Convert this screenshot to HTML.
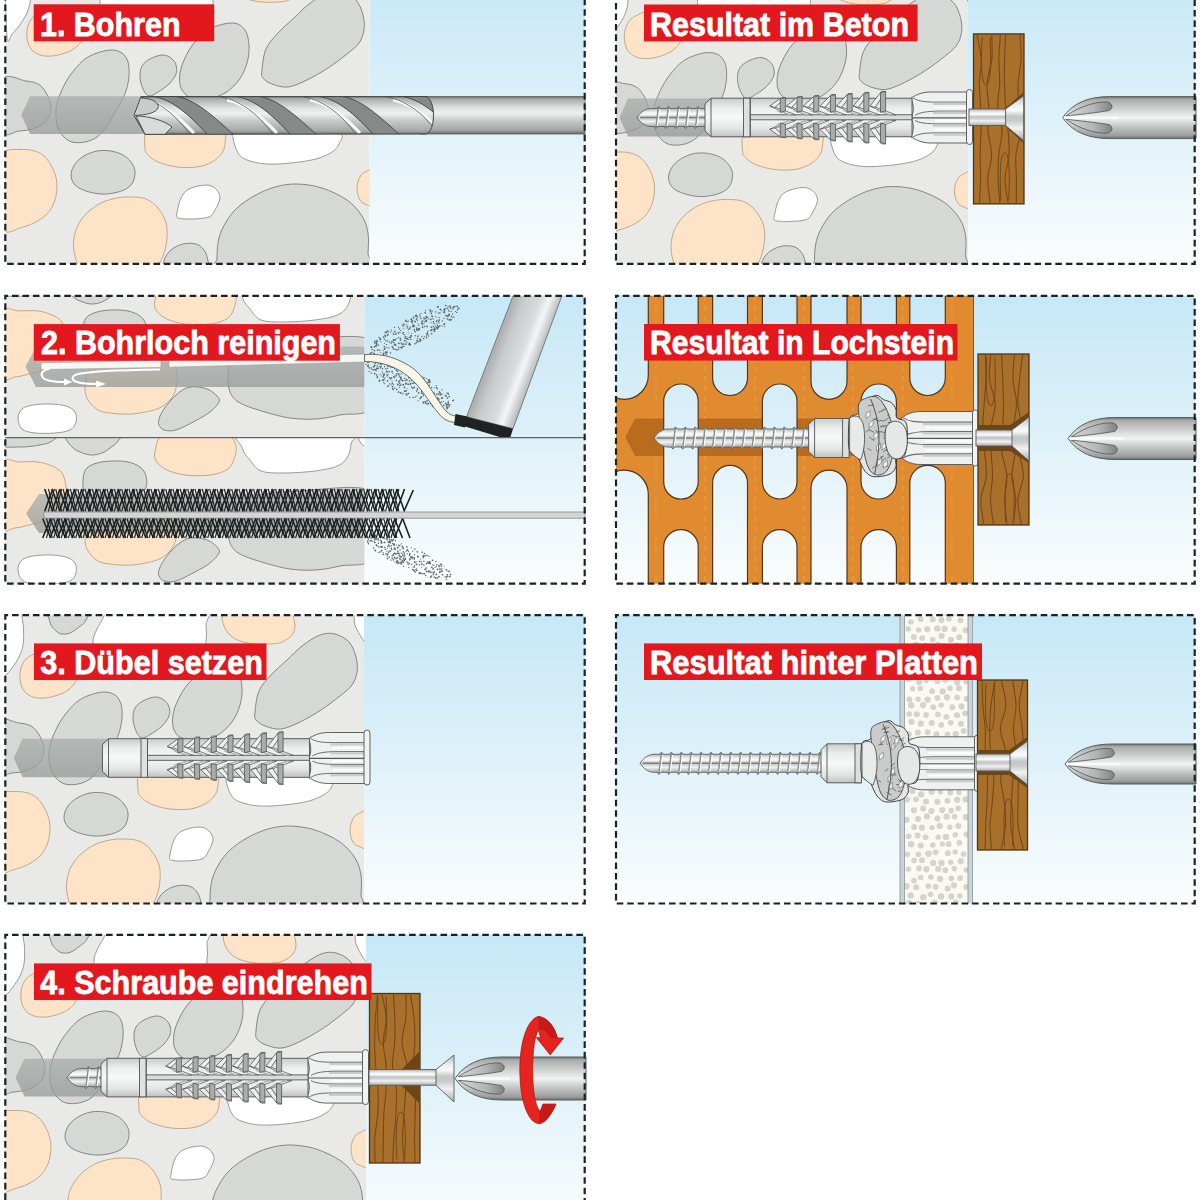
<!DOCTYPE html>
<html><head><meta charset="utf-8"><style>
html,body{margin:0;padding:0;background:#fff;overflow:hidden}
svg{display:block}
.lb{font-family:"Liberation Sans",sans-serif;font-weight:bold;font-size:33px;fill:#fff;stroke:#fff;stroke-width:0.8px;stroke-linejoin:round}
</style></head><body>
<svg width="1200" height="1200" viewBox="0 0 1200 1200">
<defs>
<linearGradient id="sky" x1="0" y1="0" x2="0" y2="1">
 <stop offset="0" stop-color="#c6e8f6"/><stop offset="0.45" stop-color="#dbf0f9"/><stop offset="0.75" stop-color="#edf7fb"/><stop offset="1" stop-color="#fafdfd"/>
</linearGradient>
<linearGradient id="hole" x1="0" y1="0" x2="0" y2="1">
 <stop offset="0" stop-color="#a6abaa" stop-opacity="0.72"/><stop offset="1" stop-color="#959a99" stop-opacity="0.76"/>
</linearGradient>
<linearGradient id="steel" x1="0" y1="0" x2="0" y2="1">
 <stop offset="0" stop-color="#656968"/><stop offset="0.07" stop-color="#a9acab"/><stop offset="0.3" stop-color="#dfe1e0"/><stop offset="0.45" stop-color="#eef0ef"/>
 <stop offset="0.65" stop-color="#c5c8c7"/><stop offset="0.9" stop-color="#a3a6a5"/><stop offset="1" stop-color="#5f6362"/>
</linearGradient>
<linearGradient id="plas" x1="0" y1="0" x2="0" y2="1">
 <stop offset="0" stop-color="#c9cccb"/><stop offset="0.25" stop-color="#eceeed"/><stop offset="0.5" stop-color="#f7f8f8"/><stop offset="0.8" stop-color="#e2e4e3"/><stop offset="1" stop-color="#bfc2c1"/>
</linearGradient>
<linearGradient id="scr" x1="0" y1="0" x2="0" y2="1">
 <stop offset="0" stop-color="#b4b8b7"/><stop offset="0.2" stop-color="#eceeee"/><stop offset="0.32" stop-color="#fbfbfb"/><stop offset="0.46" stop-color="#c4c7c6"/><stop offset="0.56" stop-color="#c9cccb"/><stop offset="0.72" stop-color="#f1f2f2"/><stop offset="1" stop-color="#a9adac"/>
</linearGradient>
<linearGradient id="steel2" x1="0" y1="0" x2="0" y2="1">
 <stop offset="0" stop-color="#6e7271"/><stop offset="0.07" stop-color="#a9acab"/><stop offset="0.3" stop-color="#cfd2d1"/><stop offset="0.5" stop-color="#f1f2f2"/><stop offset="0.75" stop-color="#bcbfbe"/><stop offset="0.93" stop-color="#9a9d9c"/><stop offset="1" stop-color="#6a6e6d"/>
</linearGradient>
<linearGradient id="flute" x1="0" y1="0" x2="1" y2="0">
 <stop offset="0" stop-color="#d6d8d7"/><stop offset="0.6" stop-color="#b3b6b5"/><stop offset="1" stop-color="#7f8382"/>
</linearGradient>
<g id="patA"><path d="M0.0,600.0 C3.7,587.0 18.3,597.3 22.0,600.0 C25.7,602.7 21.8,611.3 22.0,616.0 C22.2,620.7 23.3,623.2 23.5,628.0 C23.7,632.8 23.8,640.2 23.0,645.0 C22.2,649.8 20.8,653.2 19.0,657.0 C17.2,660.8 14.3,664.8 12.0,668.0 C9.7,671.2 7.0,674.3 5.0,676.0 C3.0,677.7 0.8,690.7 0.0,678.0 C-0.8,665.3 -3.7,613.0 0.0,600.0Z" fill="#ffffff" stroke="#9a9b9a" stroke-width="1"/>
<path d="M48.0,600.0 C41.0,603.7 48.7,616.8 50.0,622.0 C51.3,627.2 54.0,629.0 56.0,631.0 C58.0,633.0 59.7,633.7 62.0,634.0 C64.3,634.3 67.2,634.2 70.0,633.0 C72.8,631.8 76.3,629.2 79.0,627.0 C81.7,624.8 83.8,624.5 86.0,620.0 C88.2,615.5 98.3,603.3 92.0,600.0 C85.7,596.7 55.0,596.3 48.0,600.0Z" fill="#d6d8d5" stroke="#858685" stroke-width="1"/>
<path d="M108.0,600.0 C91.3,602.7 105.8,611.2 104.0,616.0 C102.2,620.8 98.8,624.7 97.0,629.0 C95.2,633.3 92.5,638.2 93.0,642.0 C93.5,645.8 90.5,649.8 100.0,652.0 C109.5,654.2 133.3,655.3 150.0,655.0 C166.7,654.7 190.7,652.5 200.0,650.0 C209.3,647.5 205.0,644.2 206.0,640.0 C207.0,635.8 206.3,631.7 206.0,625.0 C205.7,618.3 220.3,604.2 204.0,600.0 C187.7,595.8 124.7,597.3 108.0,600.0Z" fill="#ffffff" stroke="#9a9b9a" stroke-width="1"/>
<path d="M34.0,654.0 C31.3,655.3 28.2,656.7 26.0,659.0 C23.8,661.3 22.0,664.5 21.0,668.0 C20.0,671.5 19.5,676.2 20.0,680.0 C20.5,683.8 21.8,688.2 24.0,691.0 C26.2,693.8 29.5,695.8 33.0,697.0 C36.5,698.2 40.8,698.3 45.0,698.0 C49.2,697.7 54.2,696.3 58.0,695.0 C61.8,693.7 65.0,692.3 68.0,690.0 C71.0,687.7 74.3,684.3 76.0,681.0 C77.7,677.7 79.0,673.8 78.0,670.0 C77.0,666.2 73.8,661.0 70.0,658.0 C66.2,655.0 59.7,653.2 55.0,652.0 C50.3,650.8 45.5,650.7 42.0,651.0 C38.5,651.3 36.7,652.7 34.0,654.0Z" fill="#fde4c8" stroke="#c2a886" stroke-width="1"/>
<path d="M222.0,600.0 C210.5,602.7 221.7,611.7 222.0,616.0 C222.3,620.3 222.7,622.8 224.0,626.0 C225.3,629.2 227.3,632.5 230.0,635.0 C232.7,637.5 235.8,639.5 240.0,641.0 C244.2,642.5 249.8,643.5 255.0,644.0 C260.2,644.5 266.5,644.3 271.0,644.0 C275.5,643.7 278.5,643.5 282.0,642.0 C285.5,640.5 289.8,637.8 292.0,635.0 C294.2,632.2 295.0,628.8 295.0,625.0 C295.0,621.2 292.7,616.2 292.0,612.0 C291.3,607.8 302.7,602.0 291.0,600.0 C279.3,598.0 233.5,597.3 222.0,600.0Z" fill="#fde4c8" stroke="#c2a886" stroke-width="1"/>
<path d="M352.0,600.0 C348.5,602.7 353.5,611.8 354.0,616.0 C354.5,620.2 354.0,621.8 355.0,625.0 C356.0,628.2 358.2,632.0 360.0,635.0 C361.8,638.0 363.5,641.7 366.0,643.0 C368.5,644.3 373.5,650.2 375.0,643.0 C376.5,635.8 378.8,607.2 375.0,600.0 C371.2,592.8 355.5,597.3 352.0,600.0Z" fill="#ffffff" stroke="#9a9b9a" stroke-width="1"/>
<path d="M226.0,665.0 C231.5,665.3 235.3,668.2 238.0,672.0 C240.7,675.8 241.7,682.5 242.0,688.0 C242.3,693.5 241.7,699.3 240.0,705.0 C238.3,710.7 235.7,717.0 232.0,722.0 C228.3,727.0 223.3,731.8 218.0,735.0 C212.7,738.2 205.7,740.2 200.0,741.0 C194.3,741.8 188.3,741.8 184.0,740.0 C179.7,738.2 175.8,734.2 174.0,730.0 C172.2,725.8 172.3,720.0 173.0,715.0 C173.7,710.0 175.5,705.2 178.0,700.0 C180.5,694.8 183.5,689.0 188.0,684.0 C192.5,679.0 198.7,673.2 205.0,670.0 C211.3,666.8 220.5,664.7 226.0,665.0Z" fill="#d6d8d5" stroke="#858685" stroke-width="1"/>
<path d="M255.0,712.0 C255.5,707.2 256.3,697.2 259.0,691.0 C261.7,684.8 266.3,680.2 271.0,675.0 C275.7,669.8 281.8,664.8 287.0,660.0 C292.2,655.2 296.5,650.2 302.0,646.0 C307.5,641.8 314.5,637.0 320.0,635.0 C325.5,633.0 330.2,632.8 335.0,634.0 C339.8,635.2 345.5,638.2 349.0,642.0 C352.5,645.8 354.7,652.0 356.0,657.0 C357.3,662.0 357.7,667.3 357.0,672.0 C356.3,676.7 354.8,681.0 352.0,685.0 C349.2,689.0 345.2,691.8 340.0,696.0 C334.8,700.2 327.7,705.7 321.0,710.0 C314.3,714.3 306.7,718.8 300.0,722.0 C293.3,725.2 286.8,728.3 281.0,729.0 C275.2,729.7 269.2,727.5 265.0,726.0 C260.8,724.5 257.7,722.3 256.0,720.0 C254.3,717.7 254.5,716.8 255.0,712.0Z" fill="#d6d8d5" stroke="#858685" stroke-width="1"/>
<path d="M-5.0,722.0 C-1.0,713.7 13.0,722.3 19.0,723.0 C25.0,723.7 27.8,724.3 31.0,726.0 C34.2,727.7 36.2,730.5 38.0,733.0 C39.8,735.5 41.0,738.2 42.0,741.0 C43.0,743.8 44.0,747.0 44.0,750.0 C44.0,753.0 43.3,756.3 42.0,759.0 C40.7,761.7 38.8,764.0 36.0,766.0 C33.2,768.0 29.0,769.8 25.0,771.0 C21.0,772.2 17.0,772.7 12.0,773.0 C7.0,773.3 -2.2,781.5 -5.0,773.0 C-7.8,764.5 -9.0,730.3 -5.0,722.0Z" fill="#d6d8d5" stroke="#858685" stroke-width="1"/>
<path d="M54.0,734.0 C55.5,730.7 57.7,725.8 60.0,722.0 C62.3,718.2 65.0,714.5 68.0,711.0 C71.0,707.5 74.3,703.7 78.0,701.0 C81.7,698.3 85.7,696.5 90.0,695.0 C94.3,693.5 99.8,692.0 104.0,692.0 C108.2,692.0 112.2,693.0 115.0,695.0 C117.8,697.0 119.8,700.2 121.0,704.0 C122.2,707.8 122.3,713.2 122.0,718.0 C121.7,722.8 120.5,728.3 119.0,733.0 C117.5,737.7 115.2,741.8 113.0,746.0 C110.8,750.2 108.3,754.2 106.0,758.0 C103.7,761.8 101.7,765.5 99.0,769.0 C96.3,772.5 93.5,776.5 90.0,779.0 C86.5,781.5 82.2,783.2 78.0,784.0 C73.8,784.8 68.7,785.0 65.0,784.0 C61.3,783.0 58.5,780.8 56.0,778.0 C53.5,775.2 51.2,771.3 50.0,767.0 C48.8,762.7 48.8,756.2 49.0,752.0 C49.2,747.8 50.2,745.0 51.0,742.0 C51.8,739.0 52.5,737.3 54.0,734.0Z" fill="#d6d8d5" stroke="#858685" stroke-width="1"/>
<path d="M133.0,719.0 C132.8,715.2 133.3,711.0 135.0,708.0 C136.7,705.0 139.7,702.8 143.0,701.0 C146.3,699.2 151.5,697.2 155.0,697.0 C158.5,696.8 161.7,698.3 164.0,700.0 C166.3,701.7 168.2,704.3 169.0,707.0 C169.8,709.7 170.2,712.8 169.0,716.0 C167.8,719.2 165.0,723.0 162.0,726.0 C159.0,729.0 154.3,732.0 151.0,734.0 C147.7,736.0 144.5,738.5 142.0,738.0 C139.5,737.5 137.5,734.2 136.0,731.0 C134.5,727.8 133.2,722.8 133.0,719.0Z" fill="#d6d8d5" stroke="#858685" stroke-width="1"/>
<path d="M140.0,770.0 C136.3,774.2 137.8,785.5 138.0,790.0 C138.2,794.5 138.8,794.7 141.0,797.0 C143.2,799.3 146.2,802.0 151.0,804.0 C155.8,806.0 163.5,808.2 170.0,809.0 C176.5,809.8 184.2,809.8 190.0,809.0 C195.8,808.2 200.8,806.3 205.0,804.0 C209.2,801.7 212.8,798.2 215.0,795.0 C217.2,791.8 217.8,788.8 218.0,785.0 C218.2,781.2 220.7,775.3 216.0,772.0 C211.3,768.7 199.3,766.2 190.0,765.0 C180.7,763.8 168.3,764.2 160.0,765.0 C151.7,765.8 143.7,765.8 140.0,770.0Z" fill="#fde4c8" stroke="#c2a886" stroke-width="1"/>
<path d="M228.0,772.0 C222.3,774.0 225.5,776.2 226.0,780.0 C226.5,783.8 228.7,791.3 231.0,795.0 C233.3,798.7 235.3,800.2 240.0,802.0 C244.7,803.8 251.7,805.5 259.0,806.0 C266.3,806.5 275.7,805.8 284.0,805.0 C292.3,804.2 302.2,802.8 309.0,801.0 C315.8,799.2 321.2,796.5 325.0,794.0 C328.8,791.5 330.7,789.2 332.0,786.0 C333.3,782.8 338.3,778.0 333.0,775.0 C327.7,772.0 312.2,769.2 300.0,768.0 C287.8,766.8 272.0,767.3 260.0,768.0 C248.0,768.7 233.7,770.0 228.0,772.0Z" fill="#ffffff" stroke="#9a9b9a" stroke-width="1"/>
<path d="M64.0,817.0 C64.0,813.5 65.8,809.2 68.0,806.0 C70.2,802.8 73.3,800.2 77.0,798.0 C80.7,795.8 85.5,793.8 90.0,793.0 C94.5,792.2 99.7,792.3 104.0,793.0 C108.3,793.7 112.7,795.2 116.0,797.0 C119.3,798.8 122.0,801.3 124.0,804.0 C126.0,806.7 127.7,809.7 128.0,813.0 C128.3,816.3 127.5,821.0 126.0,824.0 C124.5,827.0 122.2,829.2 119.0,831.0 C115.8,832.8 111.2,834.2 107.0,835.0 C102.8,835.8 98.7,836.3 94.0,836.0 C89.3,835.7 83.3,834.5 79.0,833.0 C74.7,831.5 70.5,829.7 68.0,827.0 C65.5,824.3 64.0,820.5 64.0,817.0Z" fill="#d6d8d5" stroke="#858685" stroke-width="1"/>
<path d="M-14.0,833.0 C-14.0,822.0 -12.3,806.8 -10.0,800.0 C-7.7,793.2 -3.8,793.9 0.0,792.5 C3.8,791.1 8.7,791.5 13.0,791.5 C17.3,791.5 22.0,791.4 26.0,792.5 C30.0,793.6 33.8,795.2 37.0,798.0 C40.2,800.8 42.9,805.0 45.0,809.0 C47.1,813.0 48.8,817.7 49.5,822.0 C50.2,826.3 50.1,830.8 49.5,835.0 C48.9,839.2 47.8,843.3 46.0,847.0 C44.2,850.7 42.2,854.0 39.0,857.0 C35.8,860.0 31.3,862.8 27.0,865.0 C22.7,867.2 17.5,868.5 13.0,870.0 C8.5,871.5 3.8,874.7 0.0,874.0 C-3.8,873.3 -7.7,872.8 -10.0,866.0 C-12.3,859.2 -14.0,844.0 -14.0,833.0Z" fill="#fde4c8" stroke="#c2a886" stroke-width="1"/>
<path d="M170.0,855.0 C170.5,851.7 172.0,844.0 174.0,840.0 C176.0,836.0 177.8,833.2 182.0,831.0 C186.2,828.8 194.5,827.0 199.0,827.0 C203.5,827.0 206.7,828.8 209.0,831.0 C211.3,833.2 213.2,836.5 213.0,840.0 C212.8,843.5 209.8,848.8 208.0,852.0 C206.2,855.2 205.8,857.5 202.0,859.0 C198.2,860.5 190.2,860.8 185.0,861.0 C179.8,861.2 173.5,861.0 171.0,860.0 C168.5,859.0 169.5,858.3 170.0,855.0Z" fill="#ffffff" stroke="#9a9b9a" stroke-width="1"/>
<path d="M375.0,811.0 C372.2,805.3 361.8,812.3 358.0,814.0 C354.2,815.7 353.3,818.3 352.0,821.0 C350.7,823.7 350.0,826.8 350.0,830.0 C350.0,833.2 350.7,837.3 352.0,840.0 C353.3,842.7 354.2,844.7 358.0,846.0 C361.8,847.3 372.2,853.8 375.0,848.0 C377.8,842.2 377.8,816.7 375.0,811.0Z" fill="#fde4c8" stroke="#c2a886" stroke-width="1"/>
<path d="M78.0,925.0 C66.5,922.2 72.8,913.3 71.0,908.0 C69.2,902.7 67.7,897.7 67.0,893.0 C66.3,888.3 66.3,884.3 67.0,880.0 C67.7,875.7 68.8,871.2 71.0,867.0 C73.2,862.8 76.2,858.7 80.0,855.0 C83.8,851.3 89.0,847.5 94.0,845.0 C99.0,842.5 104.8,841.0 110.0,840.0 C115.2,839.0 120.2,838.8 125.0,839.0 C129.8,839.2 134.7,839.2 139.0,841.0 C143.3,842.8 147.7,846.0 151.0,850.0 C154.3,854.0 157.5,860.0 159.0,865.0 C160.5,870.0 160.3,875.0 160.0,880.0 C159.7,885.0 158.7,890.0 157.0,895.0 C155.3,900.0 152.8,905.0 150.0,910.0 C147.2,915.0 152.0,922.5 140.0,925.0 C128.0,927.5 89.5,927.8 78.0,925.0Z" fill="#fde4c8" stroke="#c2a886" stroke-width="1"/>
<path d="M157.0,920.0 C149.7,917.2 155.8,907.7 157.0,903.0 C158.2,898.3 160.8,894.8 164.0,892.0 C167.2,889.2 171.8,887.0 176.0,886.0 C180.2,885.0 185.5,885.0 189.0,886.0 C192.5,887.0 195.0,889.2 197.0,892.0 C199.0,894.8 200.3,898.3 201.0,903.0 C201.7,907.7 208.3,917.2 201.0,920.0 C193.7,922.8 164.3,922.8 157.0,920.0Z" fill="#d6d8d5" stroke="#858685" stroke-width="1"/>
<path d="M212.0,925.0 C187.2,920.8 210.0,907.5 210.0,900.0 C210.0,892.5 210.5,886.0 212.0,880.0 C213.5,874.0 216.0,869.0 219.0,864.0 C222.0,859.0 225.3,854.3 230.0,850.0 C234.7,845.7 240.7,841.5 247.0,838.0 C253.3,834.5 260.8,831.0 268.0,829.0 C275.2,827.0 282.2,825.8 290.0,826.0 C297.8,826.2 306.7,827.3 315.0,830.0 C323.3,832.7 333.3,837.3 340.0,842.0 C346.7,846.7 351.5,852.5 355.0,858.0 C358.5,863.5 360.0,868.8 361.0,875.0 C362.0,881.2 361.3,886.7 361.0,895.0 C360.7,903.3 383.8,920.0 359.0,925.0 C334.2,930.0 236.8,929.2 212.0,925.0Z" fill="#d6d8d5" stroke="#858685" stroke-width="1"/></g>
<g id="patB"><path d="M-5.0,278.0 C-15.2,280.3 -9.2,291.0 -5.0,294.0 C-0.8,297.0 12.5,296.0 20.0,296.0 C27.5,296.0 34.7,295.0 40.0,294.0 C45.3,293.0 49.3,292.3 52.0,290.0 C54.7,287.7 65.5,282.0 56.0,280.0 C46.5,278.0 5.2,275.7 -5.0,278.0Z" fill="#d6d8d5" stroke="#858685" stroke-width="1"/>
<path d="M63.0,278.0 C53.8,279.7 64.5,285.0 66.0,288.0 C67.5,291.0 69.7,293.8 72.0,296.0 C74.3,298.2 76.8,299.7 80.0,301.0 C83.2,302.3 87.3,303.8 91.0,304.0 C94.7,304.2 98.8,303.2 102.0,302.0 C105.2,300.8 107.3,299.0 110.0,297.0 C112.7,295.0 116.2,293.2 118.0,290.0 C119.8,286.8 130.2,280.0 121.0,278.0 C111.8,276.0 72.2,276.3 63.0,278.0Z" fill="#d6d8d5" stroke="#858685" stroke-width="1"/>
<path d="M-5.0,313.0 C-0.8,302.0 12.8,311.3 20.0,311.0 C27.2,310.7 32.7,310.3 38.0,311.0 C43.3,311.7 48.0,313.2 52.0,315.0 C56.0,316.8 59.7,318.7 62.0,322.0 C64.3,325.3 65.3,330.3 66.0,335.0 C66.7,339.7 67.0,345.5 66.0,350.0 C65.0,354.5 63.5,358.7 60.0,362.0 C56.5,365.3 50.2,368.0 45.0,370.0 C39.8,372.0 34.0,372.8 29.0,374.0 C24.0,375.2 20.7,376.5 15.0,377.0 C9.3,377.5 -1.7,387.7 -5.0,377.0 C-8.3,366.3 -9.2,324.0 -5.0,313.0Z" fill="#fde4c8" stroke="#c2a886" stroke-width="1"/>
<path d="M156.0,296.0 C156.8,292.3 157.3,288.3 160.0,286.0 C162.7,283.7 161.5,282.5 172.0,282.0 C182.5,281.5 212.5,281.3 223.0,283.0 C233.5,284.7 233.0,288.3 235.0,292.0 C237.0,295.7 236.2,300.7 235.0,305.0 C233.8,309.3 232.2,314.8 228.0,318.0 C223.8,321.2 217.2,323.0 210.0,324.0 C202.8,325.0 192.5,325.0 185.0,324.0 C177.5,323.0 170.0,320.7 165.0,318.0 C160.0,315.3 156.5,311.7 155.0,308.0 C153.5,304.3 155.2,299.7 156.0,296.0Z" fill="#fde4c8" stroke="#c2a886" stroke-width="1"/>
<path d="M83.0,330.0 C83.2,326.3 83.7,321.0 86.0,318.0 C88.3,315.0 92.7,313.3 97.0,312.0 C101.3,310.7 106.8,310.2 112.0,310.0 C117.2,309.8 123.3,310.0 128.0,311.0 C132.7,312.0 137.0,313.7 140.0,316.0 C143.0,318.3 145.2,321.3 146.0,325.0 C146.8,328.7 147.7,334.5 145.0,338.0 C142.3,341.5 137.5,344.7 130.0,346.0 C122.5,347.3 107.5,347.0 100.0,346.0 C92.5,345.0 87.8,342.7 85.0,340.0 C82.2,337.3 82.8,333.7 83.0,330.0Z" fill="#d6d8d5" stroke="#858685" stroke-width="1"/>
<path d="M242.0,276.0 C224.1,279.6 241.2,292.0 242.5,297.5 C243.8,303.0 246.9,305.2 250.0,309.0 C253.1,312.8 255.3,317.8 261.0,320.0 C266.7,322.2 275.0,322.0 284.0,322.0 C293.0,322.0 306.1,321.2 315.0,320.0 C323.9,318.8 332.1,317.3 337.5,315.0 C342.9,312.7 345.2,309.7 347.5,306.0 C349.8,302.3 350.6,298.0 351.0,293.0 C351.4,288.0 368.2,278.8 350.0,276.0 C331.8,273.2 259.9,272.4 242.0,276.0Z" fill="#ffffff" stroke="#9a9b9a" stroke-width="1"/>
<path d="M357.0,270.0 C353.3,272.3 357.5,280.5 358.0,284.0 C358.5,287.5 359.0,289.2 360.0,291.0 C361.0,292.8 362.3,294.0 364.0,295.0 C365.7,296.0 367.3,296.5 370.0,297.0 C372.7,297.5 378.3,302.5 380.0,298.0 C381.7,293.5 383.8,274.7 380.0,270.0 C376.2,265.3 360.7,267.7 357.0,270.0Z" fill="#ffffff" stroke="#9a9b9a" stroke-width="1"/>
<path d="M375.0,342.0 C362.5,331.2 320.8,339.3 300.0,340.0 C279.2,340.7 261.3,342.7 250.0,346.0 C238.7,349.3 235.7,355.2 232.0,360.0 C228.3,364.8 228.3,369.7 228.0,375.0 C227.7,380.3 228.0,387.3 230.0,392.0 C232.0,396.7 234.2,399.7 240.0,403.0 C245.8,406.3 256.7,409.5 265.0,412.0 C273.3,414.5 281.7,416.8 290.0,418.0 C298.3,419.2 306.7,419.5 315.0,419.0 C323.3,418.5 330.0,417.3 340.0,415.0 C350.0,412.7 369.2,417.2 375.0,405.0 C380.8,392.8 387.5,352.8 375.0,342.0Z" fill="#d6d8d5" stroke="#858685" stroke-width="1"/>
<path d="M85.0,388.0 C85.0,392.7 85.8,396.3 88.0,400.0 C90.2,403.7 94.3,407.8 98.0,410.0 C101.7,412.2 104.3,412.3 110.0,413.0 C115.7,413.7 124.2,414.7 132.0,414.0 C139.8,413.3 150.7,411.3 157.0,409.0 C163.3,406.7 166.8,403.5 170.0,400.0 C173.2,396.5 174.8,392.7 176.0,388.0 C177.2,383.3 178.0,376.7 177.0,372.0 C176.0,367.3 176.2,362.7 170.0,360.0 C163.8,357.3 151.7,356.0 140.0,356.0 C128.3,356.0 108.7,357.3 100.0,360.0 C91.3,362.7 90.5,367.3 88.0,372.0 C85.5,376.7 85.0,383.3 85.0,388.0Z" fill="#fde4c8" stroke="#c2a886" stroke-width="1"/>
<path d="M159.0,419.0 C159.8,416.3 161.2,413.0 164.0,409.0 C166.8,405.0 171.7,398.7 176.0,395.0 C180.3,391.3 184.8,388.0 190.0,387.0 C195.2,386.0 202.5,387.5 207.0,389.0 C211.5,390.5 215.0,393.8 217.0,396.0 C219.0,398.2 220.2,399.3 219.0,402.0 C217.8,404.7 214.0,408.8 210.0,412.0 C206.0,415.2 200.7,418.0 195.0,421.0 C189.3,424.0 181.2,428.5 176.0,430.0 C170.8,431.5 166.8,430.8 164.0,430.0 C161.2,429.2 159.8,426.8 159.0,425.0 C158.2,423.2 158.2,421.7 159.0,419.0Z" fill="#d6d8d5" stroke="#858685" stroke-width="1"/>
<path d="M18.0,418.0 C18.0,414.7 19.5,411.2 22.0,409.0 C24.5,406.8 28.3,405.8 33.0,405.0 C37.7,404.2 44.5,403.8 50.0,404.0 C55.5,404.2 61.8,404.7 66.0,406.0 C70.2,407.3 73.3,409.3 75.0,412.0 C76.7,414.7 76.8,419.0 76.0,422.0 C75.2,425.0 73.5,428.2 70.0,430.0 C66.5,431.8 60.8,432.5 55.0,433.0 C49.2,433.5 40.5,433.7 35.0,433.0 C29.5,432.3 24.8,431.5 22.0,429.0 C19.2,426.5 18.0,421.3 18.0,418.0Z" fill="#ffffff" stroke="#9a9b9a" stroke-width="1"/></g>
</defs>
<rect width="1200" height="1200" fill="#fff"/>
<clipPath id="cL1"><rect x="5.3" y="-24.2" width="364.2" height="288.0"/></clipPath>
<rect x="369.5" y="-24.2" width="215.20000000000005" height="288.0" fill="url(#sky)"/>
<g clip-path="url(#cL1)"><rect x="5.3" y="-24.2" width="364.2" height="288.0" fill="#e9e9e8"/><use href="#patA" transform="translate(7,-642)"/></g>
<clipPath id="cL3"><rect x="5.3" y="615.2" width="358.7" height="288.29999999999995"/></clipPath>
<rect x="364" y="615.2" width="220.70000000000005" height="288.29999999999995" fill="url(#sky)"/>
<g clip-path="url(#cL3)"><rect x="5.3" y="615.2" width="358.7" height="288.29999999999995" fill="#e9e9e8"/><use href="#patA" transform="translate(0,0)"/></g>
<clipPath id="cL4"><rect x="5.3" y="934.8" width="360.7" height="288.0"/></clipPath>
<rect x="366" y="934.8" width="218.70000000000005" height="288.0" fill="url(#sky)"/>
<g clip-path="url(#cL4)"><rect x="5.3" y="934.8" width="360.7" height="288.0" fill="#e9e9e8"/><use href="#patA" transform="translate(1,319)"/></g>
<clipPath id="cR1"><rect x="616" y="-24.2" width="352" height="288.0"/></clipPath>
<rect x="968" y="-24.2" width="226.70000000000005" height="288.0" fill="url(#sky)"/>
<g clip-path="url(#cR1)"><rect x="616" y="-24.2" width="352" height="288.0" fill="#e9e9e8"/><use href="#patA" transform="translate(604.5,-639.5)"/></g>
<clipPath id="cL2a"><rect x="5.3" y="295.8" width="359" height="141.8"/></clipPath>
<clipPath id="cL2b"><rect x="5.3" y="437.6" width="359" height="146.1"/></clipPath>
<rect x="364.3" y="295.8" width="220.4" height="287.9" fill="url(#sky)"/>
<g clip-path="url(#cL2a)"><rect x="0" y="290" width="370" height="150" fill="#e9e9e8"/><use href="#patB"/></g>
<g clip-path="url(#cL2b)"><rect x="0" y="430" width="370" height="160" fill="#e9e9e8"/><use href="#patB" transform="translate(0,151)"/></g>
<rect x="616" y="295.8" width="578.7" height="287.9" fill="url(#sky)"/>
<rect x="616" y="615.2" width="578.7" height="288.3" fill="url(#sky)"/>
<path d="M21.3,115 L30,96.3 L369.5,96.3 L369.5,134 L30,134 Z" fill="url(#hole)"/>
<path d="M13.8,758 L22.5,738.8 L364,738.8 L364,777.3 L22.5,777.3 Z" fill="url(#hole)"/>
<path d="M15.6,1077.6 L24.4,1058.8 L366,1058.8 L366,1096.6 L24.4,1096.6 Z" fill="url(#hole)"/>
<path d="M619.4,117.5 L628,98.5 L968,98.5 L968,136.5 L628,136.5 Z" fill="url(#hole)"/>
<path d="M25.6,366.5 L36,346.5 L364.3,346.5 L364.3,387 L36,387 Z" fill="url(#hole)"/>
<path d="M26,513.5 L39,494 L364.3,494 L364.3,533 L39,533 Z" fill="url(#hole)"/>
<clipPath id="cDr"><path d="M134,115.5 L141,96.6 L426,96.6 C436,100 436,131 426,134 L145,134.3 Z"/></clipPath>
<rect x="420" y="96.6" width="165" height="37.4" fill="url(#steel)" stroke="#5c5f5e" stroke-width="0.8"/>
<g clip-path="url(#cDr)">
<rect x="130" y="96" width="310" height="39" fill="url(#steel)"/>
<path d="M67,96 C89,98 107,116 125,135 L151,135 C131,117 113,99 91,96 Z" fill="#858988" stroke="#3f4342" stroke-width="0.9"/>
<path d="M61,100 C81,104 97,118 111,133" fill="none" stroke="#f7f8f8" stroke-width="3"/>
<path d="M55,97 C77,101 93,116 107,134" fill="none" stroke="#55595a" stroke-width="0.8"/>
<path d="M150,96 C172,98 190,116 208,135 L234,135 C214,117 196,99 174,96 Z" fill="#858988" stroke="#3f4342" stroke-width="0.9"/>
<path d="M144,100 C164,104 180,118 194,133" fill="none" stroke="#f7f8f8" stroke-width="3"/>
<path d="M138,97 C160,101 176,116 190,134" fill="none" stroke="#55595a" stroke-width="0.8"/>
<path d="M233,96 C255,98 273,116 291,135 L317,135 C297,117 279,99 257,96 Z" fill="#858988" stroke="#3f4342" stroke-width="0.9"/>
<path d="M227,100 C247,104 263,118 277,133" fill="none" stroke="#f7f8f8" stroke-width="3"/>
<path d="M221,97 C243,101 259,116 273,134" fill="none" stroke="#55595a" stroke-width="0.8"/>
<path d="M316,96 C338,98 356,116 374,135 L400,135 C380,117 362,99 340,96 Z" fill="#858988" stroke="#3f4342" stroke-width="0.9"/>
<path d="M310,100 C330,104 346,118 360,133" fill="none" stroke="#f7f8f8" stroke-width="3"/>
<path d="M304,97 C326,101 342,116 356,134" fill="none" stroke="#55595a" stroke-width="0.8"/>
<path d="M399,96 C421,98 439,116 457,135 L483,135 C463,117 445,99 423,96 Z" fill="#858988" stroke="#3f4342" stroke-width="0.9"/>
<path d="M393,100 C413,104 429,118 443,133" fill="none" stroke="#f7f8f8" stroke-width="3"/>
<path d="M387,97 C409,101 425,116 439,134" fill="none" stroke="#55595a" stroke-width="0.8"/>
<path d="M482,96 C504,98 522,116 540,135 L566,135 C546,117 528,99 506,96 Z" fill="#858988" stroke="#3f4342" stroke-width="0.9"/>
<path d="M476,100 C496,104 512,118 526,133" fill="none" stroke="#f7f8f8" stroke-width="3"/>
<path d="M470,97 C492,101 508,116 522,134" fill="none" stroke="#55595a" stroke-width="0.8"/>
</g>
<path d="M134,115.5 L141,96.6 L426,96.6 C436,100 436,131 426,134 L145,134.3 Z" fill="none" stroke="#3f4342" stroke-width="1"/>
<path d="M141,98 C150,98 160,102 158,108 C156,113 146,115 135,115.5" fill="#c9cccb" stroke="#3f4342" stroke-width="0.9"/>
<path d="M136,116 C150,116 165,121 172,127 C168,131 166,133 165,134.3 L145,134.3 Z" fill="#dadcdb" stroke="#3f4342" stroke-width="0.9"/>
<g transform="translate(102.5,758)" stroke="#4f5352" stroke-width="0.9">
<path d="M206,-19.5 C212,-23 217,-25.5 226,-25.5 L262,-25.5 L262,25.5 L226,25.5 C217,25.5 212,23 206,19.5 Z" fill="#eff0f0"/>
<path d="M208,-19.5 C214,-16 220,-15.4 232,-15.4 L262,-15.4" fill="none" stroke="#6b6f6e" stroke-width="1"/>
<path d="M210,-2 C214,-5 222,-6.4 236,-6.4 L262,-6.4" fill="none" stroke="#6b6f6e" stroke-width="1"/>
<path d="M206,0.4 L262,0.4" fill="none" stroke="#55595a" stroke-width="1.1"/>
<path d="M210,3 C214,5.5 222,6.4 236,6.4 L262,6.4" fill="none" stroke="#6b6f6e" stroke-width="1"/>
<path d="M208,19.5 C214,16 220,15.4 232,15.4 L262,15.4" fill="none" stroke="#6b6f6e" stroke-width="1"/>
<path d="M228,-13.6 L262,-13.6" stroke="#c9cccb" stroke-width="2.2" fill="none"/>
<path d="M228,-4.6 L262,-4.6" stroke="#c9cccb" stroke-width="2.2" fill="none"/>
<path d="M228,8.2 L262,8.2" stroke="#c9cccb" stroke-width="2.2" fill="none"/>
<path d="M228,17.2 L262,17.2" stroke="#c9cccb" stroke-width="2.2" fill="none"/>
<path d="M230,-10 L262,-10" stroke="#ffffff" stroke-width="1.8" fill="none"/>
<path d="M230,3 L262,3" stroke="#ffffff" stroke-width="1.8" fill="none"/>
<path d="M230,12 L262,12" stroke="#ffffff" stroke-width="1.8" fill="none"/>
<path d="M206,-19.5 C209,-12 209,-5 206,0.4 C209,6 209,13 206,19.5" fill="none" stroke="#55595a" stroke-width="1"/>
<rect x="261.5" y="-28" width="6" height="55" rx="3" fill="#f1f2f2"/>
<rect x="45" y="-19.3" width="162" height="38.6" fill="url(#plas)"/>
<rect x="45" y="-2.7" width="162" height="5" fill="#d9dcdb"/>
<path d="M64.8,-11.5 L69.8,-10.5 L90.8,-2.7 L83.8,-2.7 Z" fill="#f4f5f5" stroke="#5b5f5e" stroke-width="0.8"/>
<path d="M71.8,-7.0 L85.8,-2.7" stroke="#b9bcbb" stroke-width="1.6" fill="none"/>
<path d="M64.8,-11.5 L76.3,-19.8 L80.4,-19.8 L69.8,-10.0 Z" fill="#eef0ef" stroke-width="0.8"/>
<path d="M75.3,-18.3 L80.4,-19.8 L80.4,-6.5 L75.3,-5.2 Z" fill="#aaadac" stroke-width="0.8"/>
<path d="M64.8,11.8 L69.8,10.8 L90.8,3.0 L83.8,3.0 Z" fill="#f4f5f5" stroke="#5b5f5e" stroke-width="0.8"/>
<path d="M71.8,7.3 L85.8,3.0" stroke="#b9bcbb" stroke-width="1.6" fill="none"/>
<path d="M64.8,11.8 L76.3,20.1 L80.4,20.1 L69.8,10.3 Z" fill="#eef0ef" stroke-width="0.8"/>
<path d="M75.3,18.6 L80.4,20.1 L80.4,6.8 L75.3,5.5 Z" fill="#aaadac" stroke-width="0.8"/>
<path d="M81.5,-11.5 L86.5,-10.5 L107.5,-2.7 L100.5,-2.7 Z" fill="#f4f5f5" stroke="#5b5f5e" stroke-width="0.8"/>
<path d="M88.5,-7.0 L102.5,-2.7" stroke="#b9bcbb" stroke-width="1.6" fill="none"/>
<path d="M81.5,-11.5 L93.0,-20.9 L97.1,-20.9 L86.5,-10.0 Z" fill="#eef0ef" stroke-width="0.8"/>
<path d="M92.0,-19.4 L97.1,-20.9 L97.1,-6.5 L92.0,-5.2 Z" fill="#aaadac" stroke-width="0.8"/>
<path d="M81.5,11.8 L86.5,10.8 L107.5,3.0 L100.5,3.0 Z" fill="#f4f5f5" stroke="#5b5f5e" stroke-width="0.8"/>
<path d="M88.5,7.3 L102.5,3.0" stroke="#b9bcbb" stroke-width="1.6" fill="none"/>
<path d="M81.5,11.8 L93.0,21.2 L97.1,21.2 L86.5,10.3 Z" fill="#eef0ef" stroke-width="0.8"/>
<path d="M92.0,19.7 L97.1,21.2 L97.1,6.8 L92.0,5.5 Z" fill="#aaadac" stroke-width="0.8"/>
<path d="M98.2,-11.5 L103.2,-10.5 L124.2,-2.7 L117.2,-2.7 Z" fill="#f4f5f5" stroke="#5b5f5e" stroke-width="0.8"/>
<path d="M105.2,-7.0 L119.2,-2.7" stroke="#b9bcbb" stroke-width="1.6" fill="none"/>
<path d="M98.2,-11.5 L109.7,-21.9 L113.8,-21.9 L103.2,-10.0 Z" fill="#eef0ef" stroke-width="0.8"/>
<path d="M108.7,-20.4 L113.8,-21.9 L113.8,-6.5 L108.7,-5.2 Z" fill="#aaadac" stroke-width="0.8"/>
<path d="M98.2,11.8 L103.2,10.8 L124.2,3.0 L117.2,3.0 Z" fill="#f4f5f5" stroke="#5b5f5e" stroke-width="0.8"/>
<path d="M105.2,7.3 L119.2,3.0" stroke="#b9bcbb" stroke-width="1.6" fill="none"/>
<path d="M98.2,11.8 L109.7,22.2 L113.8,22.2 L103.2,10.3 Z" fill="#eef0ef" stroke-width="0.8"/>
<path d="M108.7,20.7 L113.8,22.2 L113.8,6.8 L108.7,5.5 Z" fill="#aaadac" stroke-width="0.8"/>
<path d="M114.9,-11.5 L119.9,-10.5 L140.9,-2.7 L133.9,-2.7 Z" fill="#f4f5f5" stroke="#5b5f5e" stroke-width="0.8"/>
<path d="M121.9,-7.0 L135.9,-2.7" stroke="#b9bcbb" stroke-width="1.6" fill="none"/>
<path d="M114.9,-11.5 L126.4,-23.0 L130.5,-23.0 L119.9,-10.0 Z" fill="#eef0ef" stroke-width="0.8"/>
<path d="M125.4,-21.5 L130.5,-23.0 L130.5,-6.5 L125.4,-5.2 Z" fill="#aaadac" stroke-width="0.8"/>
<path d="M114.9,11.8 L119.9,10.8 L140.9,3.0 L133.9,3.0 Z" fill="#f4f5f5" stroke="#5b5f5e" stroke-width="0.8"/>
<path d="M121.9,7.3 L135.9,3.0" stroke="#b9bcbb" stroke-width="1.6" fill="none"/>
<path d="M114.9,11.8 L126.4,23.3 L130.5,23.3 L119.9,10.3 Z" fill="#eef0ef" stroke-width="0.8"/>
<path d="M125.4,21.8 L130.5,23.3 L130.5,6.8 L125.4,5.5 Z" fill="#aaadac" stroke-width="0.8"/>
<path d="M131.6,-11.5 L136.6,-10.5 L157.6,-2.7 L150.6,-2.7 Z" fill="#f4f5f5" stroke="#5b5f5e" stroke-width="0.8"/>
<path d="M138.6,-7.0 L152.6,-2.7" stroke="#b9bcbb" stroke-width="1.6" fill="none"/>
<path d="M131.6,-11.5 L143.1,-24.0 L147.2,-24.0 L136.6,-10.0 Z" fill="#eef0ef" stroke-width="0.8"/>
<path d="M142.1,-22.5 L147.2,-24.0 L147.2,-6.5 L142.1,-5.2 Z" fill="#aaadac" stroke-width="0.8"/>
<path d="M131.6,11.8 L136.6,10.8 L157.6,3.0 L150.6,3.0 Z" fill="#f4f5f5" stroke="#5b5f5e" stroke-width="0.8"/>
<path d="M138.6,7.3 L152.6,3.0" stroke="#b9bcbb" stroke-width="1.6" fill="none"/>
<path d="M131.6,11.8 L143.1,24.3 L147.2,24.3 L136.6,10.3 Z" fill="#eef0ef" stroke-width="0.8"/>
<path d="M142.1,22.8 L147.2,24.3 L147.2,6.8 L142.1,5.5 Z" fill="#aaadac" stroke-width="0.8"/>
<path d="M148.3,-11.5 L153.3,-10.5 L174.3,-2.7 L167.3,-2.7 Z" fill="#f4f5f5" stroke="#5b5f5e" stroke-width="0.8"/>
<path d="M155.3,-7.0 L169.3,-2.7" stroke="#b9bcbb" stroke-width="1.6" fill="none"/>
<path d="M148.3,-11.5 L159.8,-25.1 L163.9,-25.1 L153.3,-10.0 Z" fill="#eef0ef" stroke-width="0.8"/>
<path d="M158.8,-23.6 L163.9,-25.1 L163.9,-6.5 L158.8,-5.2 Z" fill="#aaadac" stroke-width="0.8"/>
<path d="M148.3,11.8 L153.3,10.8 L174.3,3.0 L167.3,3.0 Z" fill="#f4f5f5" stroke="#5b5f5e" stroke-width="0.8"/>
<path d="M155.3,7.3 L169.3,3.0" stroke="#b9bcbb" stroke-width="1.6" fill="none"/>
<path d="M148.3,11.8 L159.8,25.4 L163.9,25.4 L153.3,10.3 Z" fill="#eef0ef" stroke-width="0.8"/>
<path d="M158.8,23.9 L163.9,25.4 L163.9,6.8 L158.8,5.5 Z" fill="#aaadac" stroke-width="0.8"/>
<path d="M165.0,-11.5 L170.0,-10.5 L191.0,-2.7 L184.0,-2.7 Z" fill="#f4f5f5" stroke="#5b5f5e" stroke-width="0.8"/>
<path d="M172.0,-7.0 L186.0,-2.7" stroke="#b9bcbb" stroke-width="1.6" fill="none"/>
<path d="M165.0,-11.5 L176.5,-26.1 L180.6,-26.1 L170.0,-10.0 Z" fill="#eef0ef" stroke-width="0.8"/>
<path d="M175.5,-24.6 L180.6,-26.1 L180.6,-6.5 L175.5,-5.2 Z" fill="#aaadac" stroke-width="0.8"/>
<path d="M165.0,11.8 L170.0,10.8 L191.0,3.0 L184.0,3.0 Z" fill="#f4f5f5" stroke="#5b5f5e" stroke-width="0.8"/>
<path d="M172.0,7.3 L186.0,3.0" stroke="#b9bcbb" stroke-width="1.6" fill="none"/>
<path d="M165.0,11.8 L176.5,26.4 L180.6,26.4 L170.0,10.3 Z" fill="#eef0ef" stroke-width="0.8"/>
<path d="M175.5,24.9 L180.6,26.4 L180.6,6.8 L175.5,5.5 Z" fill="#aaadac" stroke-width="0.8"/>
<path d="M0,-13.5 L6,-19.3 L45,-19.3 L45,19.3 L6,19.3 L0,13.5 Z" fill="url(#plas)"/>
<path d="M6,-19.3 L6,19.3" fill="none"/>
<rect x="38.5" y="-19.3" width="6.5" height="38.6" fill="#dfe1e0"/>
</g>
<g>
<path d="M67,1077.6 C71,1071.6 76,1068.6 81,1068.6 L103,1068.6 L103,1086.6 L81,1086.6 C76,1086.6 71,1083.6 67,1077.6 Z" fill="url(#scr)" stroke="#5d6160" stroke-width="0.9"/>
<path d="M70,1077.6 L103,1077.6" stroke="#7c807f" stroke-width="1.4" fill="none"/>
<path d="M88.5,1066.4 L85.8,1088.8" fill="none" stroke="#8b8f8e" stroke-width="1.5"/>
<path d="M89.8,1069.1 L87.3,1086.1" fill="none" stroke="#ffffff" stroke-width="1"/>
<path d="M86.9,1068.6 Q88.5,1065.2 90.1,1068.6 M84.2,1086.6 Q85.8,1090.0 87.4,1086.6" fill="#9da1a0" stroke="#4f5352" stroke-width="0.7"/>
<path d="M98.4,1066.4 L95.7,1088.8" fill="none" stroke="#8b8f8e" stroke-width="1.5"/>
<path d="M99.7,1069.1 L97.2,1086.1" fill="none" stroke="#ffffff" stroke-width="1"/>
<path d="M96.8,1068.6 Q98.4,1065.2 100.0,1068.6 M94.1,1086.6 Q95.7,1090.0 97.3,1086.6" fill="#9da1a0" stroke="#4f5352" stroke-width="0.7"/>
</g>
<g transform="translate(101,1077.6)" stroke="#4f5352" stroke-width="0.9">
<path d="M206,-19.5 C212,-23 217,-25.5 226,-25.5 L262,-25.5 L262,25.5 L226,25.5 C217,25.5 212,23 206,19.5 Z" fill="#eff0f0"/>
<path d="M208,-19.5 C214,-16 220,-15.4 232,-15.4 L262,-15.4" fill="none" stroke="#6b6f6e" stroke-width="1"/>
<path d="M210,-2 C214,-5 222,-6.4 236,-6.4 L262,-6.4" fill="none" stroke="#6b6f6e" stroke-width="1"/>
<path d="M206,0.4 L262,0.4" fill="none" stroke="#55595a" stroke-width="1.1"/>
<path d="M210,3 C214,5.5 222,6.4 236,6.4 L262,6.4" fill="none" stroke="#6b6f6e" stroke-width="1"/>
<path d="M208,19.5 C214,16 220,15.4 232,15.4 L262,15.4" fill="none" stroke="#6b6f6e" stroke-width="1"/>
<path d="M228,-13.6 L262,-13.6" stroke="#c9cccb" stroke-width="2.2" fill="none"/>
<path d="M228,-4.6 L262,-4.6" stroke="#c9cccb" stroke-width="2.2" fill="none"/>
<path d="M228,8.2 L262,8.2" stroke="#c9cccb" stroke-width="2.2" fill="none"/>
<path d="M228,17.2 L262,17.2" stroke="#c9cccb" stroke-width="2.2" fill="none"/>
<path d="M230,-10 L262,-10" stroke="#ffffff" stroke-width="1.8" fill="none"/>
<path d="M230,3 L262,3" stroke="#ffffff" stroke-width="1.8" fill="none"/>
<path d="M230,12 L262,12" stroke="#ffffff" stroke-width="1.8" fill="none"/>
<path d="M206,-19.5 C209,-12 209,-5 206,0.4 C209,6 209,13 206,19.5" fill="none" stroke="#55595a" stroke-width="1"/>
<rect x="261.5" y="-28" width="6" height="55" rx="3" fill="#f1f2f2"/>
<rect x="45" y="-19.3" width="162" height="38.6" fill="url(#plas)"/>
<rect x="45" y="-2.7" width="162" height="5" fill="#d9dcdb"/>
<path d="M64.8,-11.5 L69.8,-10.5 L90.8,-2.7 L83.8,-2.7 Z" fill="#f4f5f5" stroke="#5b5f5e" stroke-width="0.8"/>
<path d="M71.8,-7.0 L85.8,-2.7" stroke="#b9bcbb" stroke-width="1.6" fill="none"/>
<path d="M64.8,-11.5 L76.3,-19.8 L80.4,-19.8 L69.8,-10.0 Z" fill="#eef0ef" stroke-width="0.8"/>
<path d="M75.3,-18.3 L80.4,-19.8 L80.4,-6.5 L75.3,-5.2 Z" fill="#aaadac" stroke-width="0.8"/>
<path d="M64.8,11.8 L69.8,10.8 L90.8,3.0 L83.8,3.0 Z" fill="#f4f5f5" stroke="#5b5f5e" stroke-width="0.8"/>
<path d="M71.8,7.3 L85.8,3.0" stroke="#b9bcbb" stroke-width="1.6" fill="none"/>
<path d="M64.8,11.8 L76.3,20.1 L80.4,20.1 L69.8,10.3 Z" fill="#eef0ef" stroke-width="0.8"/>
<path d="M75.3,18.6 L80.4,20.1 L80.4,6.8 L75.3,5.5 Z" fill="#aaadac" stroke-width="0.8"/>
<path d="M81.5,-11.5 L86.5,-10.5 L107.5,-2.7 L100.5,-2.7 Z" fill="#f4f5f5" stroke="#5b5f5e" stroke-width="0.8"/>
<path d="M88.5,-7.0 L102.5,-2.7" stroke="#b9bcbb" stroke-width="1.6" fill="none"/>
<path d="M81.5,-11.5 L93.0,-20.9 L97.1,-20.9 L86.5,-10.0 Z" fill="#eef0ef" stroke-width="0.8"/>
<path d="M92.0,-19.4 L97.1,-20.9 L97.1,-6.5 L92.0,-5.2 Z" fill="#aaadac" stroke-width="0.8"/>
<path d="M81.5,11.8 L86.5,10.8 L107.5,3.0 L100.5,3.0 Z" fill="#f4f5f5" stroke="#5b5f5e" stroke-width="0.8"/>
<path d="M88.5,7.3 L102.5,3.0" stroke="#b9bcbb" stroke-width="1.6" fill="none"/>
<path d="M81.5,11.8 L93.0,21.2 L97.1,21.2 L86.5,10.3 Z" fill="#eef0ef" stroke-width="0.8"/>
<path d="M92.0,19.7 L97.1,21.2 L97.1,6.8 L92.0,5.5 Z" fill="#aaadac" stroke-width="0.8"/>
<path d="M98.2,-11.5 L103.2,-10.5 L124.2,-2.7 L117.2,-2.7 Z" fill="#f4f5f5" stroke="#5b5f5e" stroke-width="0.8"/>
<path d="M105.2,-7.0 L119.2,-2.7" stroke="#b9bcbb" stroke-width="1.6" fill="none"/>
<path d="M98.2,-11.5 L109.7,-21.9 L113.8,-21.9 L103.2,-10.0 Z" fill="#eef0ef" stroke-width="0.8"/>
<path d="M108.7,-20.4 L113.8,-21.9 L113.8,-6.5 L108.7,-5.2 Z" fill="#aaadac" stroke-width="0.8"/>
<path d="M98.2,11.8 L103.2,10.8 L124.2,3.0 L117.2,3.0 Z" fill="#f4f5f5" stroke="#5b5f5e" stroke-width="0.8"/>
<path d="M105.2,7.3 L119.2,3.0" stroke="#b9bcbb" stroke-width="1.6" fill="none"/>
<path d="M98.2,11.8 L109.7,22.2 L113.8,22.2 L103.2,10.3 Z" fill="#eef0ef" stroke-width="0.8"/>
<path d="M108.7,20.7 L113.8,22.2 L113.8,6.8 L108.7,5.5 Z" fill="#aaadac" stroke-width="0.8"/>
<path d="M114.9,-11.5 L119.9,-10.5 L140.9,-2.7 L133.9,-2.7 Z" fill="#f4f5f5" stroke="#5b5f5e" stroke-width="0.8"/>
<path d="M121.9,-7.0 L135.9,-2.7" stroke="#b9bcbb" stroke-width="1.6" fill="none"/>
<path d="M114.9,-11.5 L126.4,-23.0 L130.5,-23.0 L119.9,-10.0 Z" fill="#eef0ef" stroke-width="0.8"/>
<path d="M125.4,-21.5 L130.5,-23.0 L130.5,-6.5 L125.4,-5.2 Z" fill="#aaadac" stroke-width="0.8"/>
<path d="M114.9,11.8 L119.9,10.8 L140.9,3.0 L133.9,3.0 Z" fill="#f4f5f5" stroke="#5b5f5e" stroke-width="0.8"/>
<path d="M121.9,7.3 L135.9,3.0" stroke="#b9bcbb" stroke-width="1.6" fill="none"/>
<path d="M114.9,11.8 L126.4,23.3 L130.5,23.3 L119.9,10.3 Z" fill="#eef0ef" stroke-width="0.8"/>
<path d="M125.4,21.8 L130.5,23.3 L130.5,6.8 L125.4,5.5 Z" fill="#aaadac" stroke-width="0.8"/>
<path d="M131.6,-11.5 L136.6,-10.5 L157.6,-2.7 L150.6,-2.7 Z" fill="#f4f5f5" stroke="#5b5f5e" stroke-width="0.8"/>
<path d="M138.6,-7.0 L152.6,-2.7" stroke="#b9bcbb" stroke-width="1.6" fill="none"/>
<path d="M131.6,-11.5 L143.1,-24.0 L147.2,-24.0 L136.6,-10.0 Z" fill="#eef0ef" stroke-width="0.8"/>
<path d="M142.1,-22.5 L147.2,-24.0 L147.2,-6.5 L142.1,-5.2 Z" fill="#aaadac" stroke-width="0.8"/>
<path d="M131.6,11.8 L136.6,10.8 L157.6,3.0 L150.6,3.0 Z" fill="#f4f5f5" stroke="#5b5f5e" stroke-width="0.8"/>
<path d="M138.6,7.3 L152.6,3.0" stroke="#b9bcbb" stroke-width="1.6" fill="none"/>
<path d="M131.6,11.8 L143.1,24.3 L147.2,24.3 L136.6,10.3 Z" fill="#eef0ef" stroke-width="0.8"/>
<path d="M142.1,22.8 L147.2,24.3 L147.2,6.8 L142.1,5.5 Z" fill="#aaadac" stroke-width="0.8"/>
<path d="M148.3,-11.5 L153.3,-10.5 L174.3,-2.7 L167.3,-2.7 Z" fill="#f4f5f5" stroke="#5b5f5e" stroke-width="0.8"/>
<path d="M155.3,-7.0 L169.3,-2.7" stroke="#b9bcbb" stroke-width="1.6" fill="none"/>
<path d="M148.3,-11.5 L159.8,-25.1 L163.9,-25.1 L153.3,-10.0 Z" fill="#eef0ef" stroke-width="0.8"/>
<path d="M158.8,-23.6 L163.9,-25.1 L163.9,-6.5 L158.8,-5.2 Z" fill="#aaadac" stroke-width="0.8"/>
<path d="M148.3,11.8 L153.3,10.8 L174.3,3.0 L167.3,3.0 Z" fill="#f4f5f5" stroke="#5b5f5e" stroke-width="0.8"/>
<path d="M155.3,7.3 L169.3,3.0" stroke="#b9bcbb" stroke-width="1.6" fill="none"/>
<path d="M148.3,11.8 L159.8,25.4 L163.9,25.4 L153.3,10.3 Z" fill="#eef0ef" stroke-width="0.8"/>
<path d="M158.8,23.9 L163.9,25.4 L163.9,6.8 L158.8,5.5 Z" fill="#aaadac" stroke-width="0.8"/>
<path d="M165.0,-11.5 L170.0,-10.5 L191.0,-2.7 L184.0,-2.7 Z" fill="#f4f5f5" stroke="#5b5f5e" stroke-width="0.8"/>
<path d="M172.0,-7.0 L186.0,-2.7" stroke="#b9bcbb" stroke-width="1.6" fill="none"/>
<path d="M165.0,-11.5 L176.5,-26.1 L180.6,-26.1 L170.0,-10.0 Z" fill="#eef0ef" stroke-width="0.8"/>
<path d="M175.5,-24.6 L180.6,-26.1 L180.6,-6.5 L175.5,-5.2 Z" fill="#aaadac" stroke-width="0.8"/>
<path d="M165.0,11.8 L170.0,10.8 L191.0,3.0 L184.0,3.0 Z" fill="#f4f5f5" stroke="#5b5f5e" stroke-width="0.8"/>
<path d="M172.0,7.3 L186.0,3.0" stroke="#b9bcbb" stroke-width="1.6" fill="none"/>
<path d="M165.0,11.8 L176.5,26.4 L180.6,26.4 L170.0,10.3 Z" fill="#eef0ef" stroke-width="0.8"/>
<path d="M175.5,24.9 L180.6,26.4 L180.6,6.8 L175.5,5.5 Z" fill="#aaadac" stroke-width="0.8"/>
<path d="M0,-13.5 L6,-19.3 L45,-19.3 L45,19.3 L6,19.3 L0,13.5 Z" fill="url(#plas)"/>
<path d="M6,-19.3 L6,19.3" fill="none"/>
<rect x="38.5" y="-19.3" width="6.5" height="38.6" fill="#dfe1e0"/>
</g>
<rect x="369.5" y="993.5" width="50.5" height="169.5" fill="#a8702a"/>
<path d="M377.5,994.5 C377.2,998.5 375.9,1010.5 375.4,1018.4 C374.9,1026.4 374.6,1034.4 374.6,1042.4 C374.6,1050.3 375.1,1058.3 375.7,1066.3 C376.2,1074.3 377.6,1082.2 378.0,1090.2 C378.3,1098.2 378.4,1106.2 377.8,1114.1 C377.3,1122.1 375.2,1130.1 374.7,1138.1 C374.3,1146.0 375.1,1158.0 375.2,1162.0" fill="none" stroke="#744a1b" stroke-width="1.1"/>
<path d="M382.0,994.5 C382.7,998.5 385.9,1010.5 386.1,1018.4 C386.4,1026.4 383.3,1034.4 383.3,1042.4 C383.3,1050.3 385.7,1058.3 386.2,1066.3 C386.6,1074.3 386.4,1082.2 386.0,1090.2 C385.6,1098.2 384.3,1106.2 383.9,1114.1 C383.4,1122.1 383.5,1130.1 383.3,1138.1 C383.2,1146.0 383.1,1158.0 383.1,1162.0" fill="none" stroke="#744a1b" stroke-width="1.1"/>
<path d="M393.4,994.5 C393.7,998.5 394.6,1010.5 394.8,1018.4 C395.0,1026.4 395.1,1034.4 394.7,1042.4 C394.3,1050.3 392.2,1058.3 392.5,1066.3 C392.8,1074.3 395.8,1082.2 396.4,1090.2 C396.9,1098.2 396.3,1106.2 395.9,1114.1 C395.5,1122.1 394.5,1130.1 393.9,1138.1 C393.4,1146.0 392.9,1158.0 392.7,1162.0" fill="none" stroke="#744a1b" stroke-width="1.1"/>
<path d="M406.0,994.5 C406.0,998.5 406.5,1010.5 405.8,1018.4 C405.2,1026.4 401.8,1034.4 402.0,1042.4 C402.2,1050.3 406.3,1058.3 406.9,1066.3 C407.5,1074.3 406.2,1082.2 405.7,1090.2 C405.2,1098.2 404.5,1106.2 404.0,1114.1 C403.5,1122.1 402.5,1130.1 402.5,1138.1 C402.6,1146.0 404.0,1158.0 404.3,1162.0" fill="none" stroke="#744a1b" stroke-width="1.1"/>
<path d="M410.6,994.5 C411.2,998.5 413.3,1010.5 414.0,1018.4 C414.7,1026.4 415.0,1034.4 414.8,1042.4 C414.7,1050.3 413.2,1058.3 413.3,1066.3 C413.3,1074.3 415.0,1082.2 415.3,1090.2 C415.6,1098.2 415.4,1106.2 415.2,1114.1 C415.1,1122.1 414.6,1130.1 414.5,1138.1 C414.5,1146.0 415.0,1158.0 415.0,1162.0" fill="none" stroke="#744a1b" stroke-width="1.1"/>
<path d="M396.8,1159.6 C395.8,1135.9 395.8,1112.2 400.8,1112.2 C405.8,1112.2 405.8,1135.9 404.8,1159.6" fill="none" stroke="#744a1b" stroke-width="1"/>
<path d="M378.1,996.9 C377.1,1020.6 377.1,1044.3 382.1,1044.3 C387.1,1044.3 387.1,1020.6 386.1,996.9" fill="none" stroke="#744a1b" stroke-width="1"/>
<rect x="369.5" y="993.5" width="50.5" height="169.5" fill="none" stroke="#4d3517" stroke-width="1.3"/>
<path d="M402,1069 L420,1051 L420,1104 L402,1086 Z" fill="#6d4618"/>
<rect x="369" y="1069.6" width="68" height="15.6" fill="url(#scr)" stroke="#555958" stroke-width="0.9"/>
<path d="M436,1069.6 L454,1055 L454,1102 L436,1085.2 Z" fill="url(#scr)" stroke="#555958" stroke-width="0.9"/>
<path d="M455,1078.5 C465,1063.45 481,1057.0 502,1057.0 L586,1057.0 L586,1100.0 L502,1100.0 C481,1100.0 465,1093.55 455,1078.5 Z" fill="url(#steel2)" stroke="#5a5e5d" stroke-width="1"/>
<path d="M458,1076.9 C470,1075.5 490,1073.5 501,1071.5 C505.5,1070.0 505.5,1064.5 500,1063.0 C490,1062.0 473,1066.5 458,1076.9 Z" fill="url(#flute)" stroke="#4f5352" stroke-width="0.8"/>
<path d="M458,1080.1 C470,1081.5 490,1083.5 501,1085.5 C505.5,1087.0 505.5,1092.5 500,1094.0 C490,1095.0 473,1090.5 458,1080.1 Z" fill="url(#flute)" stroke="#4f5352" stroke-width="0.8"/>
<path d="M457,1078.5 L510,1078.5" stroke="#fbfbfb" stroke-width="2.4" fill="none"/>
<path d="M538.5,1016.3 C526,1020 519.8,1045 519.8,1070 C519.8,1098 527,1122 538.5,1123.7 C545,1124 552,1114 556,1104 L543,1104 C541.5,1108 540.5,1111 539.7,1111 C535,1105 532.7,1090 532.7,1070 C532.7,1050 535,1035 538.5,1030.3 L540.5,1037.4 L536.2,1037.4 L550.2,1054.9 L563.6,1038 L557.5,1038 C555,1028 549,1018 538.5,1016.3 Z" fill="#e52420" stroke="#a8120e" stroke-width="0.7"/>
<path d="M538.5,1016.3 C549,1018 555,1028 557.5,1038 L550,1038 C548,1032 544,1029 538.5,1030.3 Z" fill="#c51a17"/>
<path d="M538.5,1123.7 C545,1124 552,1114 556,1104 L543,1104 C541.5,1108 540.5,1111 539.7,1111 Z" fill="#c51a17"/>
<g>
<path d="M637,117.5 C641,111.5 646,108.5 651,108.5 L706,108.5 L706,126.5 L651,126.5 C646,126.5 641,123.5 637,117.5 Z" fill="url(#scr)" stroke="#5d6160" stroke-width="0.9"/>
<path d="M640,117.5 L706,117.5" stroke="#7c807f" stroke-width="1.4" fill="none"/>
<path d="M658.5,106.3 L655.8,128.7" fill="none" stroke="#8b8f8e" stroke-width="1.5"/>
<path d="M659.8,109.0 L657.3,126.0" fill="none" stroke="#ffffff" stroke-width="1"/>
<path d="M656.9,108.5 Q658.5,105.1 660.1,108.5 M654.2,126.5 Q655.8,129.9 657.4,126.5" fill="#9da1a0" stroke="#4f5352" stroke-width="0.7"/>
<path d="M668.4,106.3 L665.7,128.7" fill="none" stroke="#8b8f8e" stroke-width="1.5"/>
<path d="M669.7,109.0 L667.2,126.0" fill="none" stroke="#ffffff" stroke-width="1"/>
<path d="M666.8,108.5 Q668.4,105.1 670.0,108.5 M664.1,126.5 Q665.7,129.9 667.3,126.5" fill="#9da1a0" stroke="#4f5352" stroke-width="0.7"/>
<path d="M678.3,106.3 L675.6,128.7" fill="none" stroke="#8b8f8e" stroke-width="1.5"/>
<path d="M679.6,109.0 L677.1,126.0" fill="none" stroke="#ffffff" stroke-width="1"/>
<path d="M676.7,108.5 Q678.3,105.1 679.9,108.5 M674.0,126.5 Q675.6,129.9 677.2,126.5" fill="#9da1a0" stroke="#4f5352" stroke-width="0.7"/>
<path d="M688.2,106.3 L685.5,128.7" fill="none" stroke="#8b8f8e" stroke-width="1.5"/>
<path d="M689.5,109.0 L687.0,126.0" fill="none" stroke="#ffffff" stroke-width="1"/>
<path d="M686.6,108.5 Q688.2,105.1 689.8,108.5 M683.9,126.5 Q685.5,129.9 687.1,126.5" fill="#9da1a0" stroke="#4f5352" stroke-width="0.7"/>
<path d="M698.1,106.3 L695.4,128.7" fill="none" stroke="#8b8f8e" stroke-width="1.5"/>
<path d="M699.4,109.0 L696.9,126.0" fill="none" stroke="#ffffff" stroke-width="1"/>
<path d="M696.5,108.5 Q698.1,105.1 699.7,108.5 M693.8,126.5 Q695.4,129.9 697.0,126.5" fill="#9da1a0" stroke="#4f5352" stroke-width="0.7"/>
</g>
<g transform="translate(705,117.5)" stroke="#4f5352" stroke-width="0.9">
<path d="M206,-19.5 C212,-23 217,-25.5 226,-25.5 L262,-25.5 L262,25.5 L226,25.5 C217,25.5 212,23 206,19.5 Z" fill="#eff0f0"/>
<path d="M208,-19.5 C214,-16 220,-15.4 232,-15.4 L262,-15.4" fill="none" stroke="#6b6f6e" stroke-width="1"/>
<path d="M210,-2 C214,-5 222,-6.4 236,-6.4 L262,-6.4" fill="none" stroke="#6b6f6e" stroke-width="1"/>
<path d="M206,0.4 L262,0.4" fill="none" stroke="#55595a" stroke-width="1.1"/>
<path d="M210,3 C214,5.5 222,6.4 236,6.4 L262,6.4" fill="none" stroke="#6b6f6e" stroke-width="1"/>
<path d="M208,19.5 C214,16 220,15.4 232,15.4 L262,15.4" fill="none" stroke="#6b6f6e" stroke-width="1"/>
<path d="M228,-13.6 L262,-13.6" stroke="#c9cccb" stroke-width="2.2" fill="none"/>
<path d="M228,-4.6 L262,-4.6" stroke="#c9cccb" stroke-width="2.2" fill="none"/>
<path d="M228,8.2 L262,8.2" stroke="#c9cccb" stroke-width="2.2" fill="none"/>
<path d="M228,17.2 L262,17.2" stroke="#c9cccb" stroke-width="2.2" fill="none"/>
<path d="M230,-10 L262,-10" stroke="#ffffff" stroke-width="1.8" fill="none"/>
<path d="M230,3 L262,3" stroke="#ffffff" stroke-width="1.8" fill="none"/>
<path d="M230,12 L262,12" stroke="#ffffff" stroke-width="1.8" fill="none"/>
<path d="M206,-19.5 C209,-12 209,-5 206,0.4 C209,6 209,13 206,19.5" fill="none" stroke="#55595a" stroke-width="1"/>
<rect x="261.5" y="-28" width="6" height="55" rx="3" fill="#f1f2f2"/>
<rect x="45" y="-19.3" width="162" height="38.6" fill="url(#plas)"/>
<rect x="45" y="-2.7" width="162" height="5" fill="#d9dcdb"/>
<path d="M64.8,-11.5 L69.8,-10.5 L90.8,-2.7 L83.8,-2.7 Z" fill="#f4f5f5" stroke="#5b5f5e" stroke-width="0.8"/>
<path d="M71.8,-7.0 L85.8,-2.7" stroke="#b9bcbb" stroke-width="1.6" fill="none"/>
<path d="M64.8,-11.5 L76.3,-19.8 L80.4,-19.8 L69.8,-10.0 Z" fill="#eef0ef" stroke-width="0.8"/>
<path d="M75.3,-18.3 L80.4,-19.8 L80.4,-6.5 L75.3,-5.2 Z" fill="#aaadac" stroke-width="0.8"/>
<path d="M64.8,11.8 L69.8,10.8 L90.8,3.0 L83.8,3.0 Z" fill="#f4f5f5" stroke="#5b5f5e" stroke-width="0.8"/>
<path d="M71.8,7.3 L85.8,3.0" stroke="#b9bcbb" stroke-width="1.6" fill="none"/>
<path d="M64.8,11.8 L76.3,20.1 L80.4,20.1 L69.8,10.3 Z" fill="#eef0ef" stroke-width="0.8"/>
<path d="M75.3,18.6 L80.4,20.1 L80.4,6.8 L75.3,5.5 Z" fill="#aaadac" stroke-width="0.8"/>
<path d="M81.5,-11.5 L86.5,-10.5 L107.5,-2.7 L100.5,-2.7 Z" fill="#f4f5f5" stroke="#5b5f5e" stroke-width="0.8"/>
<path d="M88.5,-7.0 L102.5,-2.7" stroke="#b9bcbb" stroke-width="1.6" fill="none"/>
<path d="M81.5,-11.5 L93.0,-20.9 L97.1,-20.9 L86.5,-10.0 Z" fill="#eef0ef" stroke-width="0.8"/>
<path d="M92.0,-19.4 L97.1,-20.9 L97.1,-6.5 L92.0,-5.2 Z" fill="#aaadac" stroke-width="0.8"/>
<path d="M81.5,11.8 L86.5,10.8 L107.5,3.0 L100.5,3.0 Z" fill="#f4f5f5" stroke="#5b5f5e" stroke-width="0.8"/>
<path d="M88.5,7.3 L102.5,3.0" stroke="#b9bcbb" stroke-width="1.6" fill="none"/>
<path d="M81.5,11.8 L93.0,21.2 L97.1,21.2 L86.5,10.3 Z" fill="#eef0ef" stroke-width="0.8"/>
<path d="M92.0,19.7 L97.1,21.2 L97.1,6.8 L92.0,5.5 Z" fill="#aaadac" stroke-width="0.8"/>
<path d="M98.2,-11.5 L103.2,-10.5 L124.2,-2.7 L117.2,-2.7 Z" fill="#f4f5f5" stroke="#5b5f5e" stroke-width="0.8"/>
<path d="M105.2,-7.0 L119.2,-2.7" stroke="#b9bcbb" stroke-width="1.6" fill="none"/>
<path d="M98.2,-11.5 L109.7,-21.9 L113.8,-21.9 L103.2,-10.0 Z" fill="#eef0ef" stroke-width="0.8"/>
<path d="M108.7,-20.4 L113.8,-21.9 L113.8,-6.5 L108.7,-5.2 Z" fill="#aaadac" stroke-width="0.8"/>
<path d="M98.2,11.8 L103.2,10.8 L124.2,3.0 L117.2,3.0 Z" fill="#f4f5f5" stroke="#5b5f5e" stroke-width="0.8"/>
<path d="M105.2,7.3 L119.2,3.0" stroke="#b9bcbb" stroke-width="1.6" fill="none"/>
<path d="M98.2,11.8 L109.7,22.2 L113.8,22.2 L103.2,10.3 Z" fill="#eef0ef" stroke-width="0.8"/>
<path d="M108.7,20.7 L113.8,22.2 L113.8,6.8 L108.7,5.5 Z" fill="#aaadac" stroke-width="0.8"/>
<path d="M114.9,-11.5 L119.9,-10.5 L140.9,-2.7 L133.9,-2.7 Z" fill="#f4f5f5" stroke="#5b5f5e" stroke-width="0.8"/>
<path d="M121.9,-7.0 L135.9,-2.7" stroke="#b9bcbb" stroke-width="1.6" fill="none"/>
<path d="M114.9,-11.5 L126.4,-23.0 L130.5,-23.0 L119.9,-10.0 Z" fill="#eef0ef" stroke-width="0.8"/>
<path d="M125.4,-21.5 L130.5,-23.0 L130.5,-6.5 L125.4,-5.2 Z" fill="#aaadac" stroke-width="0.8"/>
<path d="M114.9,11.8 L119.9,10.8 L140.9,3.0 L133.9,3.0 Z" fill="#f4f5f5" stroke="#5b5f5e" stroke-width="0.8"/>
<path d="M121.9,7.3 L135.9,3.0" stroke="#b9bcbb" stroke-width="1.6" fill="none"/>
<path d="M114.9,11.8 L126.4,23.3 L130.5,23.3 L119.9,10.3 Z" fill="#eef0ef" stroke-width="0.8"/>
<path d="M125.4,21.8 L130.5,23.3 L130.5,6.8 L125.4,5.5 Z" fill="#aaadac" stroke-width="0.8"/>
<path d="M131.6,-11.5 L136.6,-10.5 L157.6,-2.7 L150.6,-2.7 Z" fill="#f4f5f5" stroke="#5b5f5e" stroke-width="0.8"/>
<path d="M138.6,-7.0 L152.6,-2.7" stroke="#b9bcbb" stroke-width="1.6" fill="none"/>
<path d="M131.6,-11.5 L143.1,-24.0 L147.2,-24.0 L136.6,-10.0 Z" fill="#eef0ef" stroke-width="0.8"/>
<path d="M142.1,-22.5 L147.2,-24.0 L147.2,-6.5 L142.1,-5.2 Z" fill="#aaadac" stroke-width="0.8"/>
<path d="M131.6,11.8 L136.6,10.8 L157.6,3.0 L150.6,3.0 Z" fill="#f4f5f5" stroke="#5b5f5e" stroke-width="0.8"/>
<path d="M138.6,7.3 L152.6,3.0" stroke="#b9bcbb" stroke-width="1.6" fill="none"/>
<path d="M131.6,11.8 L143.1,24.3 L147.2,24.3 L136.6,10.3 Z" fill="#eef0ef" stroke-width="0.8"/>
<path d="M142.1,22.8 L147.2,24.3 L147.2,6.8 L142.1,5.5 Z" fill="#aaadac" stroke-width="0.8"/>
<path d="M148.3,-11.5 L153.3,-10.5 L174.3,-2.7 L167.3,-2.7 Z" fill="#f4f5f5" stroke="#5b5f5e" stroke-width="0.8"/>
<path d="M155.3,-7.0 L169.3,-2.7" stroke="#b9bcbb" stroke-width="1.6" fill="none"/>
<path d="M148.3,-11.5 L159.8,-25.1 L163.9,-25.1 L153.3,-10.0 Z" fill="#eef0ef" stroke-width="0.8"/>
<path d="M158.8,-23.6 L163.9,-25.1 L163.9,-6.5 L158.8,-5.2 Z" fill="#aaadac" stroke-width="0.8"/>
<path d="M148.3,11.8 L153.3,10.8 L174.3,3.0 L167.3,3.0 Z" fill="#f4f5f5" stroke="#5b5f5e" stroke-width="0.8"/>
<path d="M155.3,7.3 L169.3,3.0" stroke="#b9bcbb" stroke-width="1.6" fill="none"/>
<path d="M148.3,11.8 L159.8,25.4 L163.9,25.4 L153.3,10.3 Z" fill="#eef0ef" stroke-width="0.8"/>
<path d="M158.8,23.9 L163.9,25.4 L163.9,6.8 L158.8,5.5 Z" fill="#aaadac" stroke-width="0.8"/>
<path d="M165.0,-11.5 L170.0,-10.5 L191.0,-2.7 L184.0,-2.7 Z" fill="#f4f5f5" stroke="#5b5f5e" stroke-width="0.8"/>
<path d="M172.0,-7.0 L186.0,-2.7" stroke="#b9bcbb" stroke-width="1.6" fill="none"/>
<path d="M165.0,-11.5 L176.5,-26.1 L180.6,-26.1 L170.0,-10.0 Z" fill="#eef0ef" stroke-width="0.8"/>
<path d="M175.5,-24.6 L180.6,-26.1 L180.6,-6.5 L175.5,-5.2 Z" fill="#aaadac" stroke-width="0.8"/>
<path d="M165.0,11.8 L170.0,10.8 L191.0,3.0 L184.0,3.0 Z" fill="#f4f5f5" stroke="#5b5f5e" stroke-width="0.8"/>
<path d="M172.0,7.3 L186.0,3.0" stroke="#b9bcbb" stroke-width="1.6" fill="none"/>
<path d="M165.0,11.8 L176.5,26.4 L180.6,26.4 L170.0,10.3 Z" fill="#eef0ef" stroke-width="0.8"/>
<path d="M175.5,24.9 L180.6,26.4 L180.6,6.8 L175.5,5.5 Z" fill="#aaadac" stroke-width="0.8"/>
<path d="M0,-13.5 L6,-19.3 L45,-19.3 L45,19.3 L6,19.3 L0,13.5 Z" fill="url(#plas)"/>
<path d="M6,-19.3 L6,19.3" fill="none"/>
<rect x="38.5" y="-19.3" width="6.5" height="38.6" fill="#dfe1e0"/>
</g>
<rect x="973.5" y="33.9" width="50.5" height="170" fill="#a8702a"/>
<path d="M976.9,34.9 C977.6,38.9 980.8,50.9 981.2,58.9 C981.6,66.9 979.5,74.9 979.4,82.9 C979.3,90.9 980.4,98.9 980.6,106.9 C980.9,114.9 981.0,122.9 980.9,130.9 C980.8,138.9 980.2,146.9 980.1,154.9 C980.0,162.9 980.7,170.9 980.6,178.9 C980.4,186.9 979.6,198.9 979.4,202.9" fill="none" stroke="#744a1b" stroke-width="1.1"/>
<path d="M991.7,34.9 C991.7,38.9 992.7,50.9 991.9,58.9 C991.1,66.9 987.6,74.9 987.0,82.9 C986.5,90.9 988.5,98.9 988.7,106.9 C988.9,114.9 987.5,122.9 988.0,130.9 C988.5,138.9 991.6,146.9 991.6,154.9 C991.6,162.9 988.0,170.9 987.8,178.9 C987.6,186.9 989.9,198.9 990.3,202.9" fill="none" stroke="#744a1b" stroke-width="1.1"/>
<path d="M1000.4,34.9 C1000.2,38.9 999.0,50.9 998.9,58.9 C998.8,66.9 999.9,74.9 999.7,82.9 C999.5,90.9 997.3,98.9 997.7,106.9 C998.1,114.9 1001.9,122.9 1002.1,130.9 C1002.2,138.9 999.4,146.9 998.7,154.9 C998.1,162.9 997.9,170.9 998.1,178.9 C998.3,186.9 999.6,198.9 999.9,202.9" fill="none" stroke="#744a1b" stroke-width="1.1"/>
<path d="M1005.7,34.9 C1005.5,38.9 1004.8,50.9 1004.6,58.9 C1004.4,66.9 1004.3,74.9 1004.5,82.9 C1004.7,90.9 1005.0,98.9 1005.6,106.9 C1006.2,114.9 1007.6,122.9 1008.1,130.9 C1008.7,138.9 1009.6,146.9 1009.1,154.9 C1008.6,162.9 1005.2,170.9 1005.0,178.9 C1004.9,186.9 1007.6,198.9 1008.1,202.9" fill="none" stroke="#744a1b" stroke-width="1.1"/>
<path d="M1020.1,34.9 C1020.3,38.9 1021.4,50.9 1021.0,58.9 C1020.7,66.9 1018.5,74.9 1018.1,82.9 C1017.7,90.9 1018.3,98.9 1018.7,106.9 C1019.2,114.9 1021.2,122.9 1020.7,130.9 C1020.3,138.9 1016.6,146.9 1015.9,154.9 C1015.2,162.9 1016.3,170.9 1016.4,178.9 C1016.4,186.9 1016.3,198.9 1016.3,202.9" fill="none" stroke="#744a1b" stroke-width="1.1"/>
<path d="M1000.8,200.5 C999.8,176.7 999.8,152.9 1004.8,152.9 C1009.8,152.9 1009.8,176.7 1008.8,200.5" fill="none" stroke="#744a1b" stroke-width="1"/>
<path d="M982.1,37.3 C981.1,61.1 981.1,84.9 986.1,84.9 C991.1,84.9 991.1,61.1 990.1,37.3" fill="none" stroke="#744a1b" stroke-width="1"/>
<rect x="973.5" y="33.9" width="50.5" height="170" fill="none" stroke="#4d3517" stroke-width="1.3"/>
<path d="M1005,108.6 L1024,91.7 L1024,143.5 L1005,126 Z" fill="#6d4618"/>
<rect x="969" y="109" width="37" height="16.5" fill="url(#scr)" stroke="#555958" stroke-width="0.9"/>
<path d="M1005.6,109 L1023.7,95.8 L1023.7,140.7 L1005.6,125.5 Z" fill="url(#scr)" stroke="#555958" stroke-width="0.9"/>
<path d="M1062.7,117.6 C1072.7,102.89999999999999 1088.7,96.6 1109.7,96.6 L1196,96.6 L1196,138.6 L1109.7,138.6 C1088.7,138.6 1072.7,132.29999999999998 1062.7,117.6 Z" fill="url(#steel2)" stroke="#5a5e5d" stroke-width="1"/>
<path d="M1065.7,116.0 C1077.7,114.6 1097.7,112.6 1108.7,110.6 C1113.2,109.1 1113.2,103.6 1107.7,102.1 C1097.7,101.1 1080.7,105.6 1065.7,116.0 Z" fill="url(#flute)" stroke="#4f5352" stroke-width="0.8"/>
<path d="M1065.7,119.19999999999999 C1077.7,120.6 1097.7,122.6 1108.7,124.6 C1113.2,126.1 1113.2,131.6 1107.7,133.1 C1097.7,134.1 1080.7,129.6 1065.7,119.19999999999999 Z" fill="url(#flute)" stroke="#4f5352" stroke-width="0.8"/>
<path d="M1064.7,117.6 L1117.7,117.6" stroke="#fbfbfb" stroke-width="2.4" fill="none"/>
<path d="M41,362.8 L161,360.2 L161,367.4 L41,369.6 Z" fill="#f7f7f2" stroke="#9a9d9c" stroke-width="0.6"/>
<path d="M169,360 L364.5,354 L364.5,362 L169,367.2 Z" fill="#f7f7f2" stroke="#9a9d9c" stroke-width="0.6"/>
<path d="M50,369 C43,369.5 40,373 42.5,377 C45,381 54,382 65,382" fill="none" stroke="#ffffff" stroke-width="2.2"/>
<path d="M64,378.5 L72.5,382 L64,385.5 Z" fill="#ffffff"/>
<path d="M160,369.5 C125,370 90,371 78,374 C71,376 71,380 77,382 C83,384 90,384 97,384" fill="none" stroke="#ffffff" stroke-width="2.2"/>
<path d="M96,380.5 L106,384 L96,387.5 Z" fill="#ffffff"/>
<g fill="#5d6261"><circle cx="435.6" cy="311.9" r="0.72"/><circle cx="411.1" cy="335.9" r="0.83"/><circle cx="444.3" cy="312.6" r="0.82"/><circle cx="431.3" cy="313.3" r="0.88"/><circle cx="370.5" cy="353.4" r="0.88"/><circle cx="399.6" cy="329.0" r="0.70"/><circle cx="408.2" cy="332.8" r="0.63"/><circle cx="385.7" cy="336.2" r="0.71"/><circle cx="445.9" cy="315.4" r="0.77"/><circle cx="401.1" cy="343.0" r="0.80"/><circle cx="453.5" cy="307.6" r="0.84"/><circle cx="427.5" cy="317.4" r="0.76"/><circle cx="415.5" cy="331.8" r="0.56"/><circle cx="393.7" cy="349.0" r="0.70"/><circle cx="384.3" cy="346.6" r="0.80"/><circle cx="428.7" cy="318.9" r="0.70"/><circle cx="418.1" cy="336.1" r="0.73"/><circle cx="404.0" cy="334.8" r="0.56"/><circle cx="374.1" cy="356.3" r="0.89"/><circle cx="421.4" cy="323.1" r="0.61"/><circle cx="419.9" cy="341.1" r="0.82"/><circle cx="421.9" cy="336.5" r="0.63"/><circle cx="420.6" cy="339.8" r="0.75"/><circle cx="407.5" cy="326.6" r="0.74"/><circle cx="444.1" cy="324.0" r="0.86"/><circle cx="439.9" cy="325.8" r="0.73"/><circle cx="418.8" cy="325.4" r="0.57"/><circle cx="449.1" cy="314.2" r="0.62"/><circle cx="414.3" cy="329.4" r="0.67"/><circle cx="400.2" cy="338.2" r="0.77"/><circle cx="423.9" cy="323.7" r="0.56"/><circle cx="385.1" cy="335.3" r="0.75"/><circle cx="451.0" cy="319.9" r="0.83"/><circle cx="440.4" cy="309.4" r="0.84"/><circle cx="425.1" cy="312.2" r="0.56"/><circle cx="386.2" cy="332.8" r="0.77"/><circle cx="394.5" cy="327.4" r="0.61"/><circle cx="412.6" cy="321.0" r="0.65"/><circle cx="433.1" cy="319.0" r="0.66"/><circle cx="405.9" cy="320.2" r="0.69"/><circle cx="403.0" cy="326.5" r="0.59"/><circle cx="451.2" cy="311.4" r="0.62"/><circle cx="427.5" cy="332.4" r="0.56"/><circle cx="430.3" cy="311.8" r="0.80"/><circle cx="431.0" cy="322.6" r="0.63"/><circle cx="412.3" cy="322.8" r="0.78"/><circle cx="405.2" cy="336.7" r="0.66"/><circle cx="420.9" cy="313.6" r="0.65"/><circle cx="400.3" cy="347.4" r="0.66"/><circle cx="403.3" cy="328.2" r="0.55"/><circle cx="416.6" cy="319.1" r="0.85"/><circle cx="413.4" cy="326.8" r="0.67"/><circle cx="388.8" cy="347.9" r="0.70"/><circle cx="427.0" cy="317.4" r="0.72"/><circle cx="402.2" cy="346.9" r="0.86"/><circle cx="438.3" cy="312.9" r="0.62"/><circle cx="434.2" cy="329.6" r="0.88"/><circle cx="404.0" cy="346.2" r="0.79"/><circle cx="418.3" cy="342.0" r="0.63"/><circle cx="430.0" cy="309.7" r="0.61"/><circle cx="439.2" cy="320.1" r="0.84"/><circle cx="399.9" cy="332.5" r="0.65"/><circle cx="449.3" cy="315.1" r="0.88"/><circle cx="414.1" cy="318.4" r="0.56"/><circle cx="444.6" cy="324.0" r="0.67"/><circle cx="428.0" cy="331.1" r="0.68"/><circle cx="417.3" cy="320.3" r="0.58"/><circle cx="397.0" cy="350.1" r="0.75"/><circle cx="452.9" cy="309.0" r="0.65"/><circle cx="444.5" cy="324.0" r="0.55"/><circle cx="425.0" cy="312.5" r="0.59"/><circle cx="402.1" cy="324.8" r="0.61"/><circle cx="392.9" cy="347.9" r="0.59"/><circle cx="450.6" cy="307.8" r="0.89"/><circle cx="449.5" cy="305.9" r="0.64"/><circle cx="407.1" cy="321.8" r="0.78"/><circle cx="422.4" cy="324.3" r="0.66"/><circle cx="374.6" cy="341.8" r="0.77"/><circle cx="459.0" cy="308.3" r="0.79"/><circle cx="426.2" cy="316.8" r="0.74"/><circle cx="393.2" cy="333.2" r="0.58"/><circle cx="411.0" cy="336.0" r="0.78"/><circle cx="453.5" cy="306.7" r="0.66"/><circle cx="395.8" cy="333.9" r="0.85"/><circle cx="448.1" cy="306.9" r="0.67"/><circle cx="419.0" cy="329.7" r="0.76"/><circle cx="385.2" cy="332.2" r="0.74"/><circle cx="424.1" cy="318.8" r="0.83"/><circle cx="417.7" cy="338.7" r="0.60"/><circle cx="417.6" cy="336.8" r="0.58"/><circle cx="441.7" cy="310.6" r="0.59"/><circle cx="420.3" cy="339.0" r="0.65"/><circle cx="401.7" cy="348.0" r="0.83"/><circle cx="439.1" cy="322.8" r="0.61"/><circle cx="403.7" cy="325.3" r="0.80"/><circle cx="426.6" cy="316.3" r="0.57"/><circle cx="419.1" cy="328.6" r="0.85"/><circle cx="408.4" cy="329.8" r="0.67"/><circle cx="426.6" cy="321.2" r="0.75"/><circle cx="371.7" cy="347.3" r="0.60"/><circle cx="376.4" cy="342.1" r="0.84"/><circle cx="403.4" cy="332.5" r="0.76"/><circle cx="416.7" cy="328.7" r="0.78"/><circle cx="410.5" cy="337.2" r="0.81"/><circle cx="389.7" cy="342.2" r="0.72"/><circle cx="387.5" cy="340.9" r="0.75"/><circle cx="394.9" cy="344.0" r="0.57"/><circle cx="374.4" cy="350.5" r="0.86"/><circle cx="385.6" cy="352.2" r="0.86"/><circle cx="398.8" cy="343.3" r="0.85"/><circle cx="404.5" cy="340.7" r="0.81"/><circle cx="427.0" cy="333.8" r="0.86"/><circle cx="457.5" cy="309.9" r="0.61"/><circle cx="387.6" cy="335.2" r="0.75"/><circle cx="433.4" cy="326.5" r="0.67"/><circle cx="411.4" cy="321.5" r="0.81"/><circle cx="444.1" cy="318.4" r="0.64"/><circle cx="383.8" cy="353.4" r="0.84"/><circle cx="431.2" cy="327.1" r="0.71"/><circle cx="406.7" cy="342.6" r="0.70"/><circle cx="380.9" cy="341.8" r="0.59"/><circle cx="379.9" cy="350.3" r="0.69"/><circle cx="376.2" cy="343.3" r="0.64"/><circle cx="384.5" cy="343.2" r="0.56"/><circle cx="427.1" cy="326.4" r="0.84"/><circle cx="384.3" cy="338.9" r="0.74"/><circle cx="394.0" cy="342.7" r="0.64"/><circle cx="434.4" cy="328.1" r="0.83"/><circle cx="458.4" cy="308.7" r="0.72"/><circle cx="450.1" cy="319.4" r="0.75"/><circle cx="400.6" cy="330.5" r="0.59"/><circle cx="438.0" cy="306.6" r="0.81"/><circle cx="423.7" cy="338.6" r="0.82"/><circle cx="414.9" cy="331.7" r="0.66"/><circle cx="412.6" cy="326.5" r="0.73"/><circle cx="407.0" cy="327.9" r="0.69"/><circle cx="442.4" cy="320.9" r="0.72"/><circle cx="426.2" cy="320.2" r="0.62"/><circle cx="427.6" cy="334.2" r="0.84"/><circle cx="420.8" cy="340.8" r="0.71"/><circle cx="443.9" cy="312.1" r="0.81"/><circle cx="384.9" cy="348.3" r="0.74"/><circle cx="402.9" cy="333.5" r="0.69"/><circle cx="448.5" cy="314.9" r="0.81"/><circle cx="453.8" cy="317.0" r="0.72"/><circle cx="438.4" cy="321.6" r="0.78"/><circle cx="424.9" cy="321.7" r="0.77"/><circle cx="431.6" cy="333.8" r="0.82"/><circle cx="449.2" cy="319.8" r="0.84"/><circle cx="422.0" cy="321.5" r="0.64"/><circle cx="437.7" cy="328.8" r="0.74"/><circle cx="385.7" cy="354.1" r="0.72"/><circle cx="405.6" cy="321.0" r="0.73"/><circle cx="435.8" cy="316.7" r="0.67"/><circle cx="419.9" cy="340.0" r="0.79"/><circle cx="407.1" cy="339.0" r="0.76"/><circle cx="383.6" cy="337.0" r="0.86"/><circle cx="387.6" cy="331.1" r="0.84"/><circle cx="414.6" cy="325.9" r="0.73"/><circle cx="432.0" cy="311.1" r="0.78"/><circle cx="437.5" cy="327.2" r="0.64"/><circle cx="421.0" cy="318.6" r="0.75"/><circle cx="387.1" cy="352.2" r="0.85"/><circle cx="394.9" cy="331.6" r="0.89"/><circle cx="437.2" cy="328.2" r="0.56"/><circle cx="452.5" cy="314.0" r="0.66"/><circle cx="410.8" cy="339.3" r="0.82"/><circle cx="386.8" cy="347.6" r="0.61"/><circle cx="457.2" cy="306.4" r="0.87"/><circle cx="436.4" cy="321.7" r="0.64"/><circle cx="412.2" cy="320.4" r="0.60"/><circle cx="432.4" cy="316.6" r="0.81"/><circle cx="392.5" cy="347.3" r="0.80"/><circle cx="391.3" cy="330.1" r="0.69"/><circle cx="408.6" cy="321.1" r="0.62"/><circle cx="373.9" cy="353.3" r="0.86"/><circle cx="436.6" cy="327.7" r="0.89"/><circle cx="422.6" cy="321.0" r="0.84"/><circle cx="380.9" cy="352.5" r="0.58"/><circle cx="404.6" cy="334.6" r="0.68"/><circle cx="380.1" cy="339.4" r="0.84"/><circle cx="411.5" cy="333.6" r="0.62"/><circle cx="431.9" cy="315.9" r="0.76"/><circle cx="445.0" cy="308.9" r="0.68"/><circle cx="426.4" cy="335.9" r="0.69"/><circle cx="452.3" cy="318.0" r="0.60"/><circle cx="383.1" cy="350.6" r="0.57"/><circle cx="398.5" cy="327.1" r="0.71"/><circle cx="388.5" cy="331.8" r="0.58"/><circle cx="371.9" cy="355.5" r="0.81"/><circle cx="435.4" cy="329.2" r="0.78"/><circle cx="405.3" cy="338.2" r="0.89"/><circle cx="424.1" cy="317.4" r="0.57"/><circle cx="455.4" cy="311.6" r="0.67"/><circle cx="424.5" cy="326.4" r="0.73"/><circle cx="371.6" cy="347.3" r="0.69"/><circle cx="390.6" cy="353.0" r="0.70"/><circle cx="431.6" cy="327.3" r="0.81"/><circle cx="437.5" cy="325.4" r="0.64"/><circle cx="409.6" cy="328.5" r="0.89"/><circle cx="371.8" cy="352.4" r="0.71"/><circle cx="378.3" cy="345.1" r="0.80"/><circle cx="411.4" cy="319.4" r="0.83"/><circle cx="406.0" cy="340.9" r="0.66"/><circle cx="383.2" cy="354.3" r="0.83"/><circle cx="444.7" cy="308.7" r="0.70"/><circle cx="391.1" cy="343.3" r="0.67"/><circle cx="402.4" cy="344.2" r="0.88"/><circle cx="417.1" cy="316.9" r="0.78"/><circle cx="415.0" cy="343.7" r="0.80"/><circle cx="447.4" cy="318.9" r="0.74"/><circle cx="390.6" cy="331.9" r="0.68"/><circle cx="411.2" cy="319.7" r="0.67"/><circle cx="415.6" cy="315.9" r="0.84"/><circle cx="425.8" cy="318.5" r="0.65"/><circle cx="398.3" cy="332.9" r="0.81"/><circle cx="414.4" cy="330.6" r="0.60"/><circle cx="450.3" cy="306.4" r="0.66"/><circle cx="417.0" cy="340.5" r="0.87"/><circle cx="437.6" cy="307.3" r="0.73"/><circle cx="426.8" cy="337.8" r="0.82"/><circle cx="435.7" cy="326.1" r="0.68"/><circle cx="456.7" cy="312.4" r="0.69"/><circle cx="416.4" cy="342.8" r="0.74"/><circle cx="379.1" cy="337.5" r="0.79"/><circle cx="424.6" cy="336.5" r="0.61"/><circle cx="408.5" cy="339.5" r="0.57"/><circle cx="377.4" cy="350.0" r="0.64"/><circle cx="374.8" cy="343.0" r="0.77"/><circle cx="411.5" cy="319.0" r="0.58"/><circle cx="448.2" cy="316.8" r="0.61"/><circle cx="405.9" cy="344.3" r="0.80"/><circle cx="398.6" cy="349.3" r="0.76"/><circle cx="409.2" cy="337.6" r="0.74"/><circle cx="438.6" cy="326.6" r="0.90"/><circle cx="387.9" cy="334.6" r="0.81"/><circle cx="439.2" cy="317.6" r="0.72"/><circle cx="409.6" cy="343.4" r="0.83"/><circle cx="416.4" cy="315.4" r="0.85"/><circle cx="406.5" cy="324.8" r="0.65"/><circle cx="376.5" cy="343.4" r="0.86"/><circle cx="418.8" cy="329.6" r="0.74"/><circle cx="416.9" cy="329.8" r="0.84"/><circle cx="454.9" cy="306.5" r="0.77"/><circle cx="393.8" cy="334.5" r="0.73"/><circle cx="422.6" cy="327.1" r="0.89"/><circle cx="384.4" cy="349.1" r="0.90"/><circle cx="436.7" cy="320.4" r="0.68"/><circle cx="410.1" cy="344.7" r="0.86"/><circle cx="434.4" cy="331.2" r="0.87"/><circle cx="444.7" cy="310.9" r="0.71"/><circle cx="439.9" cy="313.1" r="0.81"/><circle cx="410.3" cy="327.1" r="0.71"/><circle cx="376.7" cy="344.7" r="0.70"/><circle cx="396.0" cy="349.6" r="0.76"/><circle cx="391.7" cy="341.7" r="0.81"/><circle cx="430.9" cy="319.4" r="0.82"/><circle cx="415.2" cy="335.7" r="0.72"/><circle cx="417.5" cy="341.4" r="0.69"/><circle cx="438.7" cy="327.2" r="0.58"/><circle cx="419.0" cy="328.5" r="0.67"/><circle cx="377.9" cy="350.0" r="0.70"/><circle cx="425.4" cy="313.1" r="0.64"/><circle cx="393.3" cy="340.0" r="0.83"/><circle cx="450.5" cy="319.7" r="0.79"/><circle cx="374.4" cy="346.9" r="0.78"/><circle cx="395.0" cy="339.9" r="0.87"/><circle cx="376.1" cy="346.0" r="0.87"/><circle cx="386.6" cy="344.6" r="0.70"/><circle cx="394.3" cy="339.8" r="0.86"/><circle cx="414.8" cy="321.3" r="0.82"/><circle cx="398.7" cy="337.4" r="0.55"/><circle cx="392.9" cy="341.9" r="0.70"/><circle cx="442.1" cy="325.7" r="0.63"/><circle cx="395.5" cy="345.4" r="0.69"/><circle cx="376.1" cy="340.4" r="0.75"/><circle cx="428.6" cy="336.0" r="0.74"/><circle cx="420.0" cy="316.7" r="0.69"/><circle cx="395.9" cy="344.9" r="0.64"/><circle cx="386.0" cy="340.4" r="0.71"/><circle cx="400.3" cy="340.1" r="0.61"/><circle cx="451.5" cy="316.6" r="0.74"/><circle cx="371.0" cy="346.8" r="0.79"/><circle cx="431.1" cy="330.4" r="0.86"/><circle cx="396.8" cy="338.6" r="0.67"/><circle cx="386.6" cy="332.0" r="0.74"/><circle cx="433.5" cy="321.9" r="0.79"/><circle cx="385.1" cy="336.0" r="0.75"/><circle cx="448.7" cy="310.1" r="0.55"/><circle cx="419.8" cy="314.9" r="0.63"/><circle cx="400.5" cy="339.8" r="0.73"/><circle cx="377.6" cy="341.3" r="0.82"/><circle cx="425.4" cy="310.8" r="0.58"/><circle cx="430.2" cy="310.2" r="0.66"/><circle cx="409.8" cy="344.8" r="0.77"/><circle cx="392.2" cy="346.3" r="0.65"/><circle cx="413.3" cy="325.2" r="0.88"/><circle cx="403.9" cy="344.0" r="0.77"/><circle cx="447.1" cy="316.2" r="0.85"/><circle cx="407.3" cy="338.6" r="0.77"/><circle cx="417.3" cy="330.2" r="0.74"/><circle cx="408.9" cy="344.2" r="0.77"/><circle cx="413.3" cy="317.3" r="0.73"/><circle cx="380.5" cy="338.7" r="0.70"/><circle cx="415.3" cy="322.0" r="0.64"/><circle cx="416.5" cy="328.0" r="0.69"/><circle cx="375.8" cy="345.8" r="0.78"/><circle cx="418.6" cy="328.9" r="0.85"/><circle cx="436.9" cy="323.7" r="0.56"/><circle cx="398.4" cy="343.3" r="0.60"/><circle cx="445.8" cy="305.5" r="0.84"/><circle cx="444.3" cy="309.7" r="0.86"/><circle cx="386.6" cy="354.2" r="0.68"/><circle cx="403.9" cy="324.0" r="0.76"/><circle cx="394.6" cy="344.7" r="0.83"/><circle cx="425.8" cy="320.5" r="0.75"/><circle cx="449.0" cy="311.0" r="0.82"/><circle cx="422.2" cy="323.5" r="0.88"/><circle cx="406.8" cy="336.8" r="0.57"/><circle cx="405.8" cy="320.7" r="0.80"/><circle cx="413.1" cy="326.3" r="0.64"/><circle cx="431.9" cy="329.7" r="0.84"/><circle cx="394.0" cy="349.2" r="0.63"/><circle cx="418.1" cy="323.8" r="0.61"/><circle cx="444.6" cy="326.6" r="0.66"/><circle cx="447.4" cy="308.5" r="0.78"/><circle cx="372.1" cy="349.5" r="0.68"/><circle cx="398.6" cy="347.1" r="0.70"/><circle cx="434.1" cy="323.7" r="0.73"/><circle cx="374.9" cy="355.0" r="0.86"/></g>
<g fill="#5d6261"><circle cx="437.5" cy="404.2" r="0.78"/><circle cx="391.5" cy="378.1" r="0.76"/><circle cx="421.2" cy="379.6" r="0.70"/><circle cx="397.9" cy="384.5" r="0.90"/><circle cx="449.9" cy="404.7" r="0.71"/><circle cx="367.9" cy="362.5" r="0.66"/><circle cx="394.8" cy="387.9" r="0.73"/><circle cx="418.4" cy="380.5" r="0.56"/><circle cx="398.4" cy="367.8" r="0.73"/><circle cx="434.0" cy="402.5" r="0.87"/><circle cx="430.3" cy="402.3" r="0.67"/><circle cx="376.7" cy="375.1" r="0.80"/><circle cx="406.2" cy="383.0" r="0.72"/><circle cx="448.2" cy="402.6" r="0.84"/><circle cx="392.5" cy="386.5" r="0.86"/><circle cx="405.7" cy="383.9" r="0.87"/><circle cx="430.3" cy="393.5" r="0.63"/><circle cx="392.0" cy="381.0" r="0.61"/><circle cx="449.3" cy="396.5" r="0.87"/><circle cx="387.7" cy="386.3" r="0.80"/><circle cx="410.2" cy="384.6" r="0.78"/><circle cx="420.0" cy="383.5" r="0.62"/><circle cx="406.1" cy="394.7" r="0.77"/><circle cx="425.7" cy="403.4" r="0.62"/><circle cx="426.3" cy="385.4" r="0.63"/><circle cx="408.0" cy="393.3" r="0.64"/><circle cx="379.6" cy="380.2" r="0.70"/><circle cx="401.4" cy="370.3" r="0.79"/><circle cx="442.1" cy="389.7" r="0.61"/><circle cx="428.5" cy="389.7" r="0.57"/><circle cx="370.1" cy="360.0" r="0.77"/><circle cx="436.2" cy="385.6" r="0.67"/><circle cx="368.4" cy="362.2" r="0.82"/><circle cx="427.0" cy="403.9" r="0.81"/><circle cx="440.2" cy="404.7" r="0.72"/><circle cx="383.5" cy="375.7" r="0.66"/><circle cx="374.8" cy="365.3" r="0.86"/><circle cx="375.6" cy="369.7" r="0.69"/><circle cx="415.4" cy="376.3" r="0.89"/><circle cx="387.1" cy="375.9" r="0.70"/><circle cx="366.0" cy="364.2" r="0.60"/><circle cx="422.0" cy="390.1" r="0.89"/><circle cx="386.6" cy="371.0" r="0.64"/><circle cx="416.8" cy="390.9" r="0.83"/><circle cx="431.6" cy="387.5" r="0.70"/><circle cx="418.0" cy="373.6" r="0.56"/><circle cx="406.2" cy="370.9" r="0.80"/><circle cx="391.3" cy="363.3" r="0.61"/><circle cx="389.1" cy="365.6" r="0.73"/><circle cx="409.0" cy="378.0" r="0.77"/><circle cx="379.5" cy="380.9" r="0.89"/><circle cx="431.3" cy="392.5" r="0.73"/><circle cx="422.4" cy="377.1" r="0.70"/><circle cx="415.9" cy="377.6" r="0.58"/><circle cx="438.7" cy="394.1" r="0.73"/><circle cx="446.6" cy="405.1" r="0.65"/><circle cx="376.4" cy="362.0" r="0.84"/><circle cx="406.7" cy="379.8" r="0.72"/><circle cx="382.8" cy="373.3" r="0.58"/><circle cx="392.1" cy="371.6" r="0.88"/><circle cx="369.0" cy="371.4" r="0.62"/><circle cx="417.7" cy="384.6" r="0.71"/><circle cx="434.0" cy="392.7" r="0.59"/><circle cx="439.9" cy="402.6" r="0.89"/><circle cx="421.1" cy="397.5" r="0.80"/><circle cx="411.4" cy="380.6" r="0.71"/><circle cx="439.5" cy="391.7" r="0.73"/><circle cx="402.8" cy="393.6" r="0.83"/><circle cx="394.8" cy="368.8" r="0.72"/><circle cx="389.2" cy="371.8" r="0.79"/><circle cx="446.6" cy="404.4" r="0.84"/><circle cx="375.3" cy="362.9" r="0.90"/><circle cx="379.2" cy="366.6" r="0.57"/><circle cx="378.9" cy="363.0" r="0.63"/><circle cx="423.3" cy="395.7" r="0.70"/><circle cx="416.6" cy="376.0" r="0.74"/><circle cx="373.5" cy="366.7" r="0.80"/><circle cx="383.7" cy="382.6" r="0.71"/><circle cx="429.4" cy="390.7" r="0.90"/><circle cx="434.6" cy="398.1" r="0.60"/><circle cx="410.1" cy="370.4" r="0.76"/><circle cx="448.0" cy="393.3" r="0.73"/><circle cx="409.5" cy="381.0" r="0.80"/><circle cx="446.9" cy="407.9" r="0.72"/><circle cx="453.5" cy="400.3" r="0.81"/><circle cx="421.3" cy="397.1" r="0.85"/><circle cx="383.9" cy="374.8" r="0.69"/><circle cx="404.4" cy="387.4" r="0.86"/><circle cx="419.9" cy="398.0" r="0.56"/><circle cx="447.2" cy="408.8" r="0.76"/><circle cx="437.4" cy="388.7" r="0.81"/><circle cx="421.3" cy="380.6" r="0.83"/><circle cx="376.2" cy="370.8" r="0.70"/><circle cx="387.1" cy="374.7" r="0.71"/><circle cx="404.8" cy="391.2" r="0.78"/><circle cx="433.1" cy="394.8" r="0.79"/><circle cx="397.8" cy="371.3" r="0.73"/><circle cx="436.5" cy="387.5" r="0.81"/><circle cx="436.6" cy="394.2" r="0.79"/><circle cx="431.7" cy="405.1" r="0.60"/><circle cx="381.0" cy="366.4" r="0.71"/><circle cx="409.8" cy="397.4" r="0.68"/><circle cx="414.8" cy="382.9" r="0.70"/><circle cx="445.5" cy="395.8" r="0.78"/><circle cx="408.1" cy="384.2" r="0.87"/><circle cx="390.7" cy="378.8" r="0.83"/><circle cx="425.0" cy="388.2" r="0.84"/><circle cx="371.9" cy="369.3" r="0.69"/><circle cx="408.7" cy="393.5" r="0.83"/><circle cx="423.8" cy="385.2" r="0.63"/><circle cx="409.2" cy="375.9" r="0.65"/><circle cx="440.0" cy="395.1" r="0.68"/><circle cx="398.5" cy="366.2" r="0.71"/><circle cx="380.7" cy="368.0" r="0.65"/><circle cx="403.2" cy="384.7" r="0.88"/><circle cx="398.9" cy="367.0" r="0.63"/><circle cx="380.1" cy="374.6" r="0.68"/><circle cx="393.7" cy="384.6" r="0.63"/><circle cx="436.2" cy="400.6" r="0.69"/><circle cx="440.9" cy="394.5" r="0.86"/><circle cx="448.3" cy="402.7" r="0.79"/><circle cx="428.4" cy="403.6" r="0.88"/><circle cx="389.9" cy="377.7" r="0.78"/><circle cx="399.3" cy="375.7" r="0.61"/><circle cx="452.8" cy="400.7" r="0.72"/><circle cx="369.3" cy="359.8" r="0.68"/><circle cx="434.2" cy="394.0" r="0.74"/><circle cx="382.5" cy="380.3" r="0.69"/><circle cx="389.1" cy="377.8" r="0.60"/><circle cx="388.6" cy="385.9" r="0.58"/><circle cx="381.2" cy="361.4" r="0.64"/><circle cx="405.7" cy="374.7" r="0.67"/><circle cx="390.2" cy="366.8" r="0.76"/><circle cx="396.8" cy="373.9" r="0.82"/><circle cx="442.3" cy="397.7" r="0.82"/><circle cx="376.7" cy="368.4" r="0.85"/><circle cx="392.4" cy="383.2" r="0.76"/><circle cx="400.6" cy="378.7" r="0.77"/><circle cx="389.7" cy="383.9" r="0.76"/><circle cx="417.5" cy="388.8" r="0.89"/><circle cx="406.9" cy="379.9" r="0.73"/><circle cx="447.3" cy="407.4" r="0.87"/><circle cx="374.2" cy="360.9" r="0.83"/><circle cx="400.3" cy="369.8" r="0.60"/><circle cx="429.9" cy="381.9" r="0.89"/><circle cx="428.6" cy="380.0" r="0.86"/><circle cx="387.0" cy="372.2" r="0.75"/><circle cx="377.5" cy="368.2" r="0.57"/><circle cx="438.7" cy="398.7" r="0.79"/><circle cx="413.5" cy="375.0" r="0.59"/><circle cx="378.1" cy="360.1" r="0.57"/><circle cx="385.8" cy="368.7" r="0.77"/><circle cx="429.5" cy="393.7" r="0.87"/><circle cx="437.1" cy="400.9" r="0.62"/><circle cx="401.3" cy="373.9" r="0.70"/><circle cx="404.7" cy="378.5" r="0.83"/><circle cx="437.3" cy="399.1" r="0.72"/><circle cx="387.6" cy="380.8" r="0.90"/><circle cx="383.3" cy="376.9" r="0.79"/><circle cx="429.6" cy="380.0" r="0.74"/><circle cx="386.7" cy="363.8" r="0.75"/><circle cx="421.6" cy="393.3" r="0.81"/><circle cx="428.5" cy="392.3" r="0.57"/><circle cx="430.8" cy="403.5" r="0.84"/><circle cx="424.1" cy="377.5" r="0.62"/><circle cx="373.2" cy="370.0" r="0.74"/><circle cx="409.1" cy="377.6" r="0.62"/><circle cx="436.8" cy="402.9" r="0.65"/><circle cx="445.4" cy="403.3" r="0.69"/><circle cx="399.9" cy="385.4" r="0.71"/><circle cx="428.6" cy="382.1" r="0.80"/><circle cx="384.9" cy="383.6" r="0.63"/><circle cx="394.6" cy="377.6" r="0.69"/><circle cx="407.5" cy="395.0" r="0.62"/><circle cx="432.3" cy="400.4" r="0.83"/><circle cx="405.8" cy="380.6" r="0.67"/><circle cx="410.4" cy="377.1" r="0.62"/><circle cx="411.4" cy="375.8" r="0.71"/><circle cx="418.8" cy="382.8" r="0.61"/><circle cx="415.3" cy="397.0" r="0.63"/><circle cx="418.6" cy="392.8" r="0.86"/><circle cx="428.6" cy="387.5" r="0.62"/><circle cx="442.6" cy="394.1" r="0.55"/><circle cx="446.7" cy="393.2" r="0.66"/><circle cx="396.5" cy="370.4" r="0.80"/><circle cx="396.6" cy="375.7" r="0.70"/><circle cx="421.4" cy="378.9" r="0.60"/><circle cx="421.0" cy="385.8" r="0.57"/><circle cx="413.2" cy="397.5" r="0.78"/><circle cx="406.2" cy="390.8" r="0.87"/><circle cx="380.9" cy="364.0" r="0.89"/><circle cx="424.0" cy="401.7" r="0.76"/><circle cx="427.9" cy="393.4" r="0.63"/><circle cx="429.0" cy="382.8" r="0.77"/><circle cx="401.0" cy="377.7" r="0.89"/><circle cx="400.6" cy="378.7" r="0.68"/><circle cx="387.5" cy="365.1" r="0.74"/><circle cx="448.1" cy="407.6" r="0.57"/><circle cx="429.7" cy="390.8" r="0.73"/><circle cx="374.0" cy="366.7" r="0.73"/><circle cx="434.5" cy="398.3" r="0.80"/><circle cx="434.3" cy="387.8" r="0.56"/><circle cx="412.3" cy="374.4" r="0.60"/><circle cx="393.5" cy="377.1" r="0.77"/><circle cx="418.1" cy="400.8" r="0.59"/><circle cx="419.9" cy="376.9" r="0.78"/><circle cx="408.5" cy="372.8" r="0.66"/><circle cx="424.7" cy="390.4" r="0.88"/><circle cx="398.8" cy="373.9" r="0.87"/><circle cx="424.0" cy="379.5" r="0.82"/><circle cx="392.6" cy="388.5" r="0.77"/><circle cx="432.9" cy="406.6" r="0.73"/><circle cx="391.8" cy="384.9" r="0.55"/><circle cx="425.2" cy="401.9" r="0.58"/><circle cx="412.4" cy="388.3" r="0.70"/><circle cx="399.4" cy="387.3" r="0.61"/><circle cx="368.0" cy="366.2" r="0.89"/><circle cx="437.4" cy="402.4" r="0.65"/><circle cx="383.9" cy="379.6" r="0.86"/><circle cx="396.6" cy="389.3" r="0.59"/><circle cx="423.6" cy="378.1" r="0.63"/><circle cx="401.5" cy="379.9" r="0.65"/><circle cx="428.7" cy="380.2" r="0.73"/><circle cx="413.6" cy="383.0" r="0.87"/><circle cx="377.3" cy="365.9" r="0.71"/><circle cx="393.2" cy="389.5" r="0.75"/><circle cx="412.2" cy="383.3" r="0.70"/><circle cx="427.1" cy="382.6" r="0.76"/><circle cx="378.2" cy="364.2" r="0.56"/><circle cx="421.6" cy="391.7" r="0.64"/><circle cx="405.2" cy="380.6" r="0.70"/><circle cx="392.5" cy="367.3" r="0.81"/><circle cx="426.3" cy="378.3" r="0.66"/><circle cx="413.5" cy="387.7" r="0.79"/><circle cx="384.9" cy="377.9" r="0.68"/><circle cx="441.6" cy="398.3" r="0.78"/><circle cx="414.6" cy="387.3" r="0.71"/><circle cx="402.7" cy="380.6" r="0.86"/><circle cx="430.5" cy="398.4" r="0.89"/><circle cx="374.5" cy="369.5" r="0.77"/><circle cx="400.6" cy="392.8" r="0.89"/><circle cx="398.8" cy="381.9" r="0.82"/><circle cx="429.2" cy="389.4" r="0.83"/><circle cx="400.4" cy="369.1" r="0.78"/><circle cx="424.5" cy="388.4" r="0.72"/><circle cx="396.9" cy="389.5" r="0.75"/><circle cx="399.8" cy="383.3" r="0.82"/><circle cx="443.7" cy="405.4" r="0.78"/><circle cx="406.3" cy="368.9" r="0.71"/><circle cx="396.4" cy="380.4" r="0.81"/><circle cx="377.3" cy="377.7" r="0.66"/><circle cx="371.2" cy="367.9" r="0.69"/><circle cx="448.3" cy="401.1" r="0.58"/><circle cx="407.0" cy="388.7" r="0.57"/><circle cx="395.0" cy="376.0" r="0.86"/><circle cx="421.6" cy="391.8" r="0.63"/><circle cx="423.9" cy="381.1" r="0.66"/><circle cx="438.9" cy="400.1" r="0.80"/><circle cx="409.4" cy="377.3" r="0.73"/><circle cx="419.5" cy="381.2" r="0.85"/><circle cx="383.3" cy="380.0" r="0.80"/><circle cx="384.3" cy="374.0" r="0.63"/><circle cx="441.6" cy="401.9" r="0.73"/><circle cx="380.7" cy="367.0" r="0.72"/><circle cx="401.2" cy="370.5" r="0.62"/><circle cx="423.2" cy="402.7" r="0.85"/><circle cx="417.0" cy="395.9" r="0.60"/><circle cx="381.6" cy="376.0" r="0.55"/><circle cx="386.4" cy="363.4" r="0.69"/><circle cx="446.2" cy="396.0" r="0.75"/><circle cx="411.8" cy="374.0" r="0.89"/><circle cx="377.4" cy="376.9" r="0.86"/><circle cx="400.6" cy="392.7" r="0.57"/><circle cx="378.5" cy="368.2" r="0.58"/><circle cx="437.4" cy="398.1" r="0.83"/><circle cx="448.4" cy="394.3" r="0.70"/><circle cx="375.4" cy="369.6" r="0.71"/><circle cx="392.2" cy="383.5" r="0.60"/><circle cx="384.2" cy="374.9" r="0.77"/><circle cx="435.7" cy="400.7" r="0.85"/><circle cx="371.2" cy="373.1" r="0.73"/><circle cx="449.3" cy="406.5" r="0.67"/><circle cx="382.1" cy="371.9" r="0.56"/><circle cx="425.6" cy="402.1" r="0.81"/><circle cx="374.7" cy="373.6" r="0.89"/><circle cx="426.1" cy="391.3" r="0.65"/><circle cx="369.4" cy="367.8" r="0.89"/><circle cx="447.4" cy="398.0" r="0.85"/><circle cx="381.3" cy="364.3" r="0.75"/><circle cx="443.7" cy="401.5" r="0.58"/><circle cx="447.8" cy="404.5" r="0.82"/><circle cx="387.6" cy="368.3" r="0.58"/><circle cx="382.6" cy="368.8" r="0.69"/><circle cx="420.3" cy="398.7" r="0.67"/><circle cx="446.5" cy="406.2" r="0.67"/><circle cx="429.3" cy="380.2" r="0.79"/><circle cx="399.9" cy="376.8" r="0.82"/><circle cx="387.8" cy="366.4" r="0.74"/><circle cx="437.5" cy="403.8" r="0.61"/><circle cx="423.2" cy="393.9" r="0.80"/><circle cx="415.5" cy="381.3" r="0.73"/><circle cx="386.9" cy="371.5" r="0.69"/><circle cx="377.7" cy="360.5" r="0.67"/><circle cx="399.7" cy="380.8" r="0.81"/><circle cx="387.7" cy="374.7" r="0.67"/><circle cx="389.5" cy="363.6" r="0.89"/><circle cx="384.5" cy="361.4" r="0.59"/><circle cx="392.9" cy="373.5" r="0.55"/><circle cx="400.8" cy="385.0" r="0.84"/><circle cx="437.9" cy="394.1" r="0.66"/><circle cx="381.6" cy="363.4" r="0.64"/><circle cx="391.2" cy="367.1" r="0.73"/><circle cx="440.3" cy="393.3" r="0.70"/><circle cx="404.6" cy="391.3" r="0.82"/><circle cx="439.8" cy="392.6" r="0.75"/><circle cx="411.6" cy="386.9" r="0.66"/><circle cx="411.1" cy="372.7" r="0.84"/><circle cx="410.5" cy="383.4" r="0.77"/><circle cx="382.4" cy="362.4" r="0.84"/><circle cx="398.6" cy="392.1" r="0.86"/><circle cx="406.2" cy="393.5" r="0.61"/><circle cx="377.6" cy="368.6" r="0.81"/><circle cx="429.3" cy="385.3" r="0.83"/><circle cx="368.2" cy="365.4" r="0.86"/><circle cx="416.4" cy="381.4" r="0.90"/><circle cx="427.1" cy="400.8" r="0.86"/><circle cx="448.3" cy="404.8" r="0.84"/><circle cx="413.0" cy="378.4" r="0.65"/><circle cx="421.9" cy="386.9" r="0.87"/><circle cx="384.6" cy="366.5" r="0.65"/></g>
<g fill="#5d6261"><circle cx="384.8" cy="547.3" r="0.68"/><circle cx="415.9" cy="563.7" r="0.57"/><circle cx="389.5" cy="541.9" r="0.90"/><circle cx="402.3" cy="562.5" r="0.72"/><circle cx="423.3" cy="555.7" r="0.77"/><circle cx="439.8" cy="572.4" r="0.81"/><circle cx="427.0" cy="555.3" r="0.82"/><circle cx="417.8" cy="556.7" r="0.56"/><circle cx="440.1" cy="571.3" r="0.80"/><circle cx="439.0" cy="576.6" r="0.87"/><circle cx="396.1" cy="558.7" r="0.71"/><circle cx="401.3" cy="556.9" r="0.66"/><circle cx="409.7" cy="555.0" r="0.67"/><circle cx="414.6" cy="562.1" r="0.87"/><circle cx="419.8" cy="572.9" r="0.85"/><circle cx="375.3" cy="550.5" r="0.89"/><circle cx="442.6" cy="574.8" r="0.80"/><circle cx="379.8" cy="551.9" r="0.75"/><circle cx="393.3" cy="539.6" r="0.85"/><circle cx="435.0" cy="567.4" r="0.60"/><circle cx="387.6" cy="554.0" r="0.86"/><circle cx="367.3" cy="540.8" r="0.57"/><circle cx="428.6" cy="562.5" r="0.86"/><circle cx="449.8" cy="576.6" r="0.90"/><circle cx="395.4" cy="540.8" r="0.76"/><circle cx="399.0" cy="555.5" r="0.60"/><circle cx="387.5" cy="558.6" r="0.86"/><circle cx="397.7" cy="551.3" r="0.73"/><circle cx="419.6" cy="564.7" r="0.75"/><circle cx="414.4" cy="570.7" r="0.73"/><circle cx="400.0" cy="558.6" r="0.63"/><circle cx="409.4" cy="558.8" r="0.55"/><circle cx="399.9" cy="555.2" r="0.56"/><circle cx="416.8" cy="564.3" r="0.57"/><circle cx="419.4" cy="561.5" r="0.79"/><circle cx="393.2" cy="555.1" r="0.81"/><circle cx="419.0" cy="573.4" r="0.64"/><circle cx="403.3" cy="557.1" r="0.66"/><circle cx="397.9" cy="547.7" r="0.68"/><circle cx="418.2" cy="556.9" r="0.68"/><circle cx="411.8" cy="564.5" r="0.66"/><circle cx="381.0" cy="551.8" r="0.63"/><circle cx="381.4" cy="543.0" r="0.79"/><circle cx="375.0" cy="537.3" r="0.67"/><circle cx="437.6" cy="569.3" r="0.85"/><circle cx="380.7" cy="540.3" r="0.78"/><circle cx="441.9" cy="571.6" r="0.63"/><circle cx="374.7" cy="542.2" r="0.62"/><circle cx="431.5" cy="576.2" r="0.61"/><circle cx="385.9" cy="554.1" r="0.77"/><circle cx="436.1" cy="566.3" r="0.60"/><circle cx="387.2" cy="554.4" r="0.64"/><circle cx="395.4" cy="549.1" r="0.70"/><circle cx="396.2" cy="561.7" r="0.60"/><circle cx="398.1" cy="563.3" r="0.87"/><circle cx="381.5" cy="550.6" r="0.84"/><circle cx="422.0" cy="564.0" r="0.65"/><circle cx="396.7" cy="545.1" r="0.57"/><circle cx="417.7" cy="556.4" r="0.83"/><circle cx="420.9" cy="573.3" r="0.86"/><circle cx="442.1" cy="574.7" r="0.55"/><circle cx="432.4" cy="560.4" r="0.65"/><circle cx="421.9" cy="564.1" r="0.69"/><circle cx="445.2" cy="577.0" r="0.67"/><circle cx="383.1" cy="554.2" r="0.72"/><circle cx="433.9" cy="565.5" r="0.62"/><circle cx="408.1" cy="564.7" r="0.61"/><circle cx="431.6" cy="575.9" r="0.55"/><circle cx="415.8" cy="569.4" r="0.57"/><circle cx="390.3" cy="543.1" r="0.73"/><circle cx="401.6" cy="553.3" r="0.82"/><circle cx="409.9" cy="553.4" r="0.66"/><circle cx="393.7" cy="553.9" r="0.76"/><circle cx="398.8" cy="545.2" r="0.67"/><circle cx="374.7" cy="542.8" r="0.80"/><circle cx="401.5" cy="543.8" r="0.61"/><circle cx="396.0" cy="553.9" r="0.82"/><circle cx="394.8" cy="558.1" r="0.77"/><circle cx="403.2" cy="551.7" r="0.72"/><circle cx="426.4" cy="563.6" r="0.79"/><circle cx="407.0" cy="550.3" r="0.74"/><circle cx="429.0" cy="556.4" r="0.70"/><circle cx="398.0" cy="561.6" r="0.88"/><circle cx="393.4" cy="559.8" r="0.83"/><circle cx="387.6" cy="546.6" r="0.59"/><circle cx="433.7" cy="572.9" r="0.86"/><circle cx="431.9" cy="572.2" r="0.81"/><circle cx="417.2" cy="551.7" r="0.76"/><circle cx="444.1" cy="566.0" r="0.56"/><circle cx="436.3" cy="574.4" r="0.84"/><circle cx="446.6" cy="576.9" r="0.83"/><circle cx="407.0" cy="561.7" r="0.59"/><circle cx="371.5" cy="535.7" r="0.75"/><circle cx="438.9" cy="565.2" r="0.61"/><circle cx="385.2" cy="549.2" r="0.81"/><circle cx="400.0" cy="550.0" r="0.69"/><circle cx="395.7" cy="549.3" r="0.58"/><circle cx="403.6" cy="566.4" r="0.69"/><circle cx="432.7" cy="560.3" r="0.79"/><circle cx="428.7" cy="570.9" r="0.73"/><circle cx="405.3" cy="559.2" r="0.86"/><circle cx="425.7" cy="575.4" r="0.73"/><circle cx="401.0" cy="559.1" r="0.62"/><circle cx="390.6" cy="541.6" r="0.75"/><circle cx="394.4" cy="544.2" r="0.79"/><circle cx="449.3" cy="571.3" r="0.80"/><circle cx="397.2" cy="560.5" r="0.75"/><circle cx="390.4" cy="541.9" r="0.56"/><circle cx="407.3" cy="553.8" r="0.61"/><circle cx="397.5" cy="547.8" r="0.82"/><circle cx="405.3" cy="558.1" r="0.71"/><circle cx="434.1" cy="577.0" r="0.74"/><circle cx="404.3" cy="560.6" r="0.85"/><circle cx="397.2" cy="557.6" r="0.89"/><circle cx="407.7" cy="550.3" r="0.63"/><circle cx="425.3" cy="569.3" r="0.89"/><circle cx="441.2" cy="566.2" r="0.62"/><circle cx="389.9" cy="541.0" r="0.80"/><circle cx="383.3" cy="554.3" r="0.66"/><circle cx="399.2" cy="558.5" r="0.58"/><circle cx="391.2" cy="545.7" r="0.75"/><circle cx="394.2" cy="549.0" r="0.72"/><circle cx="382.0" cy="546.9" r="0.88"/><circle cx="398.1" cy="553.5" r="0.59"/><circle cx="386.9" cy="551.2" r="0.59"/><circle cx="394.5" cy="557.3" r="0.82"/><circle cx="388.6" cy="552.2" r="0.78"/><circle cx="436.8" cy="564.7" r="0.81"/><circle cx="446.5" cy="579.2" r="0.74"/><circle cx="374.4" cy="541.2" r="0.67"/><circle cx="425.3" cy="569.4" r="0.75"/><circle cx="379.0" cy="547.0" r="0.77"/><circle cx="425.0" cy="555.8" r="0.88"/><circle cx="378.4" cy="539.1" r="0.80"/><circle cx="416.0" cy="562.0" r="0.78"/><circle cx="406.1" cy="551.5" r="0.61"/><circle cx="368.5" cy="543.8" r="0.81"/><circle cx="409.5" cy="563.5" r="0.68"/><circle cx="388.7" cy="545.2" r="0.86"/><circle cx="368.1" cy="538.5" r="0.64"/><circle cx="432.8" cy="565.0" r="0.67"/><circle cx="399.2" cy="553.9" r="0.82"/><circle cx="392.0" cy="557.9" r="0.59"/><circle cx="391.8" cy="539.7" r="0.59"/><circle cx="430.2" cy="572.9" r="0.61"/><circle cx="381.7" cy="542.7" r="0.81"/><circle cx="433.2" cy="574.8" r="0.76"/><circle cx="378.2" cy="540.6" r="0.62"/><circle cx="409.8" cy="559.5" r="0.62"/><circle cx="383.6" cy="552.5" r="0.56"/><circle cx="430.7" cy="577.1" r="0.88"/><circle cx="397.3" cy="553.3" r="0.75"/><circle cx="415.2" cy="571.9" r="0.79"/><circle cx="387.2" cy="556.0" r="0.72"/><circle cx="414.7" cy="565.6" r="0.55"/><circle cx="430.0" cy="571.2" r="0.72"/><circle cx="410.4" cy="557.2" r="0.62"/><circle cx="414.9" cy="549.0" r="0.73"/><circle cx="421.2" cy="561.8" r="0.75"/><circle cx="373.6" cy="548.0" r="0.77"/><circle cx="370.2" cy="536.0" r="0.63"/><circle cx="370.9" cy="540.6" r="0.88"/><circle cx="389.2" cy="557.2" r="0.79"/><circle cx="412.8" cy="569.6" r="0.80"/><circle cx="430.3" cy="563.6" r="0.83"/><circle cx="400.1" cy="559.6" r="0.72"/><circle cx="378.5" cy="543.2" r="0.79"/><circle cx="412.0" cy="557.0" r="0.78"/><circle cx="391.3" cy="548.4" r="0.81"/><circle cx="402.4" cy="546.6" r="0.86"/><circle cx="428.4" cy="563.3" r="0.68"/><circle cx="409.7" cy="560.1" r="0.63"/><circle cx="436.0" cy="561.4" r="0.71"/><circle cx="384.2" cy="538.8" r="0.61"/><circle cx="402.7" cy="546.5" r="0.56"/><circle cx="411.2" cy="547.8" r="0.56"/><circle cx="404.3" cy="553.1" r="0.80"/><circle cx="369.8" cy="536.9" r="0.69"/><circle cx="387.3" cy="537.5" r="0.72"/><circle cx="377.7" cy="545.8" r="0.67"/><circle cx="429.9" cy="561.8" r="0.83"/><circle cx="401.0" cy="564.2" r="0.66"/><circle cx="388.4" cy="542.2" r="0.84"/><circle cx="420.7" cy="559.1" r="0.58"/><circle cx="367.8" cy="542.0" r="0.87"/><circle cx="403.2" cy="562.1" r="0.87"/><circle cx="390.0" cy="551.2" r="0.88"/><circle cx="374.1" cy="536.2" r="0.85"/><circle cx="375.5" cy="539.2" r="0.67"/><circle cx="419.7" cy="572.8" r="0.61"/><circle cx="426.7" cy="571.4" r="0.84"/><circle cx="408.7" cy="567.6" r="0.68"/><circle cx="403.1" cy="548.1" r="0.82"/><circle cx="408.5" cy="551.6" r="0.61"/><circle cx="426.2" cy="568.1" r="0.80"/><circle cx="398.3" cy="552.2" r="0.60"/><circle cx="402.7" cy="560.8" r="0.79"/><circle cx="375.4" cy="535.4" r="0.85"/><circle cx="416.9" cy="570.3" r="0.86"/><circle cx="400.0" cy="562.9" r="0.81"/><circle cx="394.7" cy="547.7" r="0.58"/><circle cx="395.0" cy="562.0" r="0.59"/><circle cx="417.6" cy="552.0" r="0.58"/><circle cx="423.4" cy="557.9" r="0.57"/><circle cx="376.4" cy="545.8" r="0.75"/><circle cx="414.2" cy="557.9" r="0.82"/><circle cx="414.4" cy="567.0" r="0.74"/><circle cx="383.9" cy="537.9" r="0.58"/><circle cx="378.2" cy="552.6" r="0.58"/><circle cx="407.6" cy="550.1" r="0.84"/><circle cx="416.7" cy="564.5" r="0.82"/><circle cx="441.8" cy="569.0" r="0.76"/><circle cx="406.9" cy="547.0" r="0.84"/><circle cx="413.3" cy="567.1" r="0.62"/><circle cx="411.7" cy="557.9" r="0.80"/><circle cx="372.6" cy="536.8" r="0.72"/><circle cx="370.2" cy="540.7" r="0.81"/><circle cx="399.9" cy="556.8" r="0.76"/><circle cx="384.5" cy="542.4" r="0.90"/><circle cx="394.3" cy="548.9" r="0.58"/><circle cx="386.6" cy="538.9" r="0.88"/><circle cx="424.2" cy="573.7" r="0.90"/><circle cx="413.7" cy="570.2" r="0.74"/><circle cx="396.8" cy="562.6" r="0.87"/><circle cx="447.3" cy="574.9" r="0.82"/><circle cx="446.5" cy="569.9" r="0.88"/><circle cx="429.3" cy="561.9" r="0.73"/><circle cx="424.4" cy="553.5" r="0.81"/><circle cx="389.1" cy="546.6" r="0.67"/><circle cx="426.8" cy="571.7" r="0.65"/><circle cx="375.4" cy="536.9" r="0.69"/><circle cx="429.0" cy="571.7" r="0.89"/><circle cx="400.1" cy="545.1" r="0.66"/><circle cx="404.6" cy="556.0" r="0.74"/><circle cx="392.5" cy="558.3" r="0.65"/><circle cx="401.2" cy="563.2" r="0.83"/><circle cx="392.8" cy="543.6" r="0.83"/><circle cx="410.4" cy="559.0" r="0.61"/><circle cx="431.8" cy="567.3" r="0.89"/><circle cx="366.3" cy="535.9" r="0.67"/><circle cx="368.5" cy="539.7" r="0.58"/><circle cx="394.0" cy="544.3" r="0.83"/><circle cx="403.1" cy="548.9" r="0.57"/><circle cx="400.7" cy="556.7" r="0.79"/><circle cx="389.4" cy="539.5" r="0.82"/><circle cx="433.1" cy="568.9" r="0.84"/><circle cx="414.6" cy="554.7" r="0.61"/><circle cx="403.6" cy="559.0" r="0.88"/><circle cx="434.4" cy="571.8" r="0.70"/><circle cx="412.7" cy="551.2" r="0.61"/><circle cx="412.9" cy="557.1" r="0.67"/><circle cx="401.3" cy="561.2" r="0.71"/><circle cx="391.7" cy="549.9" r="0.69"/><circle cx="435.5" cy="577.8" r="0.88"/><circle cx="422.1" cy="552.2" r="0.75"/><circle cx="412.4" cy="558.8" r="0.65"/><circle cx="422.4" cy="573.7" r="0.59"/><circle cx="423.9" cy="561.3" r="0.73"/><circle cx="423.3" cy="556.7" r="0.87"/><circle cx="381.3" cy="541.7" r="0.84"/><circle cx="394.1" cy="545.0" r="0.88"/><circle cx="448.3" cy="571.4" r="0.69"/><circle cx="392.5" cy="540.8" r="0.64"/><circle cx="387.3" cy="540.1" r="0.58"/><circle cx="408.0" cy="562.9" r="0.84"/><circle cx="416.5" cy="568.7" r="0.55"/><circle cx="372.7" cy="534.9" r="0.72"/><circle cx="387.4" cy="548.5" r="0.57"/><circle cx="421.8" cy="567.0" r="0.60"/><circle cx="382.7" cy="537.7" r="0.84"/><circle cx="447.8" cy="576.4" r="0.68"/><circle cx="374.8" cy="538.9" r="0.90"/><circle cx="392.4" cy="540.8" r="0.60"/><circle cx="376.9" cy="538.9" r="0.87"/><circle cx="391.1" cy="560.1" r="0.72"/><circle cx="427.4" cy="561.5" r="0.56"/><circle cx="392.2" cy="555.7" r="0.82"/><circle cx="414.3" cy="559.1" r="0.74"/><circle cx="402.7" cy="555.3" r="0.84"/><circle cx="381.1" cy="546.7" r="0.88"/><circle cx="441.3" cy="564.7" r="0.89"/><circle cx="440.7" cy="564.2" r="0.64"/><circle cx="450.5" cy="574.6" r="0.86"/><circle cx="437.4" cy="577.9" r="0.90"/><circle cx="423.9" cy="565.0" r="0.82"/><circle cx="372.2" cy="541.3" r="0.70"/><circle cx="376.3" cy="544.7" r="0.66"/><circle cx="409.7" cy="554.7" r="0.66"/><circle cx="394.7" cy="553.3" r="0.89"/><circle cx="439.1" cy="566.3" r="0.89"/><circle cx="391.5" cy="540.1" r="0.73"/><circle cx="429.7" cy="563.3" r="0.78"/><circle cx="404.1" cy="554.6" r="0.74"/><circle cx="411.0" cy="557.0" r="0.77"/><circle cx="371.2" cy="538.0" r="0.85"/><circle cx="439.9" cy="569.1" r="0.89"/><circle cx="399.0" cy="545.9" r="0.74"/><circle cx="442.0" cy="571.2" r="0.85"/><circle cx="427.7" cy="562.8" r="0.66"/><circle cx="409.4" cy="555.2" r="0.68"/></g>
<path d="M364.5,354.5 C384,353 400,359 414,369 C428,381 436,399 445,410 C450,415 453,416 457,416 L457,422.5 C450,422.5 444,420 439,414 C429,402 421,387 409,377 C397,367 382,361.5 364.5,361.5 Z" fill="#f8f6e6" stroke="#4b4f4e" stroke-width="0.8"/>
<linearGradient id="cyl" gradientUnits="userSpaceOnUse" x1="515.3" y1="295.8" x2="558.1" y2="312.1"><stop offset="0" stop-color="#aeb2b3"/><stop offset="0.2" stop-color="#c8cbcc"/><stop offset="0.55" stop-color="#d9dcdd"/><stop offset="0.72" stop-color="#f4f6f6"/><stop offset="0.9" stop-color="#c9cccd"/><stop offset="1" stop-color="#b0b4b5"/></linearGradient>
<clipPath id="cL2t"><rect x="5" y="295.8" width="580" height="141.8"/></clipPath>
<g clip-path="url(#cL2t)">
<path d="M515.3,290 L564,290 L513,428.7 L466.5,416.8 Z" fill="url(#cyl)" stroke="#6f7374" stroke-width="0.9"/>
<path d="M466.5,416.8 L513,428.7 L509.5,440 L463.5,426 Z" fill="#1e2222"/>
<path d="M455.5,414 L467.5,416.5 L465,427.5 L454,425 Z" fill="#1e2222"/>
</g>
<path d="M5.3,437.6 L584.7,437.6" stroke="#5f6463" stroke-width="1.1"/>
<rect x="44" y="512" width="541" height="6.2" fill="#d2d5d4" stroke="#8f9392" stroke-width="0.9"/>
<g stroke="#1b2120" stroke-width="1.6" fill="none">
<path d="M44.7,489 L52.7,511.3 M52.7,489 L44.7,511.3"/>
<path d="M52.0,489 L60.0,511.3 M60.0,489 L52.0,511.3"/>
<path d="M59.4,489 L67.4,511.3 M67.4,489 L59.4,511.3"/>
<path d="M66.7,489 L74.7,511.3 M74.7,489 L66.7,511.3"/>
<path d="M74.0,489 L82.0,511.3 M82.0,489 L74.0,511.3"/>
<path d="M81.3,489 L89.3,511.3 M89.3,489 L81.3,511.3"/>
<path d="M88.7,489 L96.7,511.3 M96.7,489 L88.7,511.3"/>
<path d="M96.0,489 L104.0,511.3 M104.0,489 L96.0,511.3"/>
<path d="M103.3,489 L111.3,511.3 M111.3,489 L103.3,511.3"/>
<path d="M110.7,489 L118.7,511.3 M118.7,489 L110.7,511.3"/>
<path d="M118.0,489 L126.0,511.3 M126.0,489 L118.0,511.3"/>
<path d="M125.3,489 L133.3,511.3 M133.3,489 L125.3,511.3"/>
<path d="M132.7,489 L140.7,511.3 M140.7,489 L132.7,511.3"/>
<path d="M140.0,489 L148.0,511.3 M148.0,489 L140.0,511.3"/>
<path d="M147.3,489 L155.3,511.3 M155.3,489 L147.3,511.3"/>
<path d="M154.7,489 L162.7,511.3 M162.7,489 L154.7,511.3"/>
<path d="M162.0,489 L170.0,511.3 M170.0,489 L162.0,511.3"/>
<path d="M169.3,489 L177.3,511.3 M177.3,489 L169.3,511.3"/>
<path d="M176.6,489 L184.6,511.3 M184.6,489 L176.6,511.3"/>
<path d="M184.0,489 L192.0,511.3 M192.0,489 L184.0,511.3"/>
<path d="M191.3,489 L199.3,511.3 M199.3,489 L191.3,511.3"/>
<path d="M198.6,489 L206.6,511.3 M206.6,489 L198.6,511.3"/>
<path d="M206.0,489 L214.0,511.3 M214.0,489 L206.0,511.3"/>
<path d="M213.3,489 L221.3,511.3 M221.3,489 L213.3,511.3"/>
<path d="M220.6,489 L228.6,511.3 M228.6,489 L220.6,511.3"/>
<path d="M228.0,489 L236.0,511.3 M236.0,489 L228.0,511.3"/>
<path d="M235.3,489 L243.3,511.3 M243.3,489 L235.3,511.3"/>
<path d="M242.6,489 L250.6,511.3 M250.6,489 L242.6,511.3"/>
<path d="M249.9,489 L257.9,511.3 M257.9,489 L249.9,511.3"/>
<path d="M257.3,489 L265.3,511.3 M265.3,489 L257.3,511.3"/>
<path d="M264.6,489 L272.6,511.3 M272.6,489 L264.6,511.3"/>
<path d="M271.9,489 L279.9,511.3 M279.9,489 L271.9,511.3"/>
<path d="M279.3,489 L287.3,511.3 M287.3,489 L279.3,511.3"/>
<path d="M286.6,489 L294.6,511.3 M294.6,489 L286.6,511.3"/>
<path d="M293.9,489 L301.9,511.3 M301.9,489 L293.9,511.3"/>
<path d="M301.3,489 L309.3,511.3 M309.3,489 L301.3,511.3"/>
<path d="M308.6,489 L316.6,511.3 M316.6,489 L308.6,511.3"/>
<path d="M315.9,489 L323.9,511.3 M323.9,489 L315.9,511.3"/>
<path d="M323.2,489 L331.2,511.3 M331.2,489 L323.2,511.3"/>
<path d="M330.6,489 L338.6,511.3 M338.6,489 L330.6,511.3"/>
<path d="M337.9,489 L345.9,511.3 M345.9,489 L337.9,511.3"/>
<path d="M345.2,489 L353.2,511.3 M353.2,489 L345.2,511.3"/>
<path d="M352.6,489 L360.6,511.3 M360.6,489 L352.6,511.3"/>
<path d="M359.9,489 L367.9,511.3 M367.9,489 L359.9,511.3"/>
<path d="M367.2,489 L375.2,511.3 M375.2,489 L367.2,511.3"/>
<path d="M374.5,489 L382.5,511.3 M382.5,489 L374.5,511.3"/>
<path d="M381.9,489 L389.9,511.3 M389.9,489 L381.9,511.3"/>
<path d="M389.2,489 L397.2,511.3 M397.2,489 L389.2,511.3"/>
<path d="M396.5,489 L404.5,511.3 M404.5,489 L396.5,511.3"/>
<path d="M50.7,518.5 L42.7,538 M42.7,518.5 L50.7,538"/>
<path d="M58.0,518.5 L50.0,538 M50.0,518.5 L58.0,538"/>
<path d="M65.4,518.5 L57.4,538 M57.4,518.5 L65.4,538"/>
<path d="M72.7,518.5 L64.7,538 M64.7,518.5 L72.7,538"/>
<path d="M80.0,518.5 L72.0,538 M72.0,518.5 L80.0,538"/>
<path d="M87.3,518.5 L79.3,538 M79.3,518.5 L87.3,538"/>
<path d="M94.7,518.5 L86.7,538 M86.7,518.5 L94.7,538"/>
<path d="M102.0,518.5 L94.0,538 M94.0,518.5 L102.0,538"/>
<path d="M109.3,518.5 L101.3,538 M101.3,518.5 L109.3,538"/>
<path d="M116.7,518.5 L108.7,538 M108.7,518.5 L116.7,538"/>
<path d="M124.0,518.5 L116.0,538 M116.0,518.5 L124.0,538"/>
<path d="M131.3,518.5 L123.3,538 M123.3,518.5 L131.3,538"/>
<path d="M138.7,518.5 L130.7,538 M130.7,518.5 L138.7,538"/>
<path d="M146.0,518.5 L138.0,538 M138.0,518.5 L146.0,538"/>
<path d="M153.3,518.5 L145.3,538 M145.3,518.5 L153.3,538"/>
<path d="M160.7,518.5 L152.7,538 M152.7,518.5 L160.7,538"/>
<path d="M168.0,518.5 L160.0,538 M160.0,518.5 L168.0,538"/>
<path d="M175.3,518.5 L167.3,538 M167.3,518.5 L175.3,538"/>
<path d="M182.6,518.5 L174.6,538 M174.6,518.5 L182.6,538"/>
<path d="M190.0,518.5 L182.0,538 M182.0,518.5 L190.0,538"/>
<path d="M197.3,518.5 L189.3,538 M189.3,518.5 L197.3,538"/>
<path d="M204.6,518.5 L196.6,538 M196.6,518.5 L204.6,538"/>
<path d="M212.0,518.5 L204.0,538 M204.0,518.5 L212.0,538"/>
<path d="M219.3,518.5 L211.3,538 M211.3,518.5 L219.3,538"/>
<path d="M226.6,518.5 L218.6,538 M218.6,518.5 L226.6,538"/>
<path d="M234.0,518.5 L226.0,538 M226.0,518.5 L234.0,538"/>
<path d="M241.3,518.5 L233.3,538 M233.3,518.5 L241.3,538"/>
<path d="M248.6,518.5 L240.6,538 M240.6,518.5 L248.6,538"/>
<path d="M255.9,518.5 L247.9,538 M247.9,518.5 L255.9,538"/>
<path d="M263.3,518.5 L255.3,538 M255.3,518.5 L263.3,538"/>
<path d="M270.6,518.5 L262.6,538 M262.6,518.5 L270.6,538"/>
<path d="M277.9,518.5 L269.9,538 M269.9,518.5 L277.9,538"/>
<path d="M285.3,518.5 L277.3,538 M277.3,518.5 L285.3,538"/>
<path d="M292.6,518.5 L284.6,538 M284.6,518.5 L292.6,538"/>
<path d="M299.9,518.5 L291.9,538 M291.9,518.5 L299.9,538"/>
<path d="M307.3,518.5 L299.3,538 M299.3,518.5 L307.3,538"/>
<path d="M314.6,518.5 L306.6,538 M306.6,518.5 L314.6,538"/>
<path d="M321.9,518.5 L313.9,538 M313.9,518.5 L321.9,538"/>
<path d="M329.2,518.5 L321.2,538 M321.2,518.5 L329.2,538"/>
<path d="M336.6,518.5 L328.6,538 M328.6,518.5 L336.6,538"/>
<path d="M343.9,518.5 L335.9,538 M335.9,518.5 L343.9,538"/>
<path d="M351.2,518.5 L343.2,538 M343.2,518.5 L351.2,538"/>
<path d="M358.6,518.5 L350.6,538 M350.6,518.5 L358.6,538"/>
<path d="M365.9,518.5 L357.9,538 M357.9,518.5 L365.9,538"/>
<path d="M373.2,518.5 L365.2,538 M365.2,518.5 L373.2,538"/>
<path d="M380.5,518.5 L372.5,538 M372.5,518.5 L380.5,538"/>
<path d="M387.9,518.5 L379.9,538 M379.9,518.5 L387.9,538"/>
<path d="M395.2,518.5 L387.2,538 M387.2,518.5 L395.2,538"/>
<path d="M402.5,518.5 L394.5,538 M394.5,518.5 L402.5,538"/>
<path d="M404,511.3 L413.3,490 M402.7,518.7 L410,538"/>
<g stroke-width="1.1">
<path d="M48.4,489 L54.4,511.3 M54.4,489 L48.4,511.3"/>
<path d="M55.7,489 L61.7,511.3 M61.7,489 L55.7,511.3"/>
<path d="M63.1,489 L69.1,511.3 M69.1,489 L63.1,511.3"/>
<path d="M70.4,489 L76.4,511.3 M76.4,489 L70.4,511.3"/>
<path d="M77.7,489 L83.7,511.3 M83.7,489 L77.7,511.3"/>
<path d="M85.0,489 L91.0,511.3 M91.0,489 L85.0,511.3"/>
<path d="M92.4,489 L98.4,511.3 M98.4,489 L92.4,511.3"/>
<path d="M99.7,489 L105.7,511.3 M105.7,489 L99.7,511.3"/>
<path d="M107.0,489 L113.0,511.3 M113.0,489 L107.0,511.3"/>
<path d="M114.4,489 L120.4,511.3 M120.4,489 L114.4,511.3"/>
<path d="M121.7,489 L127.7,511.3 M127.7,489 L121.7,511.3"/>
<path d="M129.0,489 L135.0,511.3 M135.0,489 L129.0,511.3"/>
<path d="M136.4,489 L142.4,511.3 M142.4,489 L136.4,511.3"/>
<path d="M143.7,489 L149.7,511.3 M149.7,489 L143.7,511.3"/>
<path d="M151.0,489 L157.0,511.3 M157.0,489 L151.0,511.3"/>
<path d="M158.4,489 L164.4,511.3 M164.4,489 L158.4,511.3"/>
<path d="M165.7,489 L171.7,511.3 M171.7,489 L165.7,511.3"/>
<path d="M173.0,489 L179.0,511.3 M179.0,489 L173.0,511.3"/>
<path d="M180.3,489 L186.3,511.3 M186.3,489 L180.3,511.3"/>
<path d="M187.7,489 L193.7,511.3 M193.7,489 L187.7,511.3"/>
<path d="M195.0,489 L201.0,511.3 M201.0,489 L195.0,511.3"/>
<path d="M202.3,489 L208.3,511.3 M208.3,489 L202.3,511.3"/>
<path d="M209.7,489 L215.7,511.3 M215.7,489 L209.7,511.3"/>
<path d="M217.0,489 L223.0,511.3 M223.0,489 L217.0,511.3"/>
<path d="M224.3,489 L230.3,511.3 M230.3,489 L224.3,511.3"/>
<path d="M231.7,489 L237.7,511.3 M237.7,489 L231.7,511.3"/>
<path d="M239.0,489 L245.0,511.3 M245.0,489 L239.0,511.3"/>
<path d="M246.3,489 L252.3,511.3 M252.3,489 L246.3,511.3"/>
<path d="M253.6,489 L259.6,511.3 M259.6,489 L253.6,511.3"/>
<path d="M261.0,489 L267.0,511.3 M267.0,489 L261.0,511.3"/>
<path d="M268.3,489 L274.3,511.3 M274.3,489 L268.3,511.3"/>
<path d="M275.6,489 L281.6,511.3 M281.6,489 L275.6,511.3"/>
<path d="M283.0,489 L289.0,511.3 M289.0,489 L283.0,511.3"/>
<path d="M290.3,489 L296.3,511.3 M296.3,489 L290.3,511.3"/>
<path d="M297.6,489 L303.6,511.3 M303.6,489 L297.6,511.3"/>
<path d="M305.0,489 L311.0,511.3 M311.0,489 L305.0,511.3"/>
<path d="M312.3,489 L318.3,511.3 M318.3,489 L312.3,511.3"/>
<path d="M319.6,489 L325.6,511.3 M325.6,489 L319.6,511.3"/>
<path d="M326.9,489 L332.9,511.3 M332.9,489 L326.9,511.3"/>
<path d="M334.3,489 L340.3,511.3 M340.3,489 L334.3,511.3"/>
<path d="M341.6,489 L347.6,511.3 M347.6,489 L341.6,511.3"/>
<path d="M348.9,489 L354.9,511.3 M354.9,489 L348.9,511.3"/>
<path d="M356.3,489 L362.3,511.3 M362.3,489 L356.3,511.3"/>
<path d="M363.6,489 L369.6,511.3 M369.6,489 L363.6,511.3"/>
<path d="M370.9,489 L376.9,511.3 M376.9,489 L370.9,511.3"/>
<path d="M378.2,489 L384.2,511.3 M384.2,489 L378.2,511.3"/>
<path d="M385.6,489 L391.6,511.3 M391.6,489 L385.6,511.3"/>
<path d="M392.9,489 L398.9,511.3 M398.9,489 L392.9,511.3"/>
<path d="M52.4,518.5 L46.4,538 M46.4,518.5 L52.4,538"/>
<path d="M59.7,518.5 L53.7,538 M53.7,518.5 L59.7,538"/>
<path d="M67.1,518.5 L61.1,538 M61.1,518.5 L67.1,538"/>
<path d="M74.4,518.5 L68.4,538 M68.4,518.5 L74.4,538"/>
<path d="M81.7,518.5 L75.7,538 M75.7,518.5 L81.7,538"/>
<path d="M89.0,518.5 L83.0,538 M83.0,518.5 L89.0,538"/>
<path d="M96.4,518.5 L90.4,538 M90.4,518.5 L96.4,538"/>
<path d="M103.7,518.5 L97.7,538 M97.7,518.5 L103.7,538"/>
<path d="M111.0,518.5 L105.0,538 M105.0,518.5 L111.0,538"/>
<path d="M118.4,518.5 L112.4,538 M112.4,518.5 L118.4,538"/>
<path d="M125.7,518.5 L119.7,538 M119.7,518.5 L125.7,538"/>
<path d="M133.0,518.5 L127.0,538 M127.0,518.5 L133.0,538"/>
<path d="M140.4,518.5 L134.4,538 M134.4,518.5 L140.4,538"/>
<path d="M147.7,518.5 L141.7,538 M141.7,518.5 L147.7,538"/>
<path d="M155.0,518.5 L149.0,538 M149.0,518.5 L155.0,538"/>
<path d="M162.4,518.5 L156.4,538 M156.4,518.5 L162.4,538"/>
<path d="M169.7,518.5 L163.7,538 M163.7,518.5 L169.7,538"/>
<path d="M177.0,518.5 L171.0,538 M171.0,518.5 L177.0,538"/>
<path d="M184.3,518.5 L178.3,538 M178.3,518.5 L184.3,538"/>
<path d="M191.7,518.5 L185.7,538 M185.7,518.5 L191.7,538"/>
<path d="M199.0,518.5 L193.0,538 M193.0,518.5 L199.0,538"/>
<path d="M206.3,518.5 L200.3,538 M200.3,518.5 L206.3,538"/>
<path d="M213.7,518.5 L207.7,538 M207.7,518.5 L213.7,538"/>
<path d="M221.0,518.5 L215.0,538 M215.0,518.5 L221.0,538"/>
<path d="M228.3,518.5 L222.3,538 M222.3,518.5 L228.3,538"/>
<path d="M235.7,518.5 L229.7,538 M229.7,518.5 L235.7,538"/>
<path d="M243.0,518.5 L237.0,538 M237.0,518.5 L243.0,538"/>
<path d="M250.3,518.5 L244.3,538 M244.3,518.5 L250.3,538"/>
<path d="M257.6,518.5 L251.6,538 M251.6,518.5 L257.6,538"/>
<path d="M265.0,518.5 L259.0,538 M259.0,518.5 L265.0,538"/>
<path d="M272.3,518.5 L266.3,538 M266.3,518.5 L272.3,538"/>
<path d="M279.6,518.5 L273.6,538 M273.6,518.5 L279.6,538"/>
<path d="M287.0,518.5 L281.0,538 M281.0,518.5 L287.0,538"/>
<path d="M294.3,518.5 L288.3,538 M288.3,518.5 L294.3,538"/>
<path d="M301.6,518.5 L295.6,538 M295.6,518.5 L301.6,538"/>
<path d="M309.0,518.5 L303.0,538 M303.0,518.5 L309.0,538"/>
<path d="M316.3,518.5 L310.3,538 M310.3,518.5 L316.3,538"/>
<path d="M323.6,518.5 L317.6,538 M317.6,518.5 L323.6,538"/>
<path d="M330.9,518.5 L324.9,538 M324.9,518.5 L330.9,538"/>
<path d="M338.3,518.5 L332.3,538 M332.3,518.5 L338.3,538"/>
<path d="M345.6,518.5 L339.6,538 M339.6,518.5 L345.6,538"/>
<path d="M352.9,518.5 L346.9,538 M346.9,518.5 L352.9,538"/>
<path d="M360.3,518.5 L354.3,538 M354.3,518.5 L360.3,538"/>
<path d="M367.6,518.5 L361.6,538 M361.6,518.5 L367.6,538"/>
<path d="M374.9,518.5 L368.9,538 M368.9,518.5 L374.9,538"/>
<path d="M382.2,518.5 L376.2,538 M376.2,518.5 L382.2,538"/>
<path d="M389.6,518.5 L383.6,538 M383.6,518.5 L389.6,538"/>
<path d="M396.9,518.5 L390.9,538 M390.9,518.5 L396.9,538"/>
</g>
</g>
<clipPath id="cR2"><rect x="616" y="295.8" width="578.7" height="287.9"/></clipPath>
<g clip-path="url(#cR2)">
<rect x="616" y="290" width="357.5" height="300" fill="#e18b31"/>
<path d="M656,296 L656,584" stroke="#f3b469" stroke-width="0.8" stroke-dasharray="5 5" opacity="0.7"/>
<path d="M705,296 L705,584" stroke="#f3b469" stroke-width="0.8" stroke-dasharray="5 5" opacity="0.7"/>
<path d="M755,296 L755,584" stroke="#f3b469" stroke-width="0.8" stroke-dasharray="5 5" opacity="0.7"/>
<path d="M804,296 L804,584" stroke="#f3b469" stroke-width="0.8" stroke-dasharray="5 5" opacity="0.7"/>
<path d="M853,296 L853,584" stroke="#f3b469" stroke-width="0.8" stroke-dasharray="5 5" opacity="0.7"/>
<path d="M903,296 L903,584" stroke="#f3b469" stroke-width="0.8" stroke-dasharray="5 5" opacity="0.7"/>
<path d="M952,296 L952,584" stroke="#f3b469" stroke-width="0.8" stroke-dasharray="5 5" opacity="0.7"/>
<path d="M973.5,290 L973.5,590" stroke="#8a5318" stroke-width="1"/>
<path d="M625.3,437 L635,418.5 L973,418.5 L973,456 L635,456 Z" fill="#bb6b1d"/>
<linearGradient id="skyR2" gradientUnits="userSpaceOnUse" x1="0" y1="295.8" x2="0" y2="583.7"><stop offset="0" stop-color="#c6e8f6"/><stop offset="0.45" stop-color="#dbf0f9"/><stop offset="0.75" stop-color="#edf7fb"/><stop offset="1" stop-color="#fafdfd"/></linearGradient>
<rect x="600" y="250" width="48.299999999999955" height="149.3" rx="24.1" ry="24.1" fill="url(#skyR2)" stroke="#553516" stroke-width="1.2"/>
<rect x="600" y="470.2" width="48.299999999999955" height="169.8" rx="24.1" ry="24.1" fill="url(#skyR2)" stroke="#553516" stroke-width="1.2"/>
<rect x="712.6" y="250" width="34.89999999999998" height="145.5" rx="17.4" ry="17.4" fill="url(#skyR2)" stroke="#553516" stroke-width="1.2"/>
<rect x="712.6" y="465.4" width="34.89999999999998" height="174.60000000000002" rx="17.4" ry="17.4" fill="url(#skyR2)" stroke="#553516" stroke-width="1.2"/>
<rect x="811" y="250" width="36" height="149.3" rx="18.0" ry="18.0" fill="url(#skyR2)" stroke="#553516" stroke-width="1.2"/>
<rect x="811" y="470.2" width="36" height="169.8" rx="18.0" ry="18.0" fill="url(#skyR2)" stroke="#553516" stroke-width="1.2"/>
<rect x="909.8" y="250" width="35.5" height="145.5" rx="17.8" ry="17.8" fill="url(#skyR2)" stroke="#553516" stroke-width="1.2"/>
<rect x="909.8" y="465.4" width="35.5" height="174.60000000000002" rx="17.8" ry="17.8" fill="url(#skyR2)" stroke="#553516" stroke-width="1.2"/>
<rect x="663.7" y="250" width="34.5" height="103" rx="17.2" ry="17.2" fill="url(#skyR2)" stroke="#553516" stroke-width="1.2"/>
<rect x="663.7" y="384" width="34.5" height="115" rx="17.2" ry="17.2" fill="url(#skyR2)" stroke="#553516" stroke-width="1.2"/>
<rect x="663.7" y="529.7" width="34.5" height="110.29999999999995" rx="17.2" ry="17.2" fill="url(#skyR2)" stroke="#553516" stroke-width="1.2"/>
<rect x="762.4" y="250" width="34.60000000000002" height="103" rx="17.3" ry="17.3" fill="url(#skyR2)" stroke="#553516" stroke-width="1.2"/>
<rect x="762.4" y="384" width="34.60000000000002" height="115" rx="17.3" ry="17.3" fill="url(#skyR2)" stroke="#553516" stroke-width="1.2"/>
<rect x="762.4" y="529.7" width="34.60000000000002" height="110.29999999999995" rx="17.3" ry="17.3" fill="url(#skyR2)" stroke="#553516" stroke-width="1.2"/>
<rect x="861" y="250" width="35.39999999999998" height="103" rx="17.7" ry="17.7" fill="url(#skyR2)" stroke="#553516" stroke-width="1.2"/>
<rect x="861" y="384" width="35.39999999999998" height="115" rx="17.7" ry="17.7" fill="url(#skyR2)" stroke="#553516" stroke-width="1.2"/>
<rect x="861" y="529.7" width="35.39999999999998" height="110.29999999999995" rx="17.7" ry="17.7" fill="url(#skyR2)" stroke="#553516" stroke-width="1.2"/>
</g>
<g>
<path d="M654,438 C658,432 663,429 668,429 L810,429 L810,447 L668,447 C663,447 658,444 654,438 Z" fill="url(#scr)" stroke="#5d6160" stroke-width="0.9"/>
<path d="M657,438 L810,438" stroke="#7c807f" stroke-width="1.4" fill="none"/>
<path d="M675.5,426.8 L672.8,449.2" fill="none" stroke="#8b8f8e" stroke-width="1.5"/>
<path d="M676.8,429.5 L674.3,446.5" fill="none" stroke="#ffffff" stroke-width="1"/>
<path d="M673.9,429.0 Q675.5,425.6 677.1,429.0 M671.2,447.0 Q672.8,450.4 674.4,447.0" fill="#9da1a0" stroke="#4f5352" stroke-width="0.7"/>
<path d="M685.4,426.8 L682.7,449.2" fill="none" stroke="#8b8f8e" stroke-width="1.5"/>
<path d="M686.7,429.5 L684.2,446.5" fill="none" stroke="#ffffff" stroke-width="1"/>
<path d="M683.8,429.0 Q685.4,425.6 687.0,429.0 M681.1,447.0 Q682.7,450.4 684.3,447.0" fill="#9da1a0" stroke="#4f5352" stroke-width="0.7"/>
<path d="M695.3,426.8 L692.6,449.2" fill="none" stroke="#8b8f8e" stroke-width="1.5"/>
<path d="M696.6,429.5 L694.1,446.5" fill="none" stroke="#ffffff" stroke-width="1"/>
<path d="M693.7,429.0 Q695.3,425.6 696.9,429.0 M691.0,447.0 Q692.6,450.4 694.2,447.0" fill="#9da1a0" stroke="#4f5352" stroke-width="0.7"/>
<path d="M705.2,426.8 L702.5,449.2" fill="none" stroke="#8b8f8e" stroke-width="1.5"/>
<path d="M706.5,429.5 L704.0,446.5" fill="none" stroke="#ffffff" stroke-width="1"/>
<path d="M703.6,429.0 Q705.2,425.6 706.8,429.0 M700.9,447.0 Q702.5,450.4 704.1,447.0" fill="#9da1a0" stroke="#4f5352" stroke-width="0.7"/>
<path d="M715.1,426.8 L712.4,449.2" fill="none" stroke="#8b8f8e" stroke-width="1.5"/>
<path d="M716.4,429.5 L713.9,446.5" fill="none" stroke="#ffffff" stroke-width="1"/>
<path d="M713.5,429.0 Q715.1,425.6 716.7,429.0 M710.8,447.0 Q712.4,450.4 714.0,447.0" fill="#9da1a0" stroke="#4f5352" stroke-width="0.7"/>
<path d="M725.0,426.8 L722.3,449.2" fill="none" stroke="#8b8f8e" stroke-width="1.5"/>
<path d="M726.3,429.5 L723.8,446.5" fill="none" stroke="#ffffff" stroke-width="1"/>
<path d="M723.4,429.0 Q725.0,425.6 726.6,429.0 M720.7,447.0 Q722.3,450.4 723.9,447.0" fill="#9da1a0" stroke="#4f5352" stroke-width="0.7"/>
<path d="M734.9,426.8 L732.2,449.2" fill="none" stroke="#8b8f8e" stroke-width="1.5"/>
<path d="M736.2,429.5 L733.7,446.5" fill="none" stroke="#ffffff" stroke-width="1"/>
<path d="M733.3,429.0 Q734.9,425.6 736.5,429.0 M730.6,447.0 Q732.2,450.4 733.8,447.0" fill="#9da1a0" stroke="#4f5352" stroke-width="0.7"/>
<path d="M744.8,426.8 L742.1,449.2" fill="none" stroke="#8b8f8e" stroke-width="1.5"/>
<path d="M746.1,429.5 L743.6,446.5" fill="none" stroke="#ffffff" stroke-width="1"/>
<path d="M743.2,429.0 Q744.8,425.6 746.4,429.0 M740.5,447.0 Q742.1,450.4 743.7,447.0" fill="#9da1a0" stroke="#4f5352" stroke-width="0.7"/>
<path d="M754.7,426.8 L752.0,449.2" fill="none" stroke="#8b8f8e" stroke-width="1.5"/>
<path d="M756.0,429.5 L753.5,446.5" fill="none" stroke="#ffffff" stroke-width="1"/>
<path d="M753.1,429.0 Q754.7,425.6 756.3,429.0 M750.4,447.0 Q752.0,450.4 753.6,447.0" fill="#9da1a0" stroke="#4f5352" stroke-width="0.7"/>
<path d="M764.6,426.8 L761.9,449.2" fill="none" stroke="#8b8f8e" stroke-width="1.5"/>
<path d="M765.9,429.5 L763.4,446.5" fill="none" stroke="#ffffff" stroke-width="1"/>
<path d="M763.0,429.0 Q764.6,425.6 766.2,429.0 M760.3,447.0 Q761.9,450.4 763.5,447.0" fill="#9da1a0" stroke="#4f5352" stroke-width="0.7"/>
<path d="M774.5,426.8 L771.8,449.2" fill="none" stroke="#8b8f8e" stroke-width="1.5"/>
<path d="M775.8,429.5 L773.3,446.5" fill="none" stroke="#ffffff" stroke-width="1"/>
<path d="M772.9,429.0 Q774.5,425.6 776.1,429.0 M770.2,447.0 Q771.8,450.4 773.4,447.0" fill="#9da1a0" stroke="#4f5352" stroke-width="0.7"/>
<path d="M784.4,426.8 L781.7,449.2" fill="none" stroke="#8b8f8e" stroke-width="1.5"/>
<path d="M785.7,429.5 L783.2,446.5" fill="none" stroke="#ffffff" stroke-width="1"/>
<path d="M782.8,429.0 Q784.4,425.6 786.0,429.0 M780.1,447.0 Q781.7,450.4 783.3,447.0" fill="#9da1a0" stroke="#4f5352" stroke-width="0.7"/>
<path d="M794.3,426.8 L791.6,449.2" fill="none" stroke="#8b8f8e" stroke-width="1.5"/>
<path d="M795.6,429.5 L793.1,446.5" fill="none" stroke="#ffffff" stroke-width="1"/>
<path d="M792.7,429.0 Q794.3,425.6 795.9,429.0 M790.0,447.0 Q791.6,450.4 793.2,447.0" fill="#9da1a0" stroke="#4f5352" stroke-width="0.7"/>
<path d="M804.2,426.8 L801.5,449.2" fill="none" stroke="#8b8f8e" stroke-width="1.5"/>
<path d="M805.5,429.5 L803.0,446.5" fill="none" stroke="#ffffff" stroke-width="1"/>
<path d="M802.6,429.0 Q804.2,425.6 805.8,429.0 M799.9,447.0 Q801.5,450.4 803.1,447.0" fill="#9da1a0" stroke="#4f5352" stroke-width="0.7"/>
</g>
<g transform="translate(808.6,438)" stroke="#4f5352" stroke-width="0.9">
<path d="M92.39999999999998,-19.5 C98.39999999999998,-24 103.39999999999998,-26.5 112.39999999999998,-26.5 L164.39999999999998,-26.5 L164.39999999999998,26.5 L112.39999999999998,26.5 C103.39999999999998,26.5 98.39999999999998,24 92.39999999999998,19.5 Z" fill="#eff0f0"/>
<g transform="scale(1,1.03)"><path d="M94.39999999999998,-19.5 C100.39999999999998,-16 106.39999999999998,-15.4 118.39999999999998,-15.4 L164.39999999999998,-15.4" fill="none" stroke="#6b6f6e" stroke-width="1"/>
<path d="M96.39999999999998,-2 C100.39999999999998,-5 108.39999999999998,-6.4 122.39999999999998,-6.4 L164.39999999999998,-6.4" fill="none" stroke="#6b6f6e" stroke-width="1"/>
<path d="M92.39999999999998,0.4 L164.39999999999998,0.4" fill="none" stroke="#55595a" stroke-width="1.1"/>
<path d="M96.39999999999998,3 C100.39999999999998,5.5 108.39999999999998,6.4 122.39999999999998,6.4 L164.39999999999998,6.4" fill="none" stroke="#6b6f6e" stroke-width="1"/>
<path d="M94.39999999999998,19.5 C100.39999999999998,16 106.39999999999998,15.4 118.39999999999998,15.4 L164.39999999999998,15.4" fill="none" stroke="#6b6f6e" stroke-width="1"/>
<path d="M114.39999999999998,-13.6 L164.39999999999998,-13.6" stroke="#c9cccb" stroke-width="2.2" fill="none"/>
<path d="M114.39999999999998,-4.6 L164.39999999999998,-4.6" stroke="#c9cccb" stroke-width="2.2" fill="none"/>
<path d="M114.39999999999998,8.2 L164.39999999999998,8.2" stroke="#c9cccb" stroke-width="2.2" fill="none"/>
<path d="M114.39999999999998,17.2 L164.39999999999998,17.2" stroke="#c9cccb" stroke-width="2.2" fill="none"/>
<path d="M116.39999999999998,-10 L164.39999999999998,-10" stroke="#ffffff" stroke-width="1.8" fill="none"/>
<path d="M116.39999999999998,3 L164.39999999999998,3" stroke="#ffffff" stroke-width="1.8" fill="none"/>
<path d="M116.39999999999998,12 L164.39999999999998,12" stroke="#ffffff" stroke-width="1.8" fill="none"/>
<path d="M92.39999999999998,-19.5 C95.39999999999998,-12 95.39999999999998,-5 92.39999999999998,0.4 C95.39999999999998,6 95.39999999999998,13 92.39999999999998,19.5" fill="none" stroke="#55595a" stroke-width="1"/></g>
<rect x="163.89999999999998" y="-28" width="5.5" height="56" rx="2.5" fill="#f1f2f2"/>
<path d="M0,-13.5 L6,-19.5 L40,-19.5 L40,19.5 L6,19.5 L0,13.5 Z" fill="url(#plas)"/>
<path d="M6,-19.5 L6,19.5" fill="none"/>
<rect x="34" y="-19.5" width="6.5" height="39" fill="#dcdfde"/>
<path d="M41.3,-20.2 C42.8,-24.2 46.8,-21.9 48.9,-24.0 C51.0,-26.1 52.1,-30.3 53.7,-32.7 C55.3,-35.1 56.1,-36.7 58.5,-38.4 C60.9,-40.1 65.4,-42.7 68.1,-42.7 C70.8,-42.7 72.4,-39.6 74.8,-38.4 C77.2,-37.2 80.4,-37.1 82.5,-35.5 C84.6,-33.9 86.3,-31.4 87.3,-28.8 C88.2,-26.2 86.6,-22.3 88.2,-20.2 C89.8,-18.1 95.1,-18.9 96.9,-16.4 C98.7,-13.8 98.6,-9.2 98.8,-4.9 C99.0,-0.6 98.5,5.5 97.9,9.5 C97.3,13.5 96.8,17.2 95.0,19.1 C93.2,21.0 88.6,19.4 87.3,21.0 C86.0,22.6 88.1,26.3 87.3,28.7 C86.5,31.1 84.9,33.8 82.5,35.4 C80.1,37.0 76.1,37.8 72.9,38.3 C69.7,38.8 66.0,39.1 63.3,38.3 C60.6,37.5 58.4,35.4 56.6,33.5 C54.9,31.6 54.1,29.2 52.8,26.8 C51.5,24.4 50.8,21.3 48.9,19.1 C47.0,16.9 42.8,16.6 41.3,13.4 C39.8,10.2 39.8,5.5 39.8,-0.1 C39.8,-5.7 39.8,-16.2 41.3,-20.2Z" fill="#e3e5e4" stroke="#3f4342" stroke-width="1"/>
<path d="M50.0,-33.0 C51.0,-38.0 55.0,-38.7 58.0,-40.0 C61.0,-41.3 65.0,-42.3 68.0,-41.0 C71.0,-39.7 73.7,-35.8 76.0,-32.0 C78.3,-28.2 80.3,-23.3 82.0,-18.0 C83.7,-12.7 85.7,-6.0 86.0,0.0 C86.3,6.0 85.3,12.5 84.0,18.0 C82.7,23.5 80.7,29.8 78.0,33.0 C75.3,36.2 71.0,37.5 68.0,37.0 C65.0,36.5 62.2,34.2 60.0,30.0 C57.8,25.8 56.3,18.7 55.0,12.0 C53.7,5.3 52.8,-2.5 52.0,-10.0 C51.2,-17.5 49.0,-28.0 50.0,-33.0Z" fill="#c9cccb" stroke="#3f4342" stroke-width="0.9"/>
<path d="M78.6,16.5 l3.1,0.7" stroke="#666a69" stroke-width="0.9"/>
<path d="M66.7,-7.7 l4.8,3.3" stroke="#666a69" stroke-width="0.9"/>
<path d="M77.6,-5.2 l3.0,3.5" stroke="#666a69" stroke-width="0.9"/>
<path d="M73.8,28.3 l5.5,0.1" stroke="#666a69" stroke-width="0.9"/>
<path d="M58.9,10.2 l3.9,2.6" stroke="#666a69" stroke-width="0.9"/>
<path d="M73.2,-27.3 l4.6,-2.2" stroke="#666a69" stroke-width="0.9"/>
<path d="M60.0,-8.2 l5.7,2.6" stroke="#666a69" stroke-width="0.9"/>
<path d="M79.3,-15.6 l4.5,0.4" stroke="#666a69" stroke-width="0.9"/>
<path d="M59.5,-32.1 l5.6,-1.1" stroke="#666a69" stroke-width="0.9"/>
<path d="M78.5,-23.3 l3.4,2.8" stroke="#666a69" stroke-width="0.9"/>
<path d="M65.5,-18.7 l6.0,2.1" stroke="#666a69" stroke-width="0.9"/>
<path d="M71.6,19.2 l3.4,-1.1" stroke="#666a69" stroke-width="0.9"/>
<path d="M74.2,22.5 l3.4,-2.6" stroke="#666a69" stroke-width="0.9"/>
<path d="M72.7,-11.9 l4.6,-0.2" stroke="#666a69" stroke-width="0.9"/>
<path d="M71.2,-10.9 l5.0,-1.4" stroke="#666a69" stroke-width="0.9"/>
<path d="M78.9,20.0 l3.8,-2.3" stroke="#666a69" stroke-width="0.9"/>
<path d="M60.5,-0.8 l5.1,3.5" stroke="#666a69" stroke-width="0.9"/>
<path d="M64.2,-18.5 l5.0,-1.2" stroke="#666a69" stroke-width="0.9"/>
<path d="M63.6,30.2 l4.8,-3.2" stroke="#666a69" stroke-width="0.9"/>
<path d="M74.6,14.0 l3.6,-2.7" stroke="#666a69" stroke-width="0.9"/>
<path d="M70.5,-6.6 l5.5,1.2" stroke="#666a69" stroke-width="0.9"/>
<path d="M71.4,-17.6 l3.5,0.5" stroke="#666a69" stroke-width="0.9"/>
<path d="M77.0,12.2 l3.2,-0.5" stroke="#666a69" stroke-width="0.9"/>
<path d="M57.4,-5.8 l3.8,-3.7" stroke="#666a69" stroke-width="0.9"/>
<path d="M69.5,-25.5 l5.8,-2.5" stroke="#666a69" stroke-width="0.9"/>
<path d="M75.0,-16.9 l5.8,-3.7" stroke="#666a69" stroke-width="0.9"/>
<path d="M57.5,-24.4 l4,-3 l0,5 l-4,3 Z" fill="#f2f3f3" stroke="#666a69" stroke-width="0.6"/>
<path d="M74.8,25.3 l4,-3 l0,5 l-4,3 Z" fill="#f2f3f3" stroke="#666a69" stroke-width="0.6"/>
<path d="M65.3,-3.3 l4,-3 l0,5 l-4,3 Z" fill="#f2f3f3" stroke="#666a69" stroke-width="0.6"/>
<path d="M76.6,-7.9 l4,-3 l0,5 l-4,3 Z" fill="#f2f3f3" stroke="#666a69" stroke-width="0.6"/>
<path d="M69.3,22.2 l4,-3 l0,5 l-4,3 Z" fill="#f2f3f3" stroke="#666a69" stroke-width="0.6"/>
<path d="M68.8,23.0 l4,-3 l0,5 l-4,3 Z" fill="#f2f3f3" stroke="#666a69" stroke-width="0.6"/>
<path d="M67.9,8.2 l4,-3 l0,5 l-4,3 Z" fill="#f2f3f3" stroke="#666a69" stroke-width="0.6"/>
<path d="M73.5,7.1 l4,-3 l0,5 l-4,3 Z" fill="#f2f3f3" stroke="#666a69" stroke-width="0.6"/>
<path d="M60.5,-14.9 l4,-3 l0,5 l-4,3 Z" fill="#f2f3f3" stroke="#666a69" stroke-width="0.6"/>
<path d="M75.7,-4.0 l4,-3 l0,5 l-4,3 Z" fill="#f2f3f3" stroke="#666a69" stroke-width="0.6"/>
<path d="M62,-39 C70,-20 74,0 66,36" fill="none" stroke="#3f4342" stroke-width="0.9"/>
<path d="M78,-12 C84,-20 95,-18 98,-6 C100,6 98,16 92,20 C86,23 80,19 78,10 C76,3 76,-6 78,-12 Z" fill="#e6e8e7" stroke="#3f4342" stroke-width="0.9"/>
<path d="M41,-20 C47,-24 53,-22 55,-12 C57,0 56,12 52,22 C48,20 44,16 41,13 Z" fill="#e9ebea" stroke="#3f4342" stroke-width="0.8"/>
</g>
<rect x="978" y="354" width="51" height="171" fill="#a8702a"/>
<path d="M985.4,355.0 C985.5,359.0 986.0,371.1 985.8,379.1 C985.6,387.2 984.8,395.2 984.2,403.3 C983.7,411.3 982.7,419.4 982.7,427.4 C982.8,435.5 984.0,443.5 984.6,451.6 C985.2,459.6 986.9,467.7 986.3,475.7 C985.7,483.8 981.2,491.8 980.8,499.9 C980.4,507.9 983.3,520.0 983.8,524.0" fill="none" stroke="#744a1b" stroke-width="1.1"/>
<path d="M990.7,355.0 C990.5,359.0 988.7,371.1 989.5,379.1 C990.2,387.2 994.9,395.2 995.1,403.3 C995.4,411.3 991.8,419.4 991.2,427.4 C990.5,435.5 991.0,443.5 991.2,451.6 C991.4,459.6 992.6,467.7 992.5,475.7 C992.4,483.8 990.4,491.8 990.5,499.9 C990.7,507.9 993.0,520.0 993.5,524.0" fill="none" stroke="#744a1b" stroke-width="1.1"/>
<path d="M1001.6,355.0 C1001.8,359.0 1002.5,371.1 1002.8,379.1 C1003.1,387.2 1003.4,395.2 1003.5,403.3 C1003.5,411.3 1003.2,419.4 1002.9,427.4 C1002.7,435.5 1001.3,443.5 1001.9,451.6 C1002.5,459.6 1006.3,467.7 1006.8,475.7 C1007.3,483.8 1004.8,491.8 1004.8,499.9 C1004.8,507.9 1006.6,520.0 1006.9,524.0" fill="none" stroke="#744a1b" stroke-width="1.1"/>
<path d="M1014.4,355.0 C1014.2,359.0 1012.7,371.1 1013.0,379.1 C1013.4,387.2 1016.4,395.2 1016.5,403.3 C1016.7,411.3 1014.0,419.4 1013.8,427.4 C1013.6,435.5 1015.6,443.5 1015.2,451.6 C1014.9,459.6 1011.7,467.7 1011.8,475.7 C1011.9,483.8 1015.6,491.8 1015.8,499.9 C1015.9,507.9 1013.3,520.0 1012.9,524.0" fill="none" stroke="#744a1b" stroke-width="1.1"/>
<path d="M1022.6,355.0 C1022.1,359.0 1020.4,371.1 1019.6,379.1 C1018.8,387.2 1017.6,395.2 1017.9,403.3 C1018.3,411.3 1021.5,419.4 1021.7,427.4 C1021.9,435.5 1019.1,443.5 1019.3,451.6 C1019.6,459.6 1023.6,467.7 1023.4,475.7 C1023.1,483.8 1018.4,491.8 1018.0,499.9 C1017.6,507.9 1020.6,520.0 1021.2,524.0" fill="none" stroke="#744a1b" stroke-width="1.1"/>
<path d="M1005.6,521.6 C1004.6,497.6 1004.6,473.7 1009.6,473.7 C1014.6,473.7 1014.6,497.6 1013.6,521.6" fill="none" stroke="#744a1b" stroke-width="1"/>
<path d="M986.8,357.4 C985.8,381.4 985.8,405.3 990.8,405.3 C995.8,405.3 995.8,381.4 994.8,357.4" fill="none" stroke="#744a1b" stroke-width="1"/>
<rect x="978" y="354" width="51" height="171" fill="none" stroke="#4d3517" stroke-width="1.3"/>
<path d="M978,425 L1010,425 L1029,412 L1029,463 L1010,451 L978,451 Z" fill="#6d4618"/>
<rect x="976" y="430" width="37" height="16" fill="url(#scr)" stroke="#555958" stroke-width="0.9"/>
<path d="M1012,430 L1029,417 L1029,461 L1012,446 Z" fill="url(#scr)" stroke="#555958" stroke-width="0.9"/>
<path d="M1068,438.5 C1078,423.8 1094,417.5 1115,417.5 L1196,417.5 L1196,459.5 L1115,459.5 C1094,459.5 1078,453.2 1068,438.5 Z" fill="url(#steel2)" stroke="#5a5e5d" stroke-width="1"/>
<path d="M1071,436.9 C1083,435.5 1103,433.5 1114,431.5 C1118.5,430.0 1118.5,424.5 1113,423.0 C1103,422.0 1086,426.5 1071,436.9 Z" fill="url(#flute)" stroke="#4f5352" stroke-width="0.8"/>
<path d="M1071,440.1 C1083,441.5 1103,443.5 1114,445.5 C1118.5,447.0 1118.5,452.5 1113,454.0 C1103,455.0 1086,450.5 1071,440.1 Z" fill="url(#flute)" stroke="#4f5352" stroke-width="0.8"/>
<path d="M1070,438.5 L1123,438.5" stroke="#fbfbfb" stroke-width="2.4" fill="none"/>
<clipPath id="cR3"><rect x="616" y="615.2" width="578.7" height="288.3"/></clipPath>
<g clip-path="url(#cR3)">
<rect x="900" y="610" width="73" height="300" fill="#fafaf2"/>
<g fill="#d4d3cc"><circle cx="907.4" cy="610.6" r="3.0"/><circle cx="916.0" cy="612.1" r="2.9"/><circle cx="925.4" cy="612.0" r="2.7"/><circle cx="936.3" cy="610.3" r="2.7"/><circle cx="945.7" cy="613.3" r="2.8"/><circle cx="954.5" cy="612.5" r="3.2"/><circle cx="965.3" cy="611.6" r="3.2"/><circle cx="910.9" cy="622.0" r="2.8"/><circle cx="920.7" cy="619.1" r="2.9"/><circle cx="932.6" cy="619.3" r="3.0"/><circle cx="941.5" cy="620.1" r="3.0"/><circle cx="948.9" cy="618.8" r="2.8"/><circle cx="960.6" cy="620.3" r="2.9"/><circle cx="908.3" cy="629.0" r="2.8"/><circle cx="918.6" cy="630.0" r="2.8"/><circle cx="927.3" cy="629.3" r="3.1"/><circle cx="937.3" cy="628.4" r="3.2"/><circle cx="944.6" cy="628.9" r="3.1"/><circle cx="954.2" cy="629.2" r="2.7"/><circle cx="965.6" cy="630.3" r="3.0"/><circle cx="913.9" cy="637.1" r="3.0"/><circle cx="922.3" cy="638.1" r="2.9"/><circle cx="932.7" cy="639.6" r="2.9"/><circle cx="941.6" cy="636.0" r="3.1"/><circle cx="951.0" cy="639.8" r="3.1"/><circle cx="959.2" cy="637.3" r="3.0"/><circle cx="906.3" cy="646.2" r="2.8"/><circle cx="916.1" cy="644.6" r="3.1"/><circle cx="925.7" cy="645.4" r="2.9"/><circle cx="937.8" cy="644.7" r="2.9"/><circle cx="946.2" cy="647.9" r="3.1"/><circle cx="956.8" cy="645.5" r="2.9"/><circle cx="964.5" cy="647.9" r="3.2"/><circle cx="911.2" cy="653.7" r="2.8"/><circle cx="921.0" cy="654.9" r="3.0"/><circle cx="930.6" cy="653.0" r="2.9"/><circle cx="940.5" cy="655.3" r="3.2"/><circle cx="951.2" cy="655.1" r="3.0"/><circle cx="960.6" cy="653.2" r="3.1"/><circle cx="909.0" cy="665.1" r="3.1"/><circle cx="917.1" cy="663.2" r="2.8"/><circle cx="927.5" cy="661.8" r="2.7"/><circle cx="935.5" cy="662.2" r="2.9"/><circle cx="944.4" cy="661.6" r="2.8"/><circle cx="954.1" cy="663.1" r="2.7"/><circle cx="966.3" cy="664.1" r="2.8"/><circle cx="911.6" cy="671.6" r="2.9"/><circle cx="920.6" cy="673.6" r="3.2"/><circle cx="931.4" cy="672.1" r="2.7"/><circle cx="939.6" cy="671.6" r="2.8"/><circle cx="951.7" cy="670.8" r="2.7"/><circle cx="961.6" cy="672.3" r="2.8"/><circle cx="908.2" cy="678.9" r="3.0"/><circle cx="919.2" cy="682.3" r="3.0"/><circle cx="926.1" cy="680.3" r="2.8"/><circle cx="937.5" cy="680.9" r="3.1"/><circle cx="945.4" cy="679.7" r="3.1"/><circle cx="957.2" cy="682.2" r="3.1"/><circle cx="966.1" cy="681.8" r="2.8"/><circle cx="912.6" cy="688.8" r="2.7"/><circle cx="920.3" cy="688.5" r="2.8"/><circle cx="932.2" cy="691.2" r="2.9"/><circle cx="942.6" cy="691.4" r="3.2"/><circle cx="950.0" cy="688.3" r="2.8"/><circle cx="958.9" cy="688.2" r="3.0"/><circle cx="909.4" cy="699.4" r="2.9"/><circle cx="918.1" cy="699.2" r="2.7"/><circle cx="927.6" cy="699.6" r="3.1"/><circle cx="937.4" cy="697.9" r="2.8"/><circle cx="947.0" cy="697.3" r="3.1"/><circle cx="957.2" cy="697.6" r="2.9"/><circle cx="966.6" cy="698.9" r="2.8"/><circle cx="911.2" cy="705.2" r="3.2"/><circle cx="923.1" cy="705.2" r="3.1"/><circle cx="933.2" cy="707.2" r="2.9"/><circle cx="941.2" cy="705.1" r="2.7"/><circle cx="952.2" cy="707.2" r="3.0"/><circle cx="961.6" cy="706.3" r="3.1"/><circle cx="909.2" cy="714.0" r="2.8"/><circle cx="916.8" cy="714.2" r="3.0"/><circle cx="926.1" cy="714.9" r="2.8"/><circle cx="938.0" cy="714.6" r="2.9"/><circle cx="946.3" cy="716.8" r="2.9"/><circle cx="957.0" cy="715.2" r="3.0"/><circle cx="965.1" cy="713.3" r="2.9"/><circle cx="911.4" cy="721.8" r="3.1"/><circle cx="920.8" cy="723.7" r="3.1"/><circle cx="931.7" cy="723.1" r="3.0"/><circle cx="941.2" cy="724.9" r="2.8"/><circle cx="950.7" cy="722.8" r="2.8"/><circle cx="961.0" cy="723.8" r="3.0"/><circle cx="908.9" cy="734.0" r="2.9"/><circle cx="917.9" cy="732.4" r="3.0"/><circle cx="927.7" cy="732.2" r="3.0"/><circle cx="936.4" cy="734.2" r="3.0"/><circle cx="947.4" cy="734.2" r="2.8"/><circle cx="955.7" cy="734.2" r="3.1"/><circle cx="963.7" cy="730.9" r="2.9"/><circle cx="911.0" cy="740.0" r="2.7"/><circle cx="922.6" cy="742.1" r="3.1"/><circle cx="930.3" cy="741.9" r="3.0"/><circle cx="939.7" cy="742.5" r="3.2"/><circle cx="949.5" cy="742.8" r="2.9"/><circle cx="960.0" cy="743.0" r="3.1"/><circle cx="906.8" cy="749.3" r="3.0"/><circle cx="916.9" cy="748.4" r="2.9"/><circle cx="927.8" cy="747.7" r="3.0"/><circle cx="936.3" cy="747.7" r="2.9"/><circle cx="946.4" cy="749.6" r="2.7"/><circle cx="957.2" cy="750.8" r="3.2"/><circle cx="963.6" cy="748.7" r="2.7"/><circle cx="913.5" cy="757.3" r="2.8"/><circle cx="921.7" cy="759.8" r="3.1"/><circle cx="930.6" cy="756.8" r="3.2"/><circle cx="941.3" cy="759.0" r="2.7"/><circle cx="948.9" cy="759.0" r="2.9"/><circle cx="958.5" cy="760.0" r="3.0"/><circle cx="909.1" cy="765.1" r="3.1"/><circle cx="915.9" cy="768.3" r="2.9"/><circle cx="926.4" cy="767.0" r="3.2"/><circle cx="935.7" cy="765.3" r="3.0"/><circle cx="945.1" cy="765.2" r="2.8"/><circle cx="953.9" cy="765.6" r="2.9"/><circle cx="964.3" cy="767.8" r="2.8"/><circle cx="912.5" cy="774.1" r="2.9"/><circle cx="920.3" cy="774.4" r="2.7"/><circle cx="932.3" cy="775.6" r="2.8"/><circle cx="940.9" cy="777.1" r="2.8"/><circle cx="951.6" cy="775.1" r="2.9"/><circle cx="961.2" cy="775.0" r="3.0"/><circle cx="908.7" cy="785.9" r="2.9"/><circle cx="918.7" cy="784.8" r="3.0"/><circle cx="926.7" cy="783.4" r="2.7"/><circle cx="935.2" cy="782.3" r="3.1"/><circle cx="945.1" cy="782.7" r="2.7"/><circle cx="956.7" cy="785.5" r="3.0"/><circle cx="964.2" cy="783.0" r="2.8"/><circle cx="912.4" cy="791.2" r="2.9"/><circle cx="921.1" cy="794.4" r="3.2"/><circle cx="931.7" cy="791.6" r="3.2"/><circle cx="940.3" cy="792.0" r="2.7"/><circle cx="950.1" cy="792.5" r="3.0"/><circle cx="958.9" cy="792.6" r="2.7"/><circle cx="907.2" cy="799.6" r="2.9"/><circle cx="915.9" cy="799.3" r="2.9"/><circle cx="926.0" cy="801.5" r="3.0"/><circle cx="937.4" cy="801.8" r="3.1"/><circle cx="947.4" cy="800.8" r="2.9"/><circle cx="957.2" cy="799.8" r="3.1"/><circle cx="965.5" cy="799.4" r="3.1"/><circle cx="913.9" cy="810.3" r="3.1"/><circle cx="923.1" cy="808.4" r="3.0"/><circle cx="931.5" cy="811.1" r="3.1"/><circle cx="942.2" cy="810.1" r="3.1"/><circle cx="951.2" cy="810.6" r="2.8"/><circle cx="958.3" cy="808.3" r="2.9"/><circle cx="906.6" cy="819.7" r="3.0"/><circle cx="918.0" cy="818.9" r="3.0"/><circle cx="927.0" cy="816.4" r="3.1"/><circle cx="937.4" cy="818.4" r="3.0"/><circle cx="946.6" cy="816.7" r="3.1"/><circle cx="954.6" cy="816.7" r="2.8"/><circle cx="965.8" cy="817.2" r="3.1"/><circle cx="914.2" cy="827.0" r="2.9"/><circle cx="921.9" cy="827.7" r="3.1"/><circle cx="931.9" cy="827.6" r="2.7"/><circle cx="939.7" cy="826.0" r="3.1"/><circle cx="949.8" cy="827.3" r="2.7"/><circle cx="958.4" cy="826.1" r="3.0"/><circle cx="908.7" cy="836.3" r="2.8"/><circle cx="917.6" cy="835.5" r="2.9"/><circle cx="925.6" cy="837.2" r="2.8"/><circle cx="938.2" cy="837.3" r="2.7"/><circle cx="945.9" cy="836.9" r="3.2"/><circle cx="955.3" cy="834.7" r="2.8"/><circle cx="966.6" cy="834.4" r="3.0"/><circle cx="911.2" cy="844.3" r="3.2"/><circle cx="920.7" cy="845.5" r="3.0"/><circle cx="932.9" cy="845.0" r="2.8"/><circle cx="942.4" cy="844.1" r="2.7"/><circle cx="948.7" cy="844.2" r="2.9"/><circle cx="959.3" cy="842.8" r="2.9"/><circle cx="907.3" cy="854.2" r="2.7"/><circle cx="918.4" cy="854.2" r="2.8"/><circle cx="928.5" cy="853.7" r="3.2"/><circle cx="935.7" cy="852.3" r="2.9"/><circle cx="947.8" cy="853.2" r="2.9"/><circle cx="955.2" cy="851.9" r="2.7"/><circle cx="963.6" cy="854.1" r="2.8"/><circle cx="914.1" cy="860.4" r="2.8"/><circle cx="922.0" cy="860.2" r="2.9"/><circle cx="933.1" cy="862.9" r="3.1"/><circle cx="941.5" cy="863.1" r="3.2"/><circle cx="950.7" cy="862.3" r="2.7"/><circle cx="960.8" cy="861.2" r="3.1"/><circle cx="908.5" cy="869.1" r="2.7"/><circle cx="919.0" cy="868.5" r="2.9"/><circle cx="926.4" cy="869.2" r="3.1"/><circle cx="938.2" cy="869.0" r="3.0"/><circle cx="945.3" cy="870.2" r="2.9"/><circle cx="954.3" cy="868.6" r="2.8"/><circle cx="966.5" cy="870.0" r="2.8"/><circle cx="914.0" cy="880.6" r="2.9"/><circle cx="920.7" cy="877.4" r="2.7"/><circle cx="930.9" cy="877.0" r="2.8"/><circle cx="940.1" cy="878.9" r="3.1"/><circle cx="951.4" cy="878.3" r="2.9"/><circle cx="960.1" cy="878.1" r="2.9"/><circle cx="906.4" cy="886.3" r="3.2"/><circle cx="916.2" cy="887.2" r="3.0"/><circle cx="928.3" cy="886.1" r="2.8"/><circle cx="935.6" cy="886.8" r="2.9"/><circle cx="947.6" cy="888.6" r="3.1"/><circle cx="953.8" cy="885.3" r="3.1"/><circle cx="966.4" cy="887.1" r="3.0"/><circle cx="910.7" cy="895.4" r="3.2"/><circle cx="923.2" cy="897.2" r="3.2"/><circle cx="930.6" cy="894.2" r="2.8"/><circle cx="941.1" cy="896.5" r="3.2"/><circle cx="951.3" cy="896.4" r="3.1"/><circle cx="959.8" cy="896.0" r="2.7"/><circle cx="909.0" cy="903.3" r="3.2"/><circle cx="918.0" cy="903.6" r="2.8"/><circle cx="926.1" cy="904.9" r="3.0"/><circle cx="935.1" cy="902.7" r="3.0"/><circle cx="946.3" cy="904.0" r="2.8"/><circle cx="955.9" cy="902.4" r="2.9"/><circle cx="964.9" cy="906.2" r="3.0"/></g>
<rect x="900" y="610" width="4.5" height="300" fill="#cad4d8" stroke="#8a9498" stroke-width="0.8"/>
<rect x="968" y="610" width="4.5" height="300" fill="#cad4d8" stroke="#8a9498" stroke-width="0.8"/>
</g>
<g>
<path d="M640,763.3 C644,757.3 649,754.3 654,754.3 L823,754.3 L823,772.3 L654,772.3 C649,772.3 644,769.3 640,763.3 Z" fill="url(#scr)" stroke="#5d6160" stroke-width="0.9"/>
<path d="M643,763.3 L823,763.3" stroke="#7c807f" stroke-width="1.4" fill="none"/>
<path d="M661.5,752.1 L658.8,774.5" fill="none" stroke="#8b8f8e" stroke-width="1.5"/>
<path d="M662.8,754.8 L660.3,771.8" fill="none" stroke="#ffffff" stroke-width="1"/>
<path d="M659.9,754.3 Q661.5,750.9 663.1,754.3 M657.2,772.3 Q658.8,775.7 660.4,772.3" fill="#9da1a0" stroke="#4f5352" stroke-width="0.7"/>
<path d="M671.4,752.1 L668.7,774.5" fill="none" stroke="#8b8f8e" stroke-width="1.5"/>
<path d="M672.7,754.8 L670.2,771.8" fill="none" stroke="#ffffff" stroke-width="1"/>
<path d="M669.8,754.3 Q671.4,750.9 673.0,754.3 M667.1,772.3 Q668.7,775.7 670.3,772.3" fill="#9da1a0" stroke="#4f5352" stroke-width="0.7"/>
<path d="M681.3,752.1 L678.6,774.5" fill="none" stroke="#8b8f8e" stroke-width="1.5"/>
<path d="M682.6,754.8 L680.1,771.8" fill="none" stroke="#ffffff" stroke-width="1"/>
<path d="M679.7,754.3 Q681.3,750.9 682.9,754.3 M677.0,772.3 Q678.6,775.7 680.2,772.3" fill="#9da1a0" stroke="#4f5352" stroke-width="0.7"/>
<path d="M691.2,752.1 L688.5,774.5" fill="none" stroke="#8b8f8e" stroke-width="1.5"/>
<path d="M692.5,754.8 L690.0,771.8" fill="none" stroke="#ffffff" stroke-width="1"/>
<path d="M689.6,754.3 Q691.2,750.9 692.8,754.3 M686.9,772.3 Q688.5,775.7 690.1,772.3" fill="#9da1a0" stroke="#4f5352" stroke-width="0.7"/>
<path d="M701.1,752.1 L698.4,774.5" fill="none" stroke="#8b8f8e" stroke-width="1.5"/>
<path d="M702.4,754.8 L699.9,771.8" fill="none" stroke="#ffffff" stroke-width="1"/>
<path d="M699.5,754.3 Q701.1,750.9 702.7,754.3 M696.8,772.3 Q698.4,775.7 700.0,772.3" fill="#9da1a0" stroke="#4f5352" stroke-width="0.7"/>
<path d="M711.0,752.1 L708.3,774.5" fill="none" stroke="#8b8f8e" stroke-width="1.5"/>
<path d="M712.3,754.8 L709.8,771.8" fill="none" stroke="#ffffff" stroke-width="1"/>
<path d="M709.4,754.3 Q711.0,750.9 712.6,754.3 M706.7,772.3 Q708.3,775.7 709.9,772.3" fill="#9da1a0" stroke="#4f5352" stroke-width="0.7"/>
<path d="M720.9,752.1 L718.2,774.5" fill="none" stroke="#8b8f8e" stroke-width="1.5"/>
<path d="M722.2,754.8 L719.7,771.8" fill="none" stroke="#ffffff" stroke-width="1"/>
<path d="M719.3,754.3 Q720.9,750.9 722.5,754.3 M716.6,772.3 Q718.2,775.7 719.8,772.3" fill="#9da1a0" stroke="#4f5352" stroke-width="0.7"/>
<path d="M730.8,752.1 L728.1,774.5" fill="none" stroke="#8b8f8e" stroke-width="1.5"/>
<path d="M732.1,754.8 L729.6,771.8" fill="none" stroke="#ffffff" stroke-width="1"/>
<path d="M729.2,754.3 Q730.8,750.9 732.4,754.3 M726.5,772.3 Q728.1,775.7 729.7,772.3" fill="#9da1a0" stroke="#4f5352" stroke-width="0.7"/>
<path d="M740.7,752.1 L738.0,774.5" fill="none" stroke="#8b8f8e" stroke-width="1.5"/>
<path d="M742.0,754.8 L739.5,771.8" fill="none" stroke="#ffffff" stroke-width="1"/>
<path d="M739.1,754.3 Q740.7,750.9 742.3,754.3 M736.4,772.3 Q738.0,775.7 739.6,772.3" fill="#9da1a0" stroke="#4f5352" stroke-width="0.7"/>
<path d="M750.6,752.1 L747.9,774.5" fill="none" stroke="#8b8f8e" stroke-width="1.5"/>
<path d="M751.9,754.8 L749.4,771.8" fill="none" stroke="#ffffff" stroke-width="1"/>
<path d="M749.0,754.3 Q750.6,750.9 752.2,754.3 M746.3,772.3 Q747.9,775.7 749.5,772.3" fill="#9da1a0" stroke="#4f5352" stroke-width="0.7"/>
<path d="M760.5,752.1 L757.8,774.5" fill="none" stroke="#8b8f8e" stroke-width="1.5"/>
<path d="M761.8,754.8 L759.3,771.8" fill="none" stroke="#ffffff" stroke-width="1"/>
<path d="M758.9,754.3 Q760.5,750.9 762.1,754.3 M756.2,772.3 Q757.8,775.7 759.4,772.3" fill="#9da1a0" stroke="#4f5352" stroke-width="0.7"/>
<path d="M770.4,752.1 L767.7,774.5" fill="none" stroke="#8b8f8e" stroke-width="1.5"/>
<path d="M771.7,754.8 L769.2,771.8" fill="none" stroke="#ffffff" stroke-width="1"/>
<path d="M768.8,754.3 Q770.4,750.9 772.0,754.3 M766.1,772.3 Q767.7,775.7 769.3,772.3" fill="#9da1a0" stroke="#4f5352" stroke-width="0.7"/>
<path d="M780.3,752.1 L777.6,774.5" fill="none" stroke="#8b8f8e" stroke-width="1.5"/>
<path d="M781.6,754.8 L779.1,771.8" fill="none" stroke="#ffffff" stroke-width="1"/>
<path d="M778.7,754.3 Q780.3,750.9 781.9,754.3 M776.0,772.3 Q777.6,775.7 779.2,772.3" fill="#9da1a0" stroke="#4f5352" stroke-width="0.7"/>
<path d="M790.2,752.1 L787.5,774.5" fill="none" stroke="#8b8f8e" stroke-width="1.5"/>
<path d="M791.5,754.8 L789.0,771.8" fill="none" stroke="#ffffff" stroke-width="1"/>
<path d="M788.6,754.3 Q790.2,750.9 791.8,754.3 M785.9,772.3 Q787.5,775.7 789.1,772.3" fill="#9da1a0" stroke="#4f5352" stroke-width="0.7"/>
<path d="M800.1,752.1 L797.4,774.5" fill="none" stroke="#8b8f8e" stroke-width="1.5"/>
<path d="M801.4,754.8 L798.9,771.8" fill="none" stroke="#ffffff" stroke-width="1"/>
<path d="M798.5,754.3 Q800.1,750.9 801.7,754.3 M795.8,772.3 Q797.4,775.7 799.0,772.3" fill="#9da1a0" stroke="#4f5352" stroke-width="0.7"/>
<path d="M810.0,752.1 L807.3,774.5" fill="none" stroke="#8b8f8e" stroke-width="1.5"/>
<path d="M811.3,754.8 L808.8,771.8" fill="none" stroke="#ffffff" stroke-width="1"/>
<path d="M808.4,754.3 Q810.0,750.9 811.6,754.3 M805.7,772.3 Q807.3,775.7 808.9,772.3" fill="#9da1a0" stroke="#4f5352" stroke-width="0.7"/>
<path d="M819.9,752.1 L817.2,774.5" fill="none" stroke="#8b8f8e" stroke-width="1.5"/>
<path d="M821.2,754.8 L818.7,771.8" fill="none" stroke="#ffffff" stroke-width="1"/>
<path d="M818.3,754.3 Q819.9,750.9 821.5,754.3 M815.6,772.3 Q817.2,775.7 818.8,772.3" fill="#9da1a0" stroke="#4f5352" stroke-width="0.7"/>
</g>
<g transform="translate(821,763.3)" stroke="#4f5352" stroke-width="0.9">
<path d="M83,-19.5 C89,-24 94,-26.5 103,-26.5 L154,-26.5 L154,26.5 L103,26.5 C94,26.5 89,24 83,19.5 Z" fill="#eff0f0"/>
<g transform="scale(1,1.03)"><path d="M85,-19.5 C91,-16 97,-15.4 109,-15.4 L154,-15.4" fill="none" stroke="#6b6f6e" stroke-width="1"/>
<path d="M87,-2 C91,-5 99,-6.4 113,-6.4 L154,-6.4" fill="none" stroke="#6b6f6e" stroke-width="1"/>
<path d="M83,0.4 L154,0.4" fill="none" stroke="#55595a" stroke-width="1.1"/>
<path d="M87,3 C91,5.5 99,6.4 113,6.4 L154,6.4" fill="none" stroke="#6b6f6e" stroke-width="1"/>
<path d="M85,19.5 C91,16 97,15.4 109,15.4 L154,15.4" fill="none" stroke="#6b6f6e" stroke-width="1"/>
<path d="M105,-13.6 L154,-13.6" stroke="#c9cccb" stroke-width="2.2" fill="none"/>
<path d="M105,-4.6 L154,-4.6" stroke="#c9cccb" stroke-width="2.2" fill="none"/>
<path d="M105,8.2 L154,8.2" stroke="#c9cccb" stroke-width="2.2" fill="none"/>
<path d="M105,17.2 L154,17.2" stroke="#c9cccb" stroke-width="2.2" fill="none"/>
<path d="M107,-10 L154,-10" stroke="#ffffff" stroke-width="1.8" fill="none"/>
<path d="M107,3 L154,3" stroke="#ffffff" stroke-width="1.8" fill="none"/>
<path d="M107,12 L154,12" stroke="#ffffff" stroke-width="1.8" fill="none"/>
<path d="M83,-19.5 C86,-12 86,-5 83,0.4 C86,6 86,13 83,19.5" fill="none" stroke="#55595a" stroke-width="1"/></g>
<rect x="153.5" y="-28" width="5.5" height="56" rx="2.5" fill="#f1f2f2"/>
<path d="M0,-13.5 L6,-19.5 L40,-19.5 L40,19.5 L6,19.5 L0,13.5 Z" fill="url(#plas)"/>
<path d="M6,-19.5 L6,19.5" fill="none"/>
<rect x="34" y="-19.5" width="6.5" height="39" fill="#dcdfde"/>
<path d="M41.3,-20.2 C42.8,-24.2 46.8,-21.9 48.9,-24.0 C51.0,-26.1 52.1,-30.3 53.7,-32.7 C55.3,-35.1 56.1,-36.7 58.5,-38.4 C60.9,-40.1 65.4,-42.7 68.1,-42.7 C70.8,-42.7 72.4,-39.6 74.8,-38.4 C77.2,-37.2 80.4,-37.1 82.5,-35.5 C84.6,-33.9 86.3,-31.4 87.3,-28.8 C88.2,-26.2 86.6,-22.3 88.2,-20.2 C89.8,-18.1 95.1,-18.9 96.9,-16.4 C98.7,-13.8 98.6,-9.2 98.8,-4.9 C99.0,-0.6 98.5,5.5 97.9,9.5 C97.3,13.5 96.8,17.2 95.0,19.1 C93.2,21.0 88.6,19.4 87.3,21.0 C86.0,22.6 88.1,26.3 87.3,28.7 C86.5,31.1 84.9,33.8 82.5,35.4 C80.1,37.0 76.1,37.8 72.9,38.3 C69.7,38.8 66.0,39.1 63.3,38.3 C60.6,37.5 58.4,35.4 56.6,33.5 C54.9,31.6 54.1,29.2 52.8,26.8 C51.5,24.4 50.8,21.3 48.9,19.1 C47.0,16.9 42.8,16.6 41.3,13.4 C39.8,10.2 39.8,5.5 39.8,-0.1 C39.8,-5.7 39.8,-16.2 41.3,-20.2Z" fill="#e3e5e4" stroke="#3f4342" stroke-width="1"/>
<path d="M50.0,-33.0 C51.0,-38.0 55.0,-38.7 58.0,-40.0 C61.0,-41.3 65.0,-42.3 68.0,-41.0 C71.0,-39.7 73.7,-35.8 76.0,-32.0 C78.3,-28.2 80.3,-23.3 82.0,-18.0 C83.7,-12.7 85.7,-6.0 86.0,0.0 C86.3,6.0 85.3,12.5 84.0,18.0 C82.7,23.5 80.7,29.8 78.0,33.0 C75.3,36.2 71.0,37.5 68.0,37.0 C65.0,36.5 62.2,34.2 60.0,30.0 C57.8,25.8 56.3,18.7 55.0,12.0 C53.7,5.3 52.8,-2.5 52.0,-10.0 C51.2,-17.5 49.0,-28.0 50.0,-33.0Z" fill="#c9cccb" stroke="#3f4342" stroke-width="0.9"/>
<path d="M58.7,-18.6 l3.4,-0.4" stroke="#666a69" stroke-width="0.9"/>
<path d="M62.3,-30.6 l5.5,-1.0" stroke="#666a69" stroke-width="0.9"/>
<path d="M60.6,-33.6 l4.9,-3.0" stroke="#666a69" stroke-width="0.9"/>
<path d="M56.6,16.9 l3.3,1.7" stroke="#666a69" stroke-width="0.9"/>
<path d="M76.9,28.2 l3.5,-0.8" stroke="#666a69" stroke-width="0.9"/>
<path d="M79.8,-17.3 l4.6,-3.0" stroke="#666a69" stroke-width="0.9"/>
<path d="M63.3,-31.0 l4.2,-0.3" stroke="#666a69" stroke-width="0.9"/>
<path d="M79.1,16.9 l3.2,3.2" stroke="#666a69" stroke-width="0.9"/>
<path d="M79.2,-23.0 l4.1,-2.8" stroke="#666a69" stroke-width="0.9"/>
<path d="M78.2,-23.7 l4.6,1.4" stroke="#666a69" stroke-width="0.9"/>
<path d="M77.4,1.4 l6.0,3.2" stroke="#666a69" stroke-width="0.9"/>
<path d="M71.4,-27.8 l5.3,1.3" stroke="#666a69" stroke-width="0.9"/>
<path d="M76.5,8.1 l5.0,-0.8" stroke="#666a69" stroke-width="0.9"/>
<path d="M63.8,8.0 l3.5,-2.7" stroke="#666a69" stroke-width="0.9"/>
<path d="M65.4,28.7 l5.4,3.3" stroke="#666a69" stroke-width="0.9"/>
<path d="M74.7,-30.9 l4.5,-1.8" stroke="#666a69" stroke-width="0.9"/>
<path d="M68.8,12.1 l6.0,-0.5" stroke="#666a69" stroke-width="0.9"/>
<path d="M78.2,17.5 l3.8,0.7" stroke="#666a69" stroke-width="0.9"/>
<path d="M71.2,8.2 l4.3,3.3" stroke="#666a69" stroke-width="0.9"/>
<path d="M75.0,21.4 l4.9,-0.2" stroke="#666a69" stroke-width="0.9"/>
<path d="M77.2,4.0 l5.3,0.9" stroke="#666a69" stroke-width="0.9"/>
<path d="M57.3,-18.0 l5.0,-3.4" stroke="#666a69" stroke-width="0.9"/>
<path d="M76.6,15.7 l3.3,2.5" stroke="#666a69" stroke-width="0.9"/>
<path d="M62.6,-33.7 l5.8,-2.6" stroke="#666a69" stroke-width="0.9"/>
<path d="M70.9,24.4 l4.4,3.4" stroke="#666a69" stroke-width="0.9"/>
<path d="M69.9,2.8 l4.0,-2.8" stroke="#666a69" stroke-width="0.9"/>
<path d="M67.5,22.0 l4,-3 l0,5 l-4,3 Z" fill="#f2f3f3" stroke="#666a69" stroke-width="0.6"/>
<path d="M69.7,7.0 l4,-3 l0,5 l-4,3 Z" fill="#f2f3f3" stroke="#666a69" stroke-width="0.6"/>
<path d="M70.6,-18.4 l4,-3 l0,5 l-4,3 Z" fill="#f2f3f3" stroke="#666a69" stroke-width="0.6"/>
<path d="M67.0,13.9 l4,-3 l0,5 l-4,3 Z" fill="#f2f3f3" stroke="#666a69" stroke-width="0.6"/>
<path d="M78.0,20.2 l4,-3 l0,5 l-4,3 Z" fill="#f2f3f3" stroke="#666a69" stroke-width="0.6"/>
<path d="M66.0,-23.7 l4,-3 l0,5 l-4,3 Z" fill="#f2f3f3" stroke="#666a69" stroke-width="0.6"/>
<path d="M58.3,-8.1 l4,-3 l0,5 l-4,3 Z" fill="#f2f3f3" stroke="#666a69" stroke-width="0.6"/>
<path d="M73.1,-21.3 l4,-3 l0,5 l-4,3 Z" fill="#f2f3f3" stroke="#666a69" stroke-width="0.6"/>
<path d="M73.9,-23.8 l4,-3 l0,5 l-4,3 Z" fill="#f2f3f3" stroke="#666a69" stroke-width="0.6"/>
<path d="M60.1,-25.4 l4,-3 l0,5 l-4,3 Z" fill="#f2f3f3" stroke="#666a69" stroke-width="0.6"/>
<path d="M62,-39 C70,-20 74,0 66,36" fill="none" stroke="#3f4342" stroke-width="0.9"/>
<path d="M78,-12 C84,-20 95,-18 98,-6 C100,6 98,16 92,20 C86,23 80,19 78,10 C76,3 76,-6 78,-12 Z" fill="#e6e8e7" stroke="#3f4342" stroke-width="0.9"/>
<path d="M41,-20 C47,-24 53,-22 55,-12 C57,0 56,12 52,22 C48,20 44,16 41,13 Z" fill="#e9ebea" stroke="#3f4342" stroke-width="0.8"/>
</g>
<rect x="977.5" y="680" width="50" height="170" fill="#a8702a"/>
<path d="M982.1,681.0 C982.2,685.0 982.3,697.0 982.8,705.0 C983.3,713.0 984.8,721.0 985.2,729.0 C985.7,737.0 985.0,745.0 985.3,753.0 C985.7,761.0 987.0,769.0 987.3,777.0 C987.6,785.0 987.3,793.0 987.1,801.0 C986.8,809.0 986.0,817.0 985.7,825.0 C985.3,833.0 985.3,845.0 985.2,849.0" fill="none" stroke="#744a1b" stroke-width="1.1"/>
<path d="M995.1,681.0 C994.4,685.0 991.8,697.0 990.9,705.0 C990.0,713.0 989.9,721.0 989.8,729.0 C989.7,737.0 989.8,745.0 990.5,753.0 C991.1,761.0 993.4,769.0 993.7,777.0 C994.0,785.0 993.0,793.0 992.4,801.0 C991.8,809.0 990.2,817.0 990.0,825.0 C989.9,833.0 991.2,845.0 991.4,849.0" fill="none" stroke="#744a1b" stroke-width="1.1"/>
<path d="M1001.3,681.0 C1002.0,685.0 1006.0,697.0 1005.9,705.0 C1005.7,713.0 1000.4,721.0 1000.4,729.0 C1000.4,737.0 1005.7,745.0 1005.7,753.0 C1005.8,761.0 1000.8,769.0 1000.6,777.0 C1000.3,785.0 1003.3,793.0 1004.1,801.0 C1005.0,809.0 1006.0,817.0 1005.5,825.0 C1005.0,833.0 1001.9,845.0 1001.2,849.0" fill="none" stroke="#744a1b" stroke-width="1.1"/>
<path d="M1012.7,681.0 C1013.2,685.0 1015.8,697.0 1016.0,705.0 C1016.1,713.0 1013.5,721.0 1013.5,729.0 C1013.5,737.0 1016.0,745.0 1015.9,753.0 C1015.9,761.0 1013.9,769.0 1013.2,777.0 C1012.4,785.0 1011.9,793.0 1011.5,801.0 C1011.1,809.0 1010.2,817.0 1010.7,825.0 C1011.2,833.0 1014.1,845.0 1014.7,849.0" fill="none" stroke="#744a1b" stroke-width="1.1"/>
<path d="M1023.1,681.0 C1022.4,685.0 1019.4,697.0 1019.3,705.0 C1019.1,713.0 1021.7,721.0 1022.3,729.0 C1022.9,737.0 1023.6,745.0 1023.0,753.0 C1022.4,761.0 1019.5,769.0 1018.7,777.0 C1017.9,785.0 1018.3,793.0 1018.1,801.0 C1018.0,809.0 1017.1,817.0 1018.0,825.0 C1018.8,833.0 1022.4,845.0 1023.3,849.0" fill="none" stroke="#744a1b" stroke-width="1.1"/>
<path d="M1004.5,846.6 C1003.5,822.8 1003.5,799.0 1008.5,799.0 C1013.5,799.0 1013.5,822.8 1012.5,846.6" fill="none" stroke="#744a1b" stroke-width="1"/>
<path d="M986.0,683.4 C985.0,707.2 985.0,731.0 990.0,731.0 C995.0,731.0 995.0,707.2 994.0,683.4" fill="none" stroke="#744a1b" stroke-width="1"/>
<rect x="977.5" y="680" width="50" height="170" fill="none" stroke="#4d3517" stroke-width="1.3"/>
<path d="M977.5,750 L1009,750 L1027.5,737 L1027.5,788 L1009,775 L977.5,775 Z" fill="#6d4618"/>
<rect x="976" y="754" width="35" height="17" fill="url(#scr)" stroke="#555958" stroke-width="0.9"/>
<path d="M1010,754 L1027.5,741 L1027.5,785 L1010,771 Z" fill="url(#scr)" stroke="#555958" stroke-width="0.9"/>
<path d="M1065,764 C1075,750.0 1091,744 1112,744 L1196,744 L1196,784 L1112,784 C1091,784 1075,778.0 1065,764 Z" fill="url(#steel2)" stroke="#5a5e5d" stroke-width="1"/>
<path d="M1068,762.4 C1080,761 1100,759 1111,757 C1115.5,755.5 1115.5,750 1110,748.5 C1100,747.5 1083,752 1068,762.4 Z" fill="url(#flute)" stroke="#4f5352" stroke-width="0.8"/>
<path d="M1068,765.6 C1080,767 1100,769 1111,771 C1115.5,772.5 1115.5,778 1110,779.5 C1100,780.5 1083,776 1068,765.6 Z" fill="url(#flute)" stroke="#4f5352" stroke-width="0.8"/>
<path d="M1067,764 L1120,764" stroke="#fbfbfb" stroke-width="2.4" fill="none"/>
<rect x="33.7" y="4.3" width="180.5" height="37" fill="#e3181f"/><text x="40" y="36" class="lb" textLength="140.5" lengthAdjust="spacingAndGlyphs">1. Bohren</text>
<rect x="33.8" y="324.1" width="306.1" height="36.6" fill="#e3181f"/><text x="41" y="354" class="lb" textLength="295" lengthAdjust="spacingAndGlyphs">2. Bohrloch reinigen</text>
<rect x="34" y="643.4" width="232.5" height="36.6" fill="#e3181f"/><text x="40.3" y="673.5" class="lb" textLength="222.5" lengthAdjust="spacingAndGlyphs">3. Dübel setzen</text>
<rect x="34" y="963.4" width="337.5" height="36.6" fill="#e3181f"/><text x="40.3" y="993.5" class="lb" textLength="327.5" lengthAdjust="spacingAndGlyphs">4. Schraube eindrehen</text>
<rect x="644" y="4.5" width="273.6" height="36.9" fill="#e3181f"/><text x="650" y="36" class="lb" textLength="259" lengthAdjust="spacingAndGlyphs">Resultat im Beton</text>
<rect x="644" y="324" width="313.5" height="36.6" fill="#e3181f"/><text x="650" y="354" class="lb" textLength="304" lengthAdjust="spacingAndGlyphs">Resultat in Lochstein</text>
<rect x="644" y="643.4" width="338" height="36.6" fill="#e3181f"/><text x="650" y="673.5" class="lb" textLength="328" lengthAdjust="spacingAndGlyphs">Resultat hinter Platten</text>
<rect x="5.3" y="-24.2" width="579.4000000000001" height="288.0" fill="none" stroke="#1b2222" stroke-width="2.2" stroke-dasharray="6.6 3.85" stroke-dashoffset="3.75"/>
<rect x="5.3" y="295.8" width="579.4000000000001" height="287.90000000000003" fill="none" stroke="#1b2222" stroke-width="2.2" stroke-dasharray="6.6 3.85" stroke-dashoffset="3.75"/>
<rect x="5.3" y="615.2" width="579.4000000000001" height="288.29999999999995" fill="none" stroke="#1b2222" stroke-width="2.2" stroke-dasharray="6.6 3.85" stroke-dashoffset="3.75"/>
<rect x="5.3" y="934.8" width="579.4000000000001" height="288.0" fill="none" stroke="#1b2222" stroke-width="2.2" stroke-dasharray="6.6 3.85" stroke-dashoffset="3.75"/>
<rect x="616" y="-24.2" width="578.7" height="288.0" fill="none" stroke="#1b2222" stroke-width="2.2" stroke-dasharray="6.6 3.85" stroke-dashoffset="3.75"/>
<rect x="616" y="295.8" width="578.7" height="287.90000000000003" fill="none" stroke="#1b2222" stroke-width="2.2" stroke-dasharray="6.6 3.85" stroke-dashoffset="3.75"/>
<rect x="616" y="615.2" width="578.7" height="288.29999999999995" fill="none" stroke="#1b2222" stroke-width="2.2" stroke-dasharray="6.6 3.85" stroke-dashoffset="3.75"/>
</svg></body></html>
